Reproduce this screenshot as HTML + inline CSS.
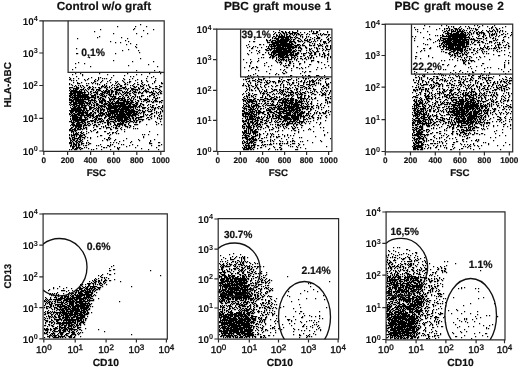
<!DOCTYPE html><html><head><meta charset="utf-8"><style>html,body{margin:0;padding:0;background:#fff;width:520px;height:368px;overflow:hidden}svg{display:block;filter:blur(0.3px)}text{font-family:"Liberation Sans",sans-serif;text-rendering:geometricPrecision}</style></head><body><svg width="520" height="368" viewBox="0 0 520 368" font-family="Liberation Sans, sans-serif" fill="#111"><path d="M140 24h1.2v1.2h-1.2zM424 25h1.2v1.2h-1.2zM441 25h1.2v1.2h-1.2zM446 25h1.2v1.2h-1.2zM474 25h1.2v1.2h-1.2zM477 25h1.2v1.2h-1.2zM482 25h1.2v1.2h-1.2zM494 25h1.2v1.2h-1.2zM117 26h1.2v1.2h-1.2zM135 26h1.2v1.2h-1.2zM146 26h1.2v1.2h-1.2zM429 26h1.2v1.2h-1.2zM448 26h1.2v1.2h-1.2zM451 26h1.2v1.2h-1.2zM453 26h1.2v1.2h-1.2zM460 26h1.2v1.2h-1.2zM465 26h1.2v1.2h-1.2zM468 26h1.2v1.2h-1.2zM479 26h1.2v1.2h-1.2zM487 26h1.2v1.2h-1.2zM492 26h1.2v1.2h-1.2zM505 26h1.2v1.2h-1.2zM414 27h1.2v1.2h-1.2zM448 27h1.2v1.2h-1.2zM453 27h1.2v1.2h-1.2zM459 27h1.2v1.2h-1.2zM469 27h1.2v1.2h-1.2zM478 27h1.2v1.2h-1.2zM491 27h2.2v1.2h-2.2zM495 27h1.2v1.2h-1.2zM502 27h1.2v1.2h-1.2zM134 28h1.2v1.2h-1.2zM423 28h1.2v1.2h-1.2zM439 28h1.2v1.2h-1.2zM444 28h1.2v1.2h-1.2zM446 28h2.2v1.2h-2.2zM449 28h1.2v1.2h-1.2zM454 28h3.2v1.2h-3.2zM458 28h1.2v1.2h-1.2zM461 28h1.2v1.2h-1.2zM467 28h1.2v1.2h-1.2zM469 28h1.2v1.2h-1.2zM471 28h1.2v1.2h-1.2zM473 28h1.2v1.2h-1.2zM475 28h1.2v1.2h-1.2zM489 28h1.2v1.2h-1.2zM491 28h1.2v1.2h-1.2zM496 28h1.2v1.2h-1.2zM499 28h1.2v1.2h-1.2zM100 29h1.2v1.2h-1.2zM133 29h1.2v1.2h-1.2zM153 29h1.2v1.2h-1.2zM415 29h1.2v1.2h-1.2zM417 29h1.2v1.2h-1.2zM436 29h1.2v1.2h-1.2zM444 29h1.2v1.2h-1.2zM449 29h1.2v1.2h-1.2zM451 29h2.2v1.2h-2.2zM455 29h3.2v1.2h-3.2zM459 29h2.2v1.2h-2.2zM463 29h1.2v1.2h-1.2zM475 29h3.2v1.2h-3.2zM493 29h1.2v1.2h-1.2zM496 29h2.2v1.2h-2.2zM143 30h1.2v1.2h-1.2zM279 30h1.2v1.2h-1.2zM297 30h1.2v1.2h-1.2zM311 30h1.2v1.2h-1.2zM319 30h1.2v1.2h-1.2zM442 30h1.2v1.2h-1.2zM446 30h1.2v1.2h-1.2zM448 30h2.2v1.2h-2.2zM451 30h1.2v1.2h-1.2zM453 30h1.2v1.2h-1.2zM455 30h1.2v1.2h-1.2zM457 30h1.2v1.2h-1.2zM459 30h2.2v1.2h-2.2zM462 30h1.2v1.2h-1.2zM464 30h1.2v1.2h-1.2zM466 30h1.2v1.2h-1.2zM470 30h1.2v1.2h-1.2zM472 30h1.2v1.2h-1.2zM476 30h1.2v1.2h-1.2zM482 30h1.2v1.2h-1.2zM486 30h1.2v1.2h-1.2zM489 30h1.2v1.2h-1.2zM492 30h1.2v1.2h-1.2zM494 30h1.2v1.2h-1.2zM497 30h1.2v1.2h-1.2zM500 30h1.2v1.2h-1.2zM502 30h1.2v1.2h-1.2zM94 31h1.2v1.2h-1.2zM273 31h1.2v1.2h-1.2zM281 31h2.2v1.2h-2.2zM285 31h1.2v1.2h-1.2zM289 31h1.2v1.2h-1.2zM292 31h1.2v1.2h-1.2zM297 31h1.2v1.2h-1.2zM309 31h1.2v1.2h-1.2zM311 31h1.2v1.2h-1.2zM313 31h1.2v1.2h-1.2zM316 31h2.2v1.2h-2.2zM327 31h1.2v1.2h-1.2zM417 31h1.2v1.2h-1.2zM427 31h1.2v1.2h-1.2zM444 31h2.2v1.2h-2.2zM447 31h1.2v1.2h-1.2zM451 31h5.2v1.2h-5.2zM457 31h7.2v1.2h-7.2zM469 31h1.2v1.2h-1.2zM474 31h1.2v1.2h-1.2zM478 31h1.2v1.2h-1.2zM481 31h1.2v1.2h-1.2zM487 31h2.2v1.2h-2.2zM490 31h3.2v1.2h-3.2zM495 31h1.2v1.2h-1.2zM497 31h1.2v1.2h-1.2zM499 31h1.2v1.2h-1.2zM502 31h1.2v1.2h-1.2zM505 31h1.2v1.2h-1.2zM275 32h1.2v1.2h-1.2zM278 32h2.2v1.2h-2.2zM282 32h2.2v1.2h-2.2zM285 32h2.2v1.2h-2.2zM288 32h2.2v1.2h-2.2zM292 32h5.2v1.2h-5.2zM300 32h1.2v1.2h-1.2zM304 32h1.2v1.2h-1.2zM313 32h1.2v1.2h-1.2zM316 32h2.2v1.2h-2.2zM327 32h1.2v1.2h-1.2zM420 32h1.2v1.2h-1.2zM443 32h1.2v1.2h-1.2zM447 32h2.2v1.2h-2.2zM451 32h1.2v1.2h-1.2zM456 32h3.2v1.2h-3.2zM461 32h2.2v1.2h-2.2zM464 32h2.2v1.2h-2.2zM467 32h1.2v1.2h-1.2zM469 32h2.2v1.2h-2.2zM473 32h1.2v1.2h-1.2zM476 32h2.2v1.2h-2.2zM479 32h5.2v1.2h-5.2zM488 32h1.2v1.2h-1.2zM495 32h1.2v1.2h-1.2zM499 32h1.2v1.2h-1.2zM511 32h1.2v1.2h-1.2zM113 33h1.2v1.2h-1.2zM136 33h1.2v1.2h-1.2zM147 33h1.2v1.2h-1.2zM274 33h1.2v1.2h-1.2zM280 33h1.2v1.2h-1.2zM283 33h2.2v1.2h-2.2zM286 33h1.2v1.2h-1.2zM289 33h4.2v1.2h-4.2zM294 33h2.2v1.2h-2.2zM297 33h2.2v1.2h-2.2zM307 33h1.2v1.2h-1.2zM312 33h5.2v1.2h-5.2zM320 33h1.2v1.2h-1.2zM323 33h1.2v1.2h-1.2zM445 33h7.2v1.2h-7.2zM453 33h6.2v1.2h-6.2zM460 33h4.2v1.2h-4.2zM465 33h1.2v1.2h-1.2zM468 33h1.2v1.2h-1.2zM471 33h1.2v1.2h-1.2zM473 33h1.2v1.2h-1.2zM476 33h2.2v1.2h-2.2zM479 33h1.2v1.2h-1.2zM481 33h1.2v1.2h-1.2zM483 33h2.2v1.2h-2.2zM489 33h1.2v1.2h-1.2zM492 33h1.2v1.2h-1.2zM494 33h1.2v1.2h-1.2zM496 33h1.2v1.2h-1.2zM503 33h1.2v1.2h-1.2zM507 33h1.2v1.2h-1.2zM273 34h1.2v1.2h-1.2zM276 34h1.2v1.2h-1.2zM279 34h1.2v1.2h-1.2zM281 34h1.2v1.2h-1.2zM284 34h1.2v1.2h-1.2zM286 34h2.2v1.2h-2.2zM290 34h1.2v1.2h-1.2zM292 34h1.2v1.2h-1.2zM294 34h1.2v1.2h-1.2zM296 34h1.2v1.2h-1.2zM298 34h2.2v1.2h-2.2zM301 34h2.2v1.2h-2.2zM306 34h1.2v1.2h-1.2zM309 34h1.2v1.2h-1.2zM318 34h1.2v1.2h-1.2zM320 34h1.2v1.2h-1.2zM322 34h1.2v1.2h-1.2zM324 34h3.2v1.2h-3.2zM328 34h2.2v1.2h-2.2zM429 34h1.2v1.2h-1.2zM442 34h1.2v1.2h-1.2zM447 34h2.2v1.2h-2.2zM450 34h16.2v1.2h-16.2zM467 34h1.2v1.2h-1.2zM469 34h1.2v1.2h-1.2zM471 34h1.2v1.2h-1.2zM477 34h2.2v1.2h-2.2zM483 34h2.2v1.2h-2.2zM489 34h1.2v1.2h-1.2zM491 34h4.2v1.2h-4.2zM496 34h1.2v1.2h-1.2zM501 34h2.2v1.2h-2.2zM505 34h1.2v1.2h-1.2zM511 34h1.2v1.2h-1.2zM276 35h2.2v1.2h-2.2zM279 35h1.2v1.2h-1.2zM281 35h2.2v1.2h-2.2zM284 35h1.2v1.2h-1.2zM286 35h1.2v1.2h-1.2zM289 35h1.2v1.2h-1.2zM293 35h1.2v1.2h-1.2zM296 35h1.2v1.2h-1.2zM300 35h1.2v1.2h-1.2zM316 35h1.2v1.2h-1.2zM321 35h1.2v1.2h-1.2zM328 35h1.2v1.2h-1.2zM435 35h1.2v1.2h-1.2zM437 35h1.2v1.2h-1.2zM440 35h1.2v1.2h-1.2zM442 35h2.2v1.2h-2.2zM446 35h1.2v1.2h-1.2zM448 35h19.2v1.2h-19.2zM469 35h1.2v1.2h-1.2zM479 35h1.2v1.2h-1.2zM483 35h1.2v1.2h-1.2zM485 35h1.2v1.2h-1.2zM489 35h1.2v1.2h-1.2zM491 35h2.2v1.2h-2.2zM496 35h1.2v1.2h-1.2zM499 35h1.2v1.2h-1.2zM510 35h1.2v1.2h-1.2zM99 36h1.2v1.2h-1.2zM141 36h1.2v1.2h-1.2zM273 36h2.2v1.2h-2.2zM276 36h1.2v1.2h-1.2zM278 36h7.2v1.2h-7.2zM286 36h5.2v1.2h-5.2zM295 36h1.2v1.2h-1.2zM300 36h1.2v1.2h-1.2zM302 36h1.2v1.2h-1.2zM306 36h1.2v1.2h-1.2zM308 36h1.2v1.2h-1.2zM317 36h1.2v1.2h-1.2zM327 36h1.2v1.2h-1.2zM412 36h1.2v1.2h-1.2zM415 36h1.2v1.2h-1.2zM442 36h24.2v1.2h-24.2zM468 36h1.2v1.2h-1.2zM472 36h1.2v1.2h-1.2zM478 36h1.2v1.2h-1.2zM482 36h2.2v1.2h-2.2zM489 36h1.2v1.2h-1.2zM495 36h1.2v1.2h-1.2zM498 36h1.2v1.2h-1.2zM504 36h2.2v1.2h-2.2zM97 37h1.2v1.2h-1.2zM121 37h1.2v1.2h-1.2zM272 37h1.2v1.2h-1.2zM275 37h1.2v1.2h-1.2zM278 37h11.2v1.2h-11.2zM290 37h3.2v1.2h-3.2zM294 37h1.2v1.2h-1.2zM296 37h2.2v1.2h-2.2zM302 37h1.2v1.2h-1.2zM306 37h1.2v1.2h-1.2zM310 37h1.2v1.2h-1.2zM314 37h1.2v1.2h-1.2zM317 37h3.2v1.2h-3.2zM326 37h1.2v1.2h-1.2zM330 37h1.2v1.2h-1.2zM423 37h1.2v1.2h-1.2zM440 37h2.2v1.2h-2.2zM448 37h3.2v1.2h-3.2zM452 37h18.2v1.2h-18.2zM476 37h1.2v1.2h-1.2zM483 37h1.2v1.2h-1.2zM486 37h1.2v1.2h-1.2zM490 37h1.2v1.2h-1.2zM493 37h1.2v1.2h-1.2zM503 37h1.2v1.2h-1.2zM508 37h1.2v1.2h-1.2zM77 38h1.2v1.2h-1.2zM127 38h1.2v1.2h-1.2zM272 38h1.2v1.2h-1.2zM274 38h5.2v1.2h-5.2zM281 38h3.2v1.2h-3.2zM285 38h4.2v1.2h-4.2zM290 38h1.2v1.2h-1.2zM295 38h1.2v1.2h-1.2zM298 38h2.2v1.2h-2.2zM305 38h1.2v1.2h-1.2zM312 38h1.2v1.2h-1.2zM316 38h4.2v1.2h-4.2zM328 38h1.2v1.2h-1.2zM414 38h1.2v1.2h-1.2zM429 38h1.2v1.2h-1.2zM440 38h1.2v1.2h-1.2zM442 38h16.2v1.2h-16.2zM459 38h4.2v1.2h-4.2zM464 38h2.2v1.2h-2.2zM469 38h1.2v1.2h-1.2zM471 38h1.2v1.2h-1.2zM473 38h1.2v1.2h-1.2zM477 38h5.2v1.2h-5.2zM485 38h2.2v1.2h-2.2zM492 38h2.2v1.2h-2.2zM495 38h1.2v1.2h-1.2zM266 39h1.2v1.2h-1.2zM270 39h1.2v1.2h-1.2zM276 39h3.2v1.2h-3.2zM280 39h10.2v1.2h-10.2zM291 39h1.2v1.2h-1.2zM293 39h2.2v1.2h-2.2zM300 39h1.2v1.2h-1.2zM304 39h1.2v1.2h-1.2zM307 39h1.2v1.2h-1.2zM309 39h2.2v1.2h-2.2zM314 39h1.2v1.2h-1.2zM321 39h1.2v1.2h-1.2zM327 39h2.2v1.2h-2.2zM427 39h1.2v1.2h-1.2zM430 39h1.2v1.2h-1.2zM438 39h1.2v1.2h-1.2zM440 39h1.2v1.2h-1.2zM443 39h3.2v1.2h-3.2zM447 39h22.2v1.2h-22.2zM470 39h5.2v1.2h-5.2zM483 39h1.2v1.2h-1.2zM495 39h1.2v1.2h-1.2zM497 39h1.2v1.2h-1.2zM503 39h1.2v1.2h-1.2zM125 40h1.2v1.2h-1.2zM266 40h2.2v1.2h-2.2zM269 40h2.2v1.2h-2.2zM272 40h4.2v1.2h-4.2zM277 40h12.2v1.2h-12.2zM290 40h1.2v1.2h-1.2zM293 40h1.2v1.2h-1.2zM297 40h2.2v1.2h-2.2zM301 40h1.2v1.2h-1.2zM304 40h4.2v1.2h-4.2zM309 40h1.2v1.2h-1.2zM314 40h1.2v1.2h-1.2zM317 40h1.2v1.2h-1.2zM320 40h1.2v1.2h-1.2zM328 40h1.2v1.2h-1.2zM330 40h1.2v1.2h-1.2zM414 40h1.2v1.2h-1.2zM437 40h1.2v1.2h-1.2zM439 40h1.2v1.2h-1.2zM441 40h3.2v1.2h-3.2zM445 40h7.2v1.2h-7.2zM453 40h8.2v1.2h-8.2zM462 40h5.2v1.2h-5.2zM468 40h1.2v1.2h-1.2zM474 40h4.2v1.2h-4.2zM479 40h1.2v1.2h-1.2zM486 40h1.2v1.2h-1.2zM493 40h2.2v1.2h-2.2zM496 40h1.2v1.2h-1.2zM502 40h2.2v1.2h-2.2zM110 41h1.2v1.2h-1.2zM128 41h1.2v1.2h-1.2zM249 41h1.2v1.2h-1.2zM253 41h2.2v1.2h-2.2zM267 41h1.2v1.2h-1.2zM271 41h2.2v1.2h-2.2zM275 41h13.2v1.2h-13.2zM289 41h6.2v1.2h-6.2zM298 41h3.2v1.2h-3.2zM302 41h1.2v1.2h-1.2zM307 41h2.2v1.2h-2.2zM311 41h1.2v1.2h-1.2zM313 41h1.2v1.2h-1.2zM315 41h1.2v1.2h-1.2zM320 41h1.2v1.2h-1.2zM323 41h3.2v1.2h-3.2zM329 41h1.2v1.2h-1.2zM435 41h1.2v1.2h-1.2zM439 41h1.2v1.2h-1.2zM443 41h8.2v1.2h-8.2zM452 41h13.2v1.2h-13.2zM466 41h3.2v1.2h-3.2zM471 41h1.2v1.2h-1.2zM474 41h1.2v1.2h-1.2zM478 41h1.2v1.2h-1.2zM481 41h2.2v1.2h-2.2zM489 41h3.2v1.2h-3.2zM504 41h1.2v1.2h-1.2zM115 42h1.2v1.2h-1.2zM120 42h1.2v1.2h-1.2zM267 42h3.2v1.2h-3.2zM271 42h16.2v1.2h-16.2zM289 42h3.2v1.2h-3.2zM294 42h2.2v1.2h-2.2zM304 42h1.2v1.2h-1.2zM309 42h2.2v1.2h-2.2zM323 42h3.2v1.2h-3.2zM328 42h1.2v1.2h-1.2zM433 42h1.2v1.2h-1.2zM442 42h10.2v1.2h-10.2zM453 42h16.2v1.2h-16.2zM471 42h1.2v1.2h-1.2zM473 42h1.2v1.2h-1.2zM477 42h3.2v1.2h-3.2zM482 42h2.2v1.2h-2.2zM489 42h1.2v1.2h-1.2zM491 42h1.2v1.2h-1.2zM495 42h1.2v1.2h-1.2zM497 42h1.2v1.2h-1.2zM499 42h1.2v1.2h-1.2zM502 42h1.2v1.2h-1.2zM507 42h1.2v1.2h-1.2zM130 43h1.2v1.2h-1.2zM272 43h7.2v1.2h-7.2zM280 43h10.2v1.2h-10.2zM291 43h2.2v1.2h-2.2zM295 43h1.2v1.2h-1.2zM303 43h1.2v1.2h-1.2zM312 43h1.2v1.2h-1.2zM314 43h1.2v1.2h-1.2zM319 43h1.2v1.2h-1.2zM324 43h1.2v1.2h-1.2zM326 43h1.2v1.2h-1.2zM423 43h1.2v1.2h-1.2zM439 43h1.2v1.2h-1.2zM441 43h2.2v1.2h-2.2zM444 43h1.2v1.2h-1.2zM446 43h11.2v1.2h-11.2zM458 43h7.2v1.2h-7.2zM466 43h3.2v1.2h-3.2zM472 43h1.2v1.2h-1.2zM485 43h1.2v1.2h-1.2zM487 43h1.2v1.2h-1.2zM494 43h1.2v1.2h-1.2zM499 43h1.2v1.2h-1.2zM508 43h1.2v1.2h-1.2zM126 44h1.2v1.2h-1.2zM136 44h1.2v1.2h-1.2zM248 44h1.2v1.2h-1.2zM259 44h2.2v1.2h-2.2zM263 44h1.2v1.2h-1.2zM269 44h6.2v1.2h-6.2zM276 44h18.2v1.2h-18.2zM297 44h3.2v1.2h-3.2zM302 44h1.2v1.2h-1.2zM309 44h1.2v1.2h-1.2zM314 44h1.2v1.2h-1.2zM317 44h1.2v1.2h-1.2zM320 44h1.2v1.2h-1.2zM322 44h1.2v1.2h-1.2zM425 44h1.2v1.2h-1.2zM427 44h1.2v1.2h-1.2zM441 44h1.2v1.2h-1.2zM443 44h1.2v1.2h-1.2zM445 44h20.2v1.2h-20.2zM466 44h3.2v1.2h-3.2zM470 44h1.2v1.2h-1.2zM474 44h2.2v1.2h-2.2zM479 44h1.2v1.2h-1.2zM497 44h4.2v1.2h-4.2zM506 44h1.2v1.2h-1.2zM246 45h1.2v1.2h-1.2zM269 45h1.2v1.2h-1.2zM271 45h1.2v1.2h-1.2zM273 45h19.2v1.2h-19.2zM294 45h5.2v1.2h-5.2zM300 45h1.2v1.2h-1.2zM302 45h3.2v1.2h-3.2zM309 45h3.2v1.2h-3.2zM313 45h2.2v1.2h-2.2zM318 45h4.2v1.2h-4.2zM326 45h2.2v1.2h-2.2zM330 45h1.2v1.2h-1.2zM439 45h2.2v1.2h-2.2zM443 45h2.2v1.2h-2.2zM446 45h1.2v1.2h-1.2zM448 45h17.2v1.2h-17.2zM466 45h1.2v1.2h-1.2zM479 45h1.2v1.2h-1.2zM484 45h1.2v1.2h-1.2zM491 45h1.2v1.2h-1.2zM495 45h1.2v1.2h-1.2zM498 45h1.2v1.2h-1.2zM503 45h1.2v1.2h-1.2zM505 45h1.2v1.2h-1.2zM508 45h1.2v1.2h-1.2zM135 46h1.2v1.2h-1.2zM249 46h1.2v1.2h-1.2zM253 46h1.2v1.2h-1.2zM255 46h1.2v1.2h-1.2zM266 46h1.2v1.2h-1.2zM268 46h1.2v1.2h-1.2zM270 46h6.2v1.2h-6.2zM277 46h4.2v1.2h-4.2zM282 46h12.2v1.2h-12.2zM295 46h2.2v1.2h-2.2zM299 46h1.2v1.2h-1.2zM305 46h1.2v1.2h-1.2zM318 46h1.2v1.2h-1.2zM322 46h1.2v1.2h-1.2zM325 46h1.2v1.2h-1.2zM327 46h1.2v1.2h-1.2zM330 46h1.2v1.2h-1.2zM417 46h1.2v1.2h-1.2zM437 46h1.2v1.2h-1.2zM439 46h1.2v1.2h-1.2zM442 46h5.2v1.2h-5.2zM448 46h6.2v1.2h-6.2zM455 46h1.2v1.2h-1.2zM457 46h4.2v1.2h-4.2zM462 46h7.2v1.2h-7.2zM484 46h1.2v1.2h-1.2zM487 46h2.2v1.2h-2.2zM495 46h1.2v1.2h-1.2zM498 46h1.2v1.2h-1.2zM508 46h2.2v1.2h-2.2zM136 47h1.2v1.2h-1.2zM247 47h1.2v1.2h-1.2zM252 47h1.2v1.2h-1.2zM257 47h1.2v1.2h-1.2zM261 47h1.2v1.2h-1.2zM268 47h1.2v1.2h-1.2zM271 47h1.2v1.2h-1.2zM274 47h1.2v1.2h-1.2zM276 47h8.2v1.2h-8.2zM285 47h1.2v1.2h-1.2zM287 47h10.2v1.2h-10.2zM298 47h3.2v1.2h-3.2zM305 47h2.2v1.2h-2.2zM314 47h1.2v1.2h-1.2zM316 47h1.2v1.2h-1.2zM325 47h1.2v1.2h-1.2zM330 47h1.2v1.2h-1.2zM430 47h1.2v1.2h-1.2zM440 47h1.2v1.2h-1.2zM443 47h1.2v1.2h-1.2zM446 47h8.2v1.2h-8.2zM455 47h6.2v1.2h-6.2zM462 47h4.2v1.2h-4.2zM471 47h1.2v1.2h-1.2zM480 47h1.2v1.2h-1.2zM483 47h1.2v1.2h-1.2zM485 47h1.2v1.2h-1.2zM487 47h1.2v1.2h-1.2zM494 47h1.2v1.2h-1.2zM496 47h1.2v1.2h-1.2zM498 47h2.2v1.2h-2.2zM501 47h1.2v1.2h-1.2zM504 47h2.2v1.2h-2.2zM76 48h1.2v1.2h-1.2zM251 48h2.2v1.2h-2.2zM267 48h3.2v1.2h-3.2zM271 48h20.2v1.2h-20.2zM292 48h2.2v1.2h-2.2zM298 48h1.2v1.2h-1.2zM300 48h2.2v1.2h-2.2zM306 48h1.2v1.2h-1.2zM309 48h1.2v1.2h-1.2zM311 48h1.2v1.2h-1.2zM316 48h2.2v1.2h-2.2zM319 48h1.2v1.2h-1.2zM322 48h1.2v1.2h-1.2zM326 48h1.2v1.2h-1.2zM330 48h1.2v1.2h-1.2zM423 48h2.2v1.2h-2.2zM429 48h2.2v1.2h-2.2zM443 48h1.2v1.2h-1.2zM446 48h1.2v1.2h-1.2zM448 48h15.2v1.2h-15.2zM465 48h1.2v1.2h-1.2zM467 48h1.2v1.2h-1.2zM469 48h1.2v1.2h-1.2zM474 48h1.2v1.2h-1.2zM477 48h1.2v1.2h-1.2zM480 48h3.2v1.2h-3.2zM486 48h2.2v1.2h-2.2zM489 48h1.2v1.2h-1.2zM491 48h1.2v1.2h-1.2zM493 48h3.2v1.2h-3.2zM499 48h1.2v1.2h-1.2zM508 48h1.2v1.2h-1.2zM128 49h1.2v1.2h-1.2zM265 49h2.2v1.2h-2.2zM269 49h3.2v1.2h-3.2zM274 49h1.2v1.2h-1.2zM276 49h11.2v1.2h-11.2zM288 49h4.2v1.2h-4.2zM295 49h1.2v1.2h-1.2zM301 49h1.2v1.2h-1.2zM309 49h2.2v1.2h-2.2zM317 49h1.2v1.2h-1.2zM323 49h1.2v1.2h-1.2zM326 49h4.2v1.2h-4.2zM441 49h2.2v1.2h-2.2zM445 49h4.2v1.2h-4.2zM450 49h13.2v1.2h-13.2zM464 49h2.2v1.2h-2.2zM469 49h2.2v1.2h-2.2zM473 49h1.2v1.2h-1.2zM479 49h1.2v1.2h-1.2zM482 49h2.2v1.2h-2.2zM488 49h1.2v1.2h-1.2zM497 49h1.2v1.2h-1.2zM122 50h1.2v1.2h-1.2zM138 50h1.2v1.2h-1.2zM249 50h1.2v1.2h-1.2zM256 50h1.2v1.2h-1.2zM259 50h1.2v1.2h-1.2zM266 50h3.2v1.2h-3.2zM270 50h1.2v1.2h-1.2zM273 50h9.2v1.2h-9.2zM283 50h9.2v1.2h-9.2zM293 50h2.2v1.2h-2.2zM296 50h1.2v1.2h-1.2zM298 50h3.2v1.2h-3.2zM306 50h1.2v1.2h-1.2zM309 50h1.2v1.2h-1.2zM312 50h1.2v1.2h-1.2zM317 50h1.2v1.2h-1.2zM322 50h1.2v1.2h-1.2zM325 50h1.2v1.2h-1.2zM421 50h1.2v1.2h-1.2zM424 50h1.2v1.2h-1.2zM449 50h2.2v1.2h-2.2zM453 50h3.2v1.2h-3.2zM457 50h6.2v1.2h-6.2zM464 50h1.2v1.2h-1.2zM466 50h2.2v1.2h-2.2zM473 50h2.2v1.2h-2.2zM477 50h1.2v1.2h-1.2zM481 50h1.2v1.2h-1.2zM493 50h1.2v1.2h-1.2zM496 50h1.2v1.2h-1.2zM501 50h1.2v1.2h-1.2zM504 50h1.2v1.2h-1.2zM258 51h1.2v1.2h-1.2zM272 51h19.2v1.2h-19.2zM292 51h4.2v1.2h-4.2zM300 51h1.2v1.2h-1.2zM310 51h1.2v1.2h-1.2zM313 51h1.2v1.2h-1.2zM316 51h3.2v1.2h-3.2zM328 51h1.2v1.2h-1.2zM420 51h1.2v1.2h-1.2zM441 51h1.2v1.2h-1.2zM443 51h1.2v1.2h-1.2zM451 51h4.2v1.2h-4.2zM457 51h1.2v1.2h-1.2zM460 51h3.2v1.2h-3.2zM465 51h1.2v1.2h-1.2zM476 51h1.2v1.2h-1.2zM482 51h1.2v1.2h-1.2zM484 51h1.2v1.2h-1.2zM486 51h1.2v1.2h-1.2zM497 51h1.2v1.2h-1.2zM499 51h1.2v1.2h-1.2zM139 52h1.2v1.2h-1.2zM251 52h1.2v1.2h-1.2zM259 52h1.2v1.2h-1.2zM265 52h1.2v1.2h-1.2zM268 52h1.2v1.2h-1.2zM271 52h23.2v1.2h-23.2zM297 52h2.2v1.2h-2.2zM306 52h1.2v1.2h-1.2zM308 52h1.2v1.2h-1.2zM311 52h1.2v1.2h-1.2zM314 52h2.2v1.2h-2.2zM323 52h1.2v1.2h-1.2zM416 52h1.2v1.2h-1.2zM445 52h2.2v1.2h-2.2zM449 52h2.2v1.2h-2.2zM453 52h1.2v1.2h-1.2zM456 52h3.2v1.2h-3.2zM461 52h1.2v1.2h-1.2zM464 52h1.2v1.2h-1.2zM466 52h1.2v1.2h-1.2zM468 52h1.2v1.2h-1.2zM471 52h2.2v1.2h-2.2zM477 52h1.2v1.2h-1.2zM482 52h1.2v1.2h-1.2zM509 52h1.2v1.2h-1.2zM76 53h2.2v1.2h-2.2zM115 53h1.2v1.2h-1.2zM247 53h1.2v1.2h-1.2zM257 53h1.2v1.2h-1.2zM268 53h1.2v1.2h-1.2zM271 53h1.2v1.2h-1.2zM273 53h3.2v1.2h-3.2zM278 53h10.2v1.2h-10.2zM290 53h2.2v1.2h-2.2zM293 53h1.2v1.2h-1.2zM295 53h4.2v1.2h-4.2zM301 53h1.2v1.2h-1.2zM303 53h3.2v1.2h-3.2zM309 53h3.2v1.2h-3.2zM314 53h2.2v1.2h-2.2zM319 53h1.2v1.2h-1.2zM323 53h2.2v1.2h-2.2zM328 53h1.2v1.2h-1.2zM448 53h2.2v1.2h-2.2zM454 53h4.2v1.2h-4.2zM459 53h2.2v1.2h-2.2zM462 53h1.2v1.2h-1.2zM464 53h1.2v1.2h-1.2zM467 53h1.2v1.2h-1.2zM475 53h1.2v1.2h-1.2zM483 53h1.2v1.2h-1.2zM486 53h1.2v1.2h-1.2zM488 53h1.2v1.2h-1.2zM248 54h1.2v1.2h-1.2zM262 54h2.2v1.2h-2.2zM269 54h3.2v1.2h-3.2zM273 54h2.2v1.2h-2.2zM276 54h12.2v1.2h-12.2zM289 54h5.2v1.2h-5.2zM295 54h3.2v1.2h-3.2zM303 54h1.2v1.2h-1.2zM310 54h1.2v1.2h-1.2zM314 54h2.2v1.2h-2.2zM319 54h1.2v1.2h-1.2zM322 54h1.2v1.2h-1.2zM324 54h1.2v1.2h-1.2zM327 54h2.2v1.2h-2.2zM449 54h2.2v1.2h-2.2zM452 54h1.2v1.2h-1.2zM454 54h1.2v1.2h-1.2zM457 54h1.2v1.2h-1.2zM462 54h2.2v1.2h-2.2zM465 54h2.2v1.2h-2.2zM473 54h1.2v1.2h-1.2zM493 54h1.2v1.2h-1.2zM504 54h1.2v1.2h-1.2zM271 55h3.2v1.2h-3.2zM275 55h2.2v1.2h-2.2zM278 55h7.2v1.2h-7.2zM286 55h3.2v1.2h-3.2zM290 55h7.2v1.2h-7.2zM303 55h2.2v1.2h-2.2zM309 55h1.2v1.2h-1.2zM311 55h2.2v1.2h-2.2zM319 55h1.2v1.2h-1.2zM324 55h2.2v1.2h-2.2zM328 55h1.2v1.2h-1.2zM428 55h1.2v1.2h-1.2zM451 55h2.2v1.2h-2.2zM454 55h2.2v1.2h-2.2zM457 55h1.2v1.2h-1.2zM460 55h1.2v1.2h-1.2zM462 55h1.2v1.2h-1.2zM466 55h1.2v1.2h-1.2zM498 55h2.2v1.2h-2.2zM508 55h1.2v1.2h-1.2zM270 56h1.2v1.2h-1.2zM272 56h3.2v1.2h-3.2zM278 56h6.2v1.2h-6.2zM285 56h3.2v1.2h-3.2zM291 56h1.2v1.2h-1.2zM294 56h1.2v1.2h-1.2zM297 56h1.2v1.2h-1.2zM300 56h2.2v1.2h-2.2zM307 56h1.2v1.2h-1.2zM311 56h1.2v1.2h-1.2zM316 56h1.2v1.2h-1.2zM321 56h2.2v1.2h-2.2zM324 56h1.2v1.2h-1.2zM330 56h1.2v1.2h-1.2zM415 56h2.2v1.2h-2.2zM428 56h1.2v1.2h-1.2zM450 56h1.2v1.2h-1.2zM455 56h1.2v1.2h-1.2zM458 56h3.2v1.2h-3.2zM467 56h1.2v1.2h-1.2zM469 56h2.2v1.2h-2.2zM479 56h1.2v1.2h-1.2zM484 56h1.2v1.2h-1.2zM510 56h1.2v1.2h-1.2zM89 57h1.2v1.2h-1.2zM261 57h1.2v1.2h-1.2zM263 57h1.2v1.2h-1.2zM269 57h2.2v1.2h-2.2zM272 57h2.2v1.2h-2.2zM276 57h1.2v1.2h-1.2zM278 57h1.2v1.2h-1.2zM280 57h9.2v1.2h-9.2zM291 57h3.2v1.2h-3.2zM295 57h1.2v1.2h-1.2zM305 57h1.2v1.2h-1.2zM308 57h1.2v1.2h-1.2zM310 57h2.2v1.2h-2.2zM313 57h1.2v1.2h-1.2zM324 57h1.2v1.2h-1.2zM327 57h1.2v1.2h-1.2zM330 57h1.2v1.2h-1.2zM432 57h1.2v1.2h-1.2zM454 57h1.2v1.2h-1.2zM461 57h1.2v1.2h-1.2zM464 57h1.2v1.2h-1.2zM466 57h1.2v1.2h-1.2zM471 57h1.2v1.2h-1.2zM476 57h1.2v1.2h-1.2zM480 57h1.2v1.2h-1.2zM140 58h1.2v1.2h-1.2zM258 58h1.2v1.2h-1.2zM272 58h1.2v1.2h-1.2zM276 58h1.2v1.2h-1.2zM279 58h1.2v1.2h-1.2zM282 58h2.2v1.2h-2.2zM288 58h1.2v1.2h-1.2zM291 58h1.2v1.2h-1.2zM294 58h1.2v1.2h-1.2zM297 58h1.2v1.2h-1.2zM300 58h2.2v1.2h-2.2zM304 58h2.2v1.2h-2.2zM308 58h1.2v1.2h-1.2zM310 58h1.2v1.2h-1.2zM313 58h1.2v1.2h-1.2zM327 58h1.2v1.2h-1.2zM415 58h1.2v1.2h-1.2zM420 58h1.2v1.2h-1.2zM457 58h1.2v1.2h-1.2zM464 58h1.2v1.2h-1.2zM469 58h1.2v1.2h-1.2zM243 59h1.2v1.2h-1.2zM250 59h1.2v1.2h-1.2zM276 59h1.2v1.2h-1.2zM278 59h1.2v1.2h-1.2zM280 59h5.2v1.2h-5.2zM286 59h1.2v1.2h-1.2zM288 59h4.2v1.2h-4.2zM294 59h1.2v1.2h-1.2zM296 59h1.2v1.2h-1.2zM302 59h1.2v1.2h-1.2zM306 59h1.2v1.2h-1.2zM327 59h1.2v1.2h-1.2zM449 59h1.2v1.2h-1.2zM452 59h1.2v1.2h-1.2zM460 59h1.2v1.2h-1.2zM462 59h1.2v1.2h-1.2zM465 59h1.2v1.2h-1.2zM469 59h1.2v1.2h-1.2zM478 59h1.2v1.2h-1.2zM489 59h1.2v1.2h-1.2zM113 60h1.2v1.2h-1.2zM258 60h1.2v1.2h-1.2zM275 60h1.2v1.2h-1.2zM278 60h2.2v1.2h-2.2zM281 60h1.2v1.2h-1.2zM283 60h1.2v1.2h-1.2zM285 60h2.2v1.2h-2.2zM288 60h1.2v1.2h-1.2zM296 60h1.2v1.2h-1.2zM311 60h3.2v1.2h-3.2zM441 60h1.2v1.2h-1.2zM444 60h1.2v1.2h-1.2zM457 60h1.2v1.2h-1.2zM462 60h3.2v1.2h-3.2zM466 60h1.2v1.2h-1.2zM468 60h1.2v1.2h-1.2zM470 60h4.2v1.2h-4.2zM505 60h1.2v1.2h-1.2zM508 60h1.2v1.2h-1.2zM132 61h1.2v1.2h-1.2zM153 61h1.2v1.2h-1.2zM251 61h1.2v1.2h-1.2zM257 61h1.2v1.2h-1.2zM276 61h1.2v1.2h-1.2zM280 61h1.2v1.2h-1.2zM286 61h1.2v1.2h-1.2zM289 61h2.2v1.2h-2.2zM292 61h1.2v1.2h-1.2zM298 61h1.2v1.2h-1.2zM304 61h1.2v1.2h-1.2zM311 61h1.2v1.2h-1.2zM317 61h2.2v1.2h-2.2zM327 61h1.2v1.2h-1.2zM463 61h1.2v1.2h-1.2zM465 61h1.2v1.2h-1.2zM471 61h1.2v1.2h-1.2zM474 61h1.2v1.2h-1.2zM78 62h1.2v1.2h-1.2zM246 62h1.2v1.2h-1.2zM250 62h1.2v1.2h-1.2zM266 62h1.2v1.2h-1.2zM277 62h1.2v1.2h-1.2zM279 62h3.2v1.2h-3.2zM289 62h2.2v1.2h-2.2zM304 62h1.2v1.2h-1.2zM318 62h1.2v1.2h-1.2zM321 62h1.2v1.2h-1.2zM463 62h2.2v1.2h-2.2zM468 62h1.2v1.2h-1.2zM504 62h1.2v1.2h-1.2zM508 62h1.2v1.2h-1.2zM75 63h1.2v1.2h-1.2zM84 63h1.2v1.2h-1.2zM250 63h1.2v1.2h-1.2zM264 63h1.2v1.2h-1.2zM281 63h1.2v1.2h-1.2zM285 63h1.2v1.2h-1.2zM289 63h2.2v1.2h-2.2zM293 63h1.2v1.2h-1.2zM299 63h2.2v1.2h-2.2zM463 63h2.2v1.2h-2.2zM468 63h2.2v1.2h-2.2zM482 63h2.2v1.2h-2.2zM508 63h1.2v1.2h-1.2zM148 64h1.2v1.2h-1.2zM280 64h1.2v1.2h-1.2zM288 64h1.2v1.2h-1.2zM299 64h1.2v1.2h-1.2zM309 64h2.2v1.2h-2.2zM324 64h1.2v1.2h-1.2zM442 64h2.2v1.2h-2.2zM448 64h1.2v1.2h-1.2zM465 64h1.2v1.2h-1.2zM504 64h1.2v1.2h-1.2zM128 65h1.2v1.2h-1.2zM249 65h1.2v1.2h-1.2zM264 65h1.2v1.2h-1.2zM271 65h1.2v1.2h-1.2zM283 65h1.2v1.2h-1.2zM285 65h2.2v1.2h-2.2zM288 65h2.2v1.2h-2.2zM293 65h1.2v1.2h-1.2zM328 65h1.2v1.2h-1.2zM447 65h1.2v1.2h-1.2zM455 65h1.2v1.2h-1.2zM481 65h1.2v1.2h-1.2zM504 65h1.2v1.2h-1.2zM90 66h1.2v1.2h-1.2zM157 66h1.2v1.2h-1.2zM249 66h1.2v1.2h-1.2zM256 66h1.2v1.2h-1.2zM268 66h1.2v1.2h-1.2zM284 66h1.2v1.2h-1.2zM293 66h1.2v1.2h-1.2zM308 66h1.2v1.2h-1.2zM454 66h1.2v1.2h-1.2zM470 66h1.2v1.2h-1.2zM476 66h1.2v1.2h-1.2zM504 66h1.2v1.2h-1.2zM75 67h1.2v1.2h-1.2zM244 67h1.2v1.2h-1.2zM252 67h2.2v1.2h-2.2zM256 67h2.2v1.2h-2.2zM286 67h2.2v1.2h-2.2zM296 67h2.2v1.2h-2.2zM301 67h1.2v1.2h-1.2zM305 67h1.2v1.2h-1.2zM317 67h1.2v1.2h-1.2zM325 67h1.2v1.2h-1.2zM330 67h1.2v1.2h-1.2zM468 67h1.2v1.2h-1.2zM487 67h1.2v1.2h-1.2zM490 67h1.2v1.2h-1.2zM504 67h1.2v1.2h-1.2zM251 68h1.2v1.2h-1.2zM291 68h1.2v1.2h-1.2zM299 68h1.2v1.2h-1.2zM302 68h1.2v1.2h-1.2zM321 68h1.2v1.2h-1.2zM471 68h1.2v1.2h-1.2zM484 68h1.2v1.2h-1.2zM498 68h1.2v1.2h-1.2zM72 69h1.2v1.2h-1.2zM255 69h1.2v1.2h-1.2zM270 69h1.2v1.2h-1.2zM280 69h1.2v1.2h-1.2zM284 69h1.2v1.2h-1.2zM316 69h1.2v1.2h-1.2zM443 69h1.2v1.2h-1.2zM445 69h1.2v1.2h-1.2zM501 69h1.2v1.2h-1.2zM510 69h1.2v1.2h-1.2zM136 70h1.2v1.2h-1.2zM154 70h1.2v1.2h-1.2zM248 70h1.2v1.2h-1.2zM258 70h1.2v1.2h-1.2zM283 70h1.2v1.2h-1.2zM291 70h1.2v1.2h-1.2zM453 70h1.2v1.2h-1.2zM460 70h1.2v1.2h-1.2zM475 70h1.2v1.2h-1.2zM159 71h1.2v1.2h-1.2zM266 71h1.2v1.2h-1.2zM285 71h1.2v1.2h-1.2zM302 71h1.2v1.2h-1.2zM305 71h1.2v1.2h-1.2zM309 71h2.2v1.2h-2.2zM414 71h1.2v1.2h-1.2zM433 71h1.2v1.2h-1.2zM459 71h1.2v1.2h-1.2zM467 71h1.2v1.2h-1.2zM472 71h1.2v1.2h-1.2zM484 71h1.2v1.2h-1.2zM503 71h1.2v1.2h-1.2zM508 71h1.2v1.2h-1.2zM282 72h1.2v1.2h-1.2zM286 72h1.2v1.2h-1.2zM304 72h1.2v1.2h-1.2zM416 72h1.2v1.2h-1.2zM427 72h1.2v1.2h-1.2zM450 72h1.2v1.2h-1.2zM455 72h1.2v1.2h-1.2zM462 72h1.2v1.2h-1.2zM472 72h2.2v1.2h-2.2zM489 72h1.2v1.2h-1.2zM75 73h1.2v1.2h-1.2zM80 73h1.2v1.2h-1.2zM99 73h1.2v1.2h-1.2zM127 73h1.2v1.2h-1.2zM149 73h1.2v1.2h-1.2zM160 73h1.2v1.2h-1.2zM255 73h1.2v1.2h-1.2zM269 73h1.2v1.2h-1.2zM276 73h1.2v1.2h-1.2zM283 73h2.2v1.2h-2.2zM300 73h1.2v1.2h-1.2zM414 73h1.2v1.2h-1.2zM434 73h1.2v1.2h-1.2zM438 73h1.2v1.2h-1.2zM440 73h1.2v1.2h-1.2zM452 73h1.2v1.2h-1.2zM458 73h1.2v1.2h-1.2zM465 73h1.2v1.2h-1.2zM469 73h1.2v1.2h-1.2zM481 73h1.2v1.2h-1.2zM489 73h1.2v1.2h-1.2zM505 73h1.2v1.2h-1.2zM72 74h1.2v1.2h-1.2zM82 74h1.2v1.2h-1.2zM107 74h1.2v1.2h-1.2zM136 74h1.2v1.2h-1.2zM141 74h1.2v1.2h-1.2zM253 74h1.2v1.2h-1.2zM275 74h1.2v1.2h-1.2zM278 74h1.2v1.2h-1.2zM419 74h1.2v1.2h-1.2zM423 74h2.2v1.2h-2.2zM439 74h1.2v1.2h-1.2zM441 74h2.2v1.2h-2.2zM453 74h1.2v1.2h-1.2zM468 74h1.2v1.2h-1.2zM483 74h1.2v1.2h-1.2zM82 75h1.2v1.2h-1.2zM113 75h1.2v1.2h-1.2zM124 75h1.2v1.2h-1.2zM248 75h1.2v1.2h-1.2zM250 75h1.2v1.2h-1.2zM257 75h1.2v1.2h-1.2zM290 75h2.2v1.2h-2.2zM302 75h1.2v1.2h-1.2zM305 75h1.2v1.2h-1.2zM308 75h2.2v1.2h-2.2zM316 75h3.2v1.2h-3.2zM324 75h1.2v1.2h-1.2zM415 75h1.2v1.2h-1.2zM422 75h1.2v1.2h-1.2zM424 75h1.2v1.2h-1.2zM441 75h1.2v1.2h-1.2zM443 75h1.2v1.2h-1.2zM445 75h1.2v1.2h-1.2zM449 75h1.2v1.2h-1.2zM455 75h1.2v1.2h-1.2zM458 75h1.2v1.2h-1.2zM468 75h2.2v1.2h-2.2zM472 75h2.2v1.2h-2.2zM480 75h1.2v1.2h-1.2zM482 75h1.2v1.2h-1.2zM486 75h1.2v1.2h-1.2zM488 75h1.2v1.2h-1.2zM499 75h1.2v1.2h-1.2zM76 76h1.2v1.2h-1.2zM130 76h1.2v1.2h-1.2zM133 76h1.2v1.2h-1.2zM147 76h1.2v1.2h-1.2zM153 76h1.2v1.2h-1.2zM247 76h1.2v1.2h-1.2zM258 76h1.2v1.2h-1.2zM262 76h2.2v1.2h-2.2zM286 76h1.2v1.2h-1.2zM288 76h1.2v1.2h-1.2zM290 76h1.2v1.2h-1.2zM308 76h3.2v1.2h-3.2zM316 76h1.2v1.2h-1.2zM319 76h1.2v1.2h-1.2zM418 76h1.2v1.2h-1.2zM423 76h2.2v1.2h-2.2zM433 76h2.2v1.2h-2.2zM436 76h2.2v1.2h-2.2zM456 76h2.2v1.2h-2.2zM459 76h1.2v1.2h-1.2zM462 76h2.2v1.2h-2.2zM465 76h1.2v1.2h-1.2zM471 76h1.2v1.2h-1.2zM478 76h3.2v1.2h-3.2zM493 76h1.2v1.2h-1.2zM505 76h1.2v1.2h-1.2zM69 77h1.2v1.2h-1.2zM91 77h1.2v1.2h-1.2zM98 77h1.2v1.2h-1.2zM100 77h1.2v1.2h-1.2zM111 77h1.2v1.2h-1.2zM151 77h1.2v1.2h-1.2zM245 77h1.2v1.2h-1.2zM251 77h1.2v1.2h-1.2zM253 77h1.2v1.2h-1.2zM269 77h1.2v1.2h-1.2zM279 77h1.2v1.2h-1.2zM282 77h1.2v1.2h-1.2zM296 77h1.2v1.2h-1.2zM302 77h2.2v1.2h-2.2zM310 77h1.2v1.2h-1.2zM314 77h1.2v1.2h-1.2zM321 77h1.2v1.2h-1.2zM324 77h1.2v1.2h-1.2zM415 77h2.2v1.2h-2.2zM419 77h1.2v1.2h-1.2zM421 77h1.2v1.2h-1.2zM427 77h1.2v1.2h-1.2zM437 77h1.2v1.2h-1.2zM442 77h1.2v1.2h-1.2zM448 77h1.2v1.2h-1.2zM450 77h1.2v1.2h-1.2zM452 77h1.2v1.2h-1.2zM459 77h1.2v1.2h-1.2zM471 77h2.2v1.2h-2.2zM479 77h1.2v1.2h-1.2zM482 77h3.2v1.2h-3.2zM486 77h1.2v1.2h-1.2zM488 77h4.2v1.2h-4.2zM506 77h1.2v1.2h-1.2zM510 77h1.2v1.2h-1.2zM70 78h1.2v1.2h-1.2zM73 78h1.2v1.2h-1.2zM78 78h1.2v1.2h-1.2zM88 78h1.2v1.2h-1.2zM98 78h1.2v1.2h-1.2zM102 78h1.2v1.2h-1.2zM104 78h1.2v1.2h-1.2zM106 78h1.2v1.2h-1.2zM123 78h1.2v1.2h-1.2zM132 78h1.2v1.2h-1.2zM146 78h1.2v1.2h-1.2zM155 78h1.2v1.2h-1.2zM247 78h3.2v1.2h-3.2zM252 78h1.2v1.2h-1.2zM258 78h1.2v1.2h-1.2zM263 78h2.2v1.2h-2.2zM279 78h1.2v1.2h-1.2zM291 78h1.2v1.2h-1.2zM298 78h1.2v1.2h-1.2zM303 78h1.2v1.2h-1.2zM305 78h2.2v1.2h-2.2zM308 78h1.2v1.2h-1.2zM317 78h1.2v1.2h-1.2zM320 78h1.2v1.2h-1.2zM322 78h1.2v1.2h-1.2zM326 78h3.2v1.2h-3.2zM419 78h1.2v1.2h-1.2zM421 78h1.2v1.2h-1.2zM427 78h1.2v1.2h-1.2zM430 78h2.2v1.2h-2.2zM433 78h1.2v1.2h-1.2zM436 78h3.2v1.2h-3.2zM444 78h1.2v1.2h-1.2zM453 78h1.2v1.2h-1.2zM459 78h1.2v1.2h-1.2zM461 78h1.2v1.2h-1.2zM465 78h1.2v1.2h-1.2zM467 78h1.2v1.2h-1.2zM470 78h1.2v1.2h-1.2zM473 78h1.2v1.2h-1.2zM478 78h1.2v1.2h-1.2zM480 78h1.2v1.2h-1.2zM484 78h2.2v1.2h-2.2zM488 78h1.2v1.2h-1.2zM492 78h1.2v1.2h-1.2zM502 78h1.2v1.2h-1.2zM509 78h1.2v1.2h-1.2zM511 78h1.2v1.2h-1.2zM69 79h2.2v1.2h-2.2zM84 79h1.2v1.2h-1.2zM87 79h1.2v1.2h-1.2zM95 79h1.2v1.2h-1.2zM98 79h1.2v1.2h-1.2zM110 79h1.2v1.2h-1.2zM124 79h1.2v1.2h-1.2zM129 79h1.2v1.2h-1.2zM137 79h1.2v1.2h-1.2zM243 79h1.2v1.2h-1.2zM245 79h2.2v1.2h-2.2zM255 79h1.2v1.2h-1.2zM258 79h4.2v1.2h-4.2zM263 79h1.2v1.2h-1.2zM281 79h1.2v1.2h-1.2zM287 79h4.2v1.2h-4.2zM296 79h1.2v1.2h-1.2zM305 79h1.2v1.2h-1.2zM312 79h1.2v1.2h-1.2zM316 79h1.2v1.2h-1.2zM319 79h1.2v1.2h-1.2zM325 79h1.2v1.2h-1.2zM413 79h1.2v1.2h-1.2zM419 79h1.2v1.2h-1.2zM421 79h1.2v1.2h-1.2zM429 79h1.2v1.2h-1.2zM432 79h1.2v1.2h-1.2zM440 79h3.2v1.2h-3.2zM445 79h1.2v1.2h-1.2zM451 79h1.2v1.2h-1.2zM461 79h1.2v1.2h-1.2zM463 79h1.2v1.2h-1.2zM465 79h1.2v1.2h-1.2zM470 79h2.2v1.2h-2.2zM482 79h1.2v1.2h-1.2zM485 79h1.2v1.2h-1.2zM488 79h1.2v1.2h-1.2zM499 79h1.2v1.2h-1.2zM503 79h1.2v1.2h-1.2zM505 79h2.2v1.2h-2.2zM71 80h1.2v1.2h-1.2zM73 80h1.2v1.2h-1.2zM76 80h1.2v1.2h-1.2zM85 80h1.2v1.2h-1.2zM94 80h1.2v1.2h-1.2zM97 80h1.2v1.2h-1.2zM102 80h1.2v1.2h-1.2zM109 80h1.2v1.2h-1.2zM122 80h1.2v1.2h-1.2zM135 80h1.2v1.2h-1.2zM141 80h1.2v1.2h-1.2zM146 80h1.2v1.2h-1.2zM155 80h1.2v1.2h-1.2zM249 80h1.2v1.2h-1.2zM252 80h3.2v1.2h-3.2zM257 80h1.2v1.2h-1.2zM261 80h1.2v1.2h-1.2zM265 80h1.2v1.2h-1.2zM267 80h1.2v1.2h-1.2zM269 80h1.2v1.2h-1.2zM278 80h2.2v1.2h-2.2zM283 80h2.2v1.2h-2.2zM288 80h1.2v1.2h-1.2zM293 80h1.2v1.2h-1.2zM296 80h1.2v1.2h-1.2zM301 80h1.2v1.2h-1.2zM304 80h1.2v1.2h-1.2zM309 80h1.2v1.2h-1.2zM311 80h3.2v1.2h-3.2zM315 80h1.2v1.2h-1.2zM318 80h1.2v1.2h-1.2zM320 80h1.2v1.2h-1.2zM413 80h1.2v1.2h-1.2zM416 80h1.2v1.2h-1.2zM418 80h1.2v1.2h-1.2zM422 80h2.2v1.2h-2.2zM431 80h2.2v1.2h-2.2zM436 80h1.2v1.2h-1.2zM439 80h1.2v1.2h-1.2zM442 80h1.2v1.2h-1.2zM444 80h2.2v1.2h-2.2zM447 80h1.2v1.2h-1.2zM450 80h1.2v1.2h-1.2zM454 80h2.2v1.2h-2.2zM458 80h2.2v1.2h-2.2zM464 80h1.2v1.2h-1.2zM469 80h2.2v1.2h-2.2zM472 80h1.2v1.2h-1.2zM475 80h2.2v1.2h-2.2zM486 80h2.2v1.2h-2.2zM489 80h2.2v1.2h-2.2zM501 80h1.2v1.2h-1.2zM507 80h1.2v1.2h-1.2zM509 80h3.2v1.2h-3.2zM94 81h2.2v1.2h-2.2zM101 81h1.2v1.2h-1.2zM107 81h1.2v1.2h-1.2zM115 81h1.2v1.2h-1.2zM117 81h1.2v1.2h-1.2zM123 81h1.2v1.2h-1.2zM129 81h2.2v1.2h-2.2zM141 81h1.2v1.2h-1.2zM147 81h1.2v1.2h-1.2zM154 81h1.2v1.2h-1.2zM246 81h1.2v1.2h-1.2zM248 81h2.2v1.2h-2.2zM255 81h1.2v1.2h-1.2zM258 81h2.2v1.2h-2.2zM266 81h1.2v1.2h-1.2zM270 81h1.2v1.2h-1.2zM272 81h3.2v1.2h-3.2zM278 81h3.2v1.2h-3.2zM282 81h1.2v1.2h-1.2zM286 81h1.2v1.2h-1.2zM298 81h1.2v1.2h-1.2zM300 81h2.2v1.2h-2.2zM304 81h1.2v1.2h-1.2zM307 81h1.2v1.2h-1.2zM309 81h2.2v1.2h-2.2zM312 81h3.2v1.2h-3.2zM325 81h1.2v1.2h-1.2zM418 81h1.2v1.2h-1.2zM422 81h1.2v1.2h-1.2zM425 81h1.2v1.2h-1.2zM428 81h1.2v1.2h-1.2zM433 81h1.2v1.2h-1.2zM444 81h1.2v1.2h-1.2zM446 81h1.2v1.2h-1.2zM452 81h1.2v1.2h-1.2zM460 81h1.2v1.2h-1.2zM463 81h1.2v1.2h-1.2zM466 81h2.2v1.2h-2.2zM475 81h1.2v1.2h-1.2zM478 81h1.2v1.2h-1.2zM486 81h1.2v1.2h-1.2zM494 81h1.2v1.2h-1.2zM497 81h1.2v1.2h-1.2zM500 81h2.2v1.2h-2.2zM503 81h2.2v1.2h-2.2zM506 81h1.2v1.2h-1.2zM509 81h1.2v1.2h-1.2zM73 82h1.2v1.2h-1.2zM77 82h1.2v1.2h-1.2zM81 82h1.2v1.2h-1.2zM91 82h1.2v1.2h-1.2zM93 82h1.2v1.2h-1.2zM100 82h1.2v1.2h-1.2zM110 82h1.2v1.2h-1.2zM116 82h1.2v1.2h-1.2zM124 82h1.2v1.2h-1.2zM127 82h1.2v1.2h-1.2zM129 82h1.2v1.2h-1.2zM137 82h1.2v1.2h-1.2zM142 82h1.2v1.2h-1.2zM154 82h1.2v1.2h-1.2zM161 82h1.2v1.2h-1.2zM250 82h1.2v1.2h-1.2zM257 82h1.2v1.2h-1.2zM260 82h2.2v1.2h-2.2zM264 82h1.2v1.2h-1.2zM266 82h2.2v1.2h-2.2zM269 82h1.2v1.2h-1.2zM273 82h1.2v1.2h-1.2zM275 82h1.2v1.2h-1.2zM278 82h1.2v1.2h-1.2zM282 82h1.2v1.2h-1.2zM287 82h2.2v1.2h-2.2zM292 82h2.2v1.2h-2.2zM296 82h1.2v1.2h-1.2zM303 82h2.2v1.2h-2.2zM306 82h1.2v1.2h-1.2zM309 82h1.2v1.2h-1.2zM312 82h2.2v1.2h-2.2zM316 82h1.2v1.2h-1.2zM318 82h1.2v1.2h-1.2zM325 82h1.2v1.2h-1.2zM330 82h1.2v1.2h-1.2zM414 82h2.2v1.2h-2.2zM418 82h1.2v1.2h-1.2zM422 82h1.2v1.2h-1.2zM426 82h1.2v1.2h-1.2zM428 82h1.2v1.2h-1.2zM433 82h2.2v1.2h-2.2zM436 82h2.2v1.2h-2.2zM449 82h1.2v1.2h-1.2zM458 82h3.2v1.2h-3.2zM462 82h2.2v1.2h-2.2zM470 82h1.2v1.2h-1.2zM475 82h1.2v1.2h-1.2zM477 82h1.2v1.2h-1.2zM483 82h1.2v1.2h-1.2zM487 82h1.2v1.2h-1.2zM490 82h1.2v1.2h-1.2zM493 82h2.2v1.2h-2.2zM497 82h1.2v1.2h-1.2zM500 82h1.2v1.2h-1.2zM504 82h2.2v1.2h-2.2zM508 82h1.2v1.2h-1.2zM69 83h1.2v1.2h-1.2zM77 83h3.2v1.2h-3.2zM86 83h1.2v1.2h-1.2zM88 83h1.2v1.2h-1.2zM92 83h1.2v1.2h-1.2zM95 83h1.2v1.2h-1.2zM97 83h1.2v1.2h-1.2zM106 83h1.2v1.2h-1.2zM115 83h1.2v1.2h-1.2zM118 83h1.2v1.2h-1.2zM125 83h1.2v1.2h-1.2zM134 83h1.2v1.2h-1.2zM141 83h1.2v1.2h-1.2zM152 83h1.2v1.2h-1.2zM161 83h2.2v1.2h-2.2zM243 83h1.2v1.2h-1.2zM247 83h1.2v1.2h-1.2zM250 83h1.2v1.2h-1.2zM255 83h1.2v1.2h-1.2zM267 83h2.2v1.2h-2.2zM275 83h1.2v1.2h-1.2zM281 83h1.2v1.2h-1.2zM289 83h1.2v1.2h-1.2zM292 83h2.2v1.2h-2.2zM298 83h1.2v1.2h-1.2zM303 83h1.2v1.2h-1.2zM309 83h1.2v1.2h-1.2zM314 83h1.2v1.2h-1.2zM316 83h1.2v1.2h-1.2zM318 83h1.2v1.2h-1.2zM320 83h1.2v1.2h-1.2zM326 83h1.2v1.2h-1.2zM328 83h1.2v1.2h-1.2zM417 83h1.2v1.2h-1.2zM420 83h1.2v1.2h-1.2zM426 83h1.2v1.2h-1.2zM435 83h4.2v1.2h-4.2zM441 83h1.2v1.2h-1.2zM447 83h1.2v1.2h-1.2zM449 83h2.2v1.2h-2.2zM454 83h1.2v1.2h-1.2zM460 83h1.2v1.2h-1.2zM463 83h1.2v1.2h-1.2zM475 83h1.2v1.2h-1.2zM477 83h1.2v1.2h-1.2zM480 83h2.2v1.2h-2.2zM487 83h2.2v1.2h-2.2zM493 83h1.2v1.2h-1.2zM495 83h1.2v1.2h-1.2zM497 83h1.2v1.2h-1.2zM506 83h1.2v1.2h-1.2zM509 83h2.2v1.2h-2.2zM69 84h1.2v1.2h-1.2zM71 84h1.2v1.2h-1.2zM97 84h1.2v1.2h-1.2zM99 84h1.2v1.2h-1.2zM104 84h1.2v1.2h-1.2zM112 84h1.2v1.2h-1.2zM117 84h1.2v1.2h-1.2zM119 84h1.2v1.2h-1.2zM124 84h2.2v1.2h-2.2zM127 84h1.2v1.2h-1.2zM133 84h1.2v1.2h-1.2zM137 84h2.2v1.2h-2.2zM142 84h1.2v1.2h-1.2zM144 84h1.2v1.2h-1.2zM148 84h1.2v1.2h-1.2zM243 84h1.2v1.2h-1.2zM248 84h1.2v1.2h-1.2zM255 84h1.2v1.2h-1.2zM257 84h1.2v1.2h-1.2zM260 84h1.2v1.2h-1.2zM265 84h2.2v1.2h-2.2zM280 84h1.2v1.2h-1.2zM283 84h1.2v1.2h-1.2zM287 84h1.2v1.2h-1.2zM289 84h1.2v1.2h-1.2zM291 84h1.2v1.2h-1.2zM298 84h1.2v1.2h-1.2zM303 84h1.2v1.2h-1.2zM306 84h4.2v1.2h-4.2zM311 84h4.2v1.2h-4.2zM320 84h1.2v1.2h-1.2zM326 84h3.2v1.2h-3.2zM418 84h1.2v1.2h-1.2zM420 84h1.2v1.2h-1.2zM423 84h5.2v1.2h-5.2zM430 84h2.2v1.2h-2.2zM433 84h1.2v1.2h-1.2zM438 84h3.2v1.2h-3.2zM442 84h1.2v1.2h-1.2zM451 84h2.2v1.2h-2.2zM459 84h3.2v1.2h-3.2zM464 84h1.2v1.2h-1.2zM468 84h1.2v1.2h-1.2zM470 84h1.2v1.2h-1.2zM473 84h1.2v1.2h-1.2zM480 84h2.2v1.2h-2.2zM492 84h2.2v1.2h-2.2zM499 84h1.2v1.2h-1.2zM502 84h1.2v1.2h-1.2zM507 84h1.2v1.2h-1.2zM72 85h1.2v1.2h-1.2zM75 85h1.2v1.2h-1.2zM78 85h1.2v1.2h-1.2zM80 85h1.2v1.2h-1.2zM82 85h1.2v1.2h-1.2zM86 85h2.2v1.2h-2.2zM102 85h1.2v1.2h-1.2zM104 85h1.2v1.2h-1.2zM106 85h1.2v1.2h-1.2zM111 85h1.2v1.2h-1.2zM114 85h1.2v1.2h-1.2zM116 85h1.2v1.2h-1.2zM120 85h2.2v1.2h-2.2zM130 85h1.2v1.2h-1.2zM132 85h1.2v1.2h-1.2zM140 85h1.2v1.2h-1.2zM143 85h1.2v1.2h-1.2zM146 85h1.2v1.2h-1.2zM148 85h1.2v1.2h-1.2zM159 85h1.2v1.2h-1.2zM242 85h2.2v1.2h-2.2zM245 85h1.2v1.2h-1.2zM248 85h2.2v1.2h-2.2zM251 85h1.2v1.2h-1.2zM255 85h2.2v1.2h-2.2zM264 85h1.2v1.2h-1.2zM271 85h1.2v1.2h-1.2zM276 85h2.2v1.2h-2.2zM280 85h1.2v1.2h-1.2zM283 85h1.2v1.2h-1.2zM290 85h1.2v1.2h-1.2zM294 85h2.2v1.2h-2.2zM297 85h1.2v1.2h-1.2zM300 85h3.2v1.2h-3.2zM309 85h2.2v1.2h-2.2zM315 85h1.2v1.2h-1.2zM323 85h1.2v1.2h-1.2zM326 85h2.2v1.2h-2.2zM416 85h1.2v1.2h-1.2zM421 85h3.2v1.2h-3.2zM429 85h1.2v1.2h-1.2zM431 85h1.2v1.2h-1.2zM434 85h1.2v1.2h-1.2zM436 85h1.2v1.2h-1.2zM439 85h1.2v1.2h-1.2zM442 85h1.2v1.2h-1.2zM446 85h3.2v1.2h-3.2zM451 85h1.2v1.2h-1.2zM453 85h2.2v1.2h-2.2zM456 85h1.2v1.2h-1.2zM458 85h1.2v1.2h-1.2zM461 85h1.2v1.2h-1.2zM465 85h1.2v1.2h-1.2zM467 85h1.2v1.2h-1.2zM469 85h1.2v1.2h-1.2zM472 85h2.2v1.2h-2.2zM476 85h1.2v1.2h-1.2zM481 85h1.2v1.2h-1.2zM484 85h2.2v1.2h-2.2zM488 85h2.2v1.2h-2.2zM492 85h1.2v1.2h-1.2zM496 85h1.2v1.2h-1.2zM498 85h1.2v1.2h-1.2zM500 85h1.2v1.2h-1.2zM502 85h1.2v1.2h-1.2zM505 85h2.2v1.2h-2.2zM74 86h1.2v1.2h-1.2zM76 86h1.2v1.2h-1.2zM80 86h1.2v1.2h-1.2zM83 86h1.2v1.2h-1.2zM89 86h1.2v1.2h-1.2zM92 86h1.2v1.2h-1.2zM101 86h3.2v1.2h-3.2zM105 86h2.2v1.2h-2.2zM109 86h1.2v1.2h-1.2zM117 86h2.2v1.2h-2.2zM120 86h2.2v1.2h-2.2zM125 86h1.2v1.2h-1.2zM133 86h2.2v1.2h-2.2zM136 86h1.2v1.2h-1.2zM140 86h3.2v1.2h-3.2zM149 86h1.2v1.2h-1.2zM155 86h2.2v1.2h-2.2zM160 86h2.2v1.2h-2.2zM246 86h1.2v1.2h-1.2zM248 86h1.2v1.2h-1.2zM252 86h2.2v1.2h-2.2zM256 86h1.2v1.2h-1.2zM260 86h1.2v1.2h-1.2zM264 86h1.2v1.2h-1.2zM268 86h1.2v1.2h-1.2zM272 86h1.2v1.2h-1.2zM275 86h1.2v1.2h-1.2zM283 86h1.2v1.2h-1.2zM298 86h1.2v1.2h-1.2zM303 86h2.2v1.2h-2.2zM308 86h1.2v1.2h-1.2zM312 86h1.2v1.2h-1.2zM322 86h2.2v1.2h-2.2zM328 86h1.2v1.2h-1.2zM412 86h1.2v1.2h-1.2zM418 86h1.2v1.2h-1.2zM431 86h1.2v1.2h-1.2zM433 86h2.2v1.2h-2.2zM438 86h2.2v1.2h-2.2zM442 86h1.2v1.2h-1.2zM460 86h1.2v1.2h-1.2zM463 86h1.2v1.2h-1.2zM468 86h1.2v1.2h-1.2zM471 86h1.2v1.2h-1.2zM476 86h2.2v1.2h-2.2zM479 86h1.2v1.2h-1.2zM483 86h1.2v1.2h-1.2zM488 86h1.2v1.2h-1.2zM491 86h1.2v1.2h-1.2zM496 86h1.2v1.2h-1.2zM501 86h1.2v1.2h-1.2zM503 86h3.2v1.2h-3.2zM69 87h4.2v1.2h-4.2zM76 87h3.2v1.2h-3.2zM81 87h1.2v1.2h-1.2zM84 87h1.2v1.2h-1.2zM88 87h3.2v1.2h-3.2zM93 87h1.2v1.2h-1.2zM95 87h1.2v1.2h-1.2zM98 87h2.2v1.2h-2.2zM101 87h1.2v1.2h-1.2zM104 87h2.2v1.2h-2.2zM107 87h1.2v1.2h-1.2zM109 87h1.2v1.2h-1.2zM112 87h1.2v1.2h-1.2zM114 87h1.2v1.2h-1.2zM116 87h2.2v1.2h-2.2zM122 87h4.2v1.2h-4.2zM130 87h1.2v1.2h-1.2zM134 87h2.2v1.2h-2.2zM138 87h1.2v1.2h-1.2zM143 87h1.2v1.2h-1.2zM149 87h2.2v1.2h-2.2zM159 87h1.2v1.2h-1.2zM249 87h1.2v1.2h-1.2zM255 87h1.2v1.2h-1.2zM257 87h1.2v1.2h-1.2zM261 87h1.2v1.2h-1.2zM265 87h1.2v1.2h-1.2zM280 87h1.2v1.2h-1.2zM283 87h1.2v1.2h-1.2zM285 87h2.2v1.2h-2.2zM289 87h1.2v1.2h-1.2zM292 87h1.2v1.2h-1.2zM295 87h1.2v1.2h-1.2zM300 87h3.2v1.2h-3.2zM305 87h2.2v1.2h-2.2zM309 87h1.2v1.2h-1.2zM324 87h2.2v1.2h-2.2zM328 87h1.2v1.2h-1.2zM415 87h2.2v1.2h-2.2zM418 87h1.2v1.2h-1.2zM420 87h1.2v1.2h-1.2zM422 87h2.2v1.2h-2.2zM430 87h1.2v1.2h-1.2zM432 87h2.2v1.2h-2.2zM448 87h1.2v1.2h-1.2zM451 87h3.2v1.2h-3.2zM457 87h1.2v1.2h-1.2zM465 87h1.2v1.2h-1.2zM468 87h1.2v1.2h-1.2zM470 87h1.2v1.2h-1.2zM477 87h1.2v1.2h-1.2zM479 87h1.2v1.2h-1.2zM484 87h1.2v1.2h-1.2zM487 87h1.2v1.2h-1.2zM493 87h1.2v1.2h-1.2zM496 87h2.2v1.2h-2.2zM499 87h3.2v1.2h-3.2zM506 87h1.2v1.2h-1.2zM508 87h1.2v1.2h-1.2zM69 88h1.2v1.2h-1.2zM73 88h6.2v1.2h-6.2zM83 88h1.2v1.2h-1.2zM87 88h1.2v1.2h-1.2zM89 88h1.2v1.2h-1.2zM92 88h1.2v1.2h-1.2zM99 88h2.2v1.2h-2.2zM106 88h1.2v1.2h-1.2zM111 88h1.2v1.2h-1.2zM115 88h1.2v1.2h-1.2zM119 88h3.2v1.2h-3.2zM123 88h2.2v1.2h-2.2zM126 88h1.2v1.2h-1.2zM128 88h1.2v1.2h-1.2zM131 88h3.2v1.2h-3.2zM138 88h2.2v1.2h-2.2zM142 88h2.2v1.2h-2.2zM147 88h1.2v1.2h-1.2zM152 88h2.2v1.2h-2.2zM155 88h3.2v1.2h-3.2zM246 88h1.2v1.2h-1.2zM249 88h1.2v1.2h-1.2zM254 88h1.2v1.2h-1.2zM257 88h2.2v1.2h-2.2zM271 88h1.2v1.2h-1.2zM287 88h2.2v1.2h-2.2zM290 88h1.2v1.2h-1.2zM296 88h2.2v1.2h-2.2zM304 88h1.2v1.2h-1.2zM306 88h1.2v1.2h-1.2zM308 88h3.2v1.2h-3.2zM313 88h1.2v1.2h-1.2zM321 88h1.2v1.2h-1.2zM323 88h1.2v1.2h-1.2zM326 88h1.2v1.2h-1.2zM419 88h2.2v1.2h-2.2zM425 88h2.2v1.2h-2.2zM428 88h1.2v1.2h-1.2zM431 88h2.2v1.2h-2.2zM437 88h1.2v1.2h-1.2zM439 88h1.2v1.2h-1.2zM442 88h1.2v1.2h-1.2zM455 88h1.2v1.2h-1.2zM459 88h1.2v1.2h-1.2zM466 88h2.2v1.2h-2.2zM469 88h1.2v1.2h-1.2zM471 88h1.2v1.2h-1.2zM474 88h1.2v1.2h-1.2zM479 88h1.2v1.2h-1.2zM482 88h3.2v1.2h-3.2zM487 88h1.2v1.2h-1.2zM490 88h1.2v1.2h-1.2zM497 88h2.2v1.2h-2.2zM501 88h1.2v1.2h-1.2zM503 88h2.2v1.2h-2.2zM509 88h1.2v1.2h-1.2zM70 89h1.2v1.2h-1.2zM73 89h1.2v1.2h-1.2zM75 89h3.2v1.2h-3.2zM80 89h4.2v1.2h-4.2zM85 89h1.2v1.2h-1.2zM88 89h1.2v1.2h-1.2zM91 89h3.2v1.2h-3.2zM96 89h4.2v1.2h-4.2zM106 89h2.2v1.2h-2.2zM110 89h1.2v1.2h-1.2zM114 89h6.2v1.2h-6.2zM125 89h1.2v1.2h-1.2zM127 89h1.2v1.2h-1.2zM131 89h7.2v1.2h-7.2zM139 89h1.2v1.2h-1.2zM141 89h1.2v1.2h-1.2zM145 89h1.2v1.2h-1.2zM148 89h1.2v1.2h-1.2zM158 89h2.2v1.2h-2.2zM247 89h1.2v1.2h-1.2zM249 89h1.2v1.2h-1.2zM251 89h1.2v1.2h-1.2zM258 89h1.2v1.2h-1.2zM262 89h1.2v1.2h-1.2zM266 89h1.2v1.2h-1.2zM272 89h1.2v1.2h-1.2zM274 89h3.2v1.2h-3.2zM279 89h2.2v1.2h-2.2zM283 89h1.2v1.2h-1.2zM285 89h1.2v1.2h-1.2zM287 89h2.2v1.2h-2.2zM294 89h1.2v1.2h-1.2zM296 89h2.2v1.2h-2.2zM300 89h1.2v1.2h-1.2zM302 89h1.2v1.2h-1.2zM306 89h1.2v1.2h-1.2zM313 89h3.2v1.2h-3.2zM321 89h1.2v1.2h-1.2zM413 89h2.2v1.2h-2.2zM416 89h2.2v1.2h-2.2zM419 89h1.2v1.2h-1.2zM421 89h3.2v1.2h-3.2zM425 89h2.2v1.2h-2.2zM428 89h1.2v1.2h-1.2zM436 89h1.2v1.2h-1.2zM439 89h1.2v1.2h-1.2zM443 89h2.2v1.2h-2.2zM447 89h1.2v1.2h-1.2zM450 89h2.2v1.2h-2.2zM453 89h1.2v1.2h-1.2zM457 89h3.2v1.2h-3.2zM466 89h1.2v1.2h-1.2zM471 89h2.2v1.2h-2.2zM474 89h1.2v1.2h-1.2zM478 89h1.2v1.2h-1.2zM481 89h1.2v1.2h-1.2zM485 89h4.2v1.2h-4.2zM494 89h3.2v1.2h-3.2zM499 89h1.2v1.2h-1.2zM501 89h1.2v1.2h-1.2zM504 89h1.2v1.2h-1.2zM506 89h2.2v1.2h-2.2zM69 90h1.2v1.2h-1.2zM71 90h6.2v1.2h-6.2zM79 90h1.2v1.2h-1.2zM81 90h1.2v1.2h-1.2zM84 90h1.2v1.2h-1.2zM86 90h1.2v1.2h-1.2zM93 90h1.2v1.2h-1.2zM96 90h1.2v1.2h-1.2zM98 90h3.2v1.2h-3.2zM103 90h1.2v1.2h-1.2zM105 90h2.2v1.2h-2.2zM108 90h2.2v1.2h-2.2zM111 90h2.2v1.2h-2.2zM116 90h6.2v1.2h-6.2zM127 90h1.2v1.2h-1.2zM130 90h1.2v1.2h-1.2zM132 90h1.2v1.2h-1.2zM135 90h1.2v1.2h-1.2zM137 90h1.2v1.2h-1.2zM144 90h3.2v1.2h-3.2zM153 90h1.2v1.2h-1.2zM160 90h1.2v1.2h-1.2zM246 90h1.2v1.2h-1.2zM249 90h1.2v1.2h-1.2zM251 90h2.2v1.2h-2.2zM255 90h1.2v1.2h-1.2zM259 90h1.2v1.2h-1.2zM264 90h1.2v1.2h-1.2zM266 90h1.2v1.2h-1.2zM273 90h2.2v1.2h-2.2zM276 90h1.2v1.2h-1.2zM279 90h1.2v1.2h-1.2zM281 90h3.2v1.2h-3.2zM290 90h2.2v1.2h-2.2zM296 90h1.2v1.2h-1.2zM300 90h1.2v1.2h-1.2zM310 90h1.2v1.2h-1.2zM314 90h1.2v1.2h-1.2zM322 90h1.2v1.2h-1.2zM325 90h1.2v1.2h-1.2zM327 90h1.2v1.2h-1.2zM330 90h1.2v1.2h-1.2zM413 90h3.2v1.2h-3.2zM417 90h1.2v1.2h-1.2zM421 90h1.2v1.2h-1.2zM425 90h1.2v1.2h-1.2zM427 90h1.2v1.2h-1.2zM432 90h1.2v1.2h-1.2zM443 90h2.2v1.2h-2.2zM446 90h1.2v1.2h-1.2zM449 90h4.2v1.2h-4.2zM458 90h1.2v1.2h-1.2zM461 90h1.2v1.2h-1.2zM463 90h2.2v1.2h-2.2zM466 90h1.2v1.2h-1.2zM471 90h1.2v1.2h-1.2zM479 90h1.2v1.2h-1.2zM483 90h1.2v1.2h-1.2zM492 90h2.2v1.2h-2.2zM495 90h1.2v1.2h-1.2zM501 90h2.2v1.2h-2.2zM504 90h1.2v1.2h-1.2zM70 91h12.2v1.2h-12.2zM84 91h1.2v1.2h-1.2zM87 91h1.2v1.2h-1.2zM90 91h2.2v1.2h-2.2zM95 91h1.2v1.2h-1.2zM97 91h1.2v1.2h-1.2zM101 91h2.2v1.2h-2.2zM104 91h6.2v1.2h-6.2zM111 91h3.2v1.2h-3.2zM115 91h2.2v1.2h-2.2zM122 91h1.2v1.2h-1.2zM124 91h1.2v1.2h-1.2zM126 91h1.2v1.2h-1.2zM129 91h2.2v1.2h-2.2zM133 91h3.2v1.2h-3.2zM139 91h1.2v1.2h-1.2zM143 91h1.2v1.2h-1.2zM145 91h4.2v1.2h-4.2zM151 91h1.2v1.2h-1.2zM153 91h1.2v1.2h-1.2zM155 91h1.2v1.2h-1.2zM159 91h1.2v1.2h-1.2zM161 91h1.2v1.2h-1.2zM245 91h1.2v1.2h-1.2zM259 91h1.2v1.2h-1.2zM261 91h1.2v1.2h-1.2zM264 91h3.2v1.2h-3.2zM271 91h2.2v1.2h-2.2zM277 91h1.2v1.2h-1.2zM280 91h1.2v1.2h-1.2zM282 91h2.2v1.2h-2.2zM285 91h1.2v1.2h-1.2zM287 91h1.2v1.2h-1.2zM291 91h2.2v1.2h-2.2zM297 91h1.2v1.2h-1.2zM299 91h1.2v1.2h-1.2zM305 91h1.2v1.2h-1.2zM307 91h1.2v1.2h-1.2zM312 91h1.2v1.2h-1.2zM314 91h1.2v1.2h-1.2zM316 91h1.2v1.2h-1.2zM320 91h1.2v1.2h-1.2zM326 91h1.2v1.2h-1.2zM330 91h1.2v1.2h-1.2zM415 91h1.2v1.2h-1.2zM421 91h1.2v1.2h-1.2zM425 91h1.2v1.2h-1.2zM427 91h2.2v1.2h-2.2zM437 91h1.2v1.2h-1.2zM439 91h1.2v1.2h-1.2zM442 91h1.2v1.2h-1.2zM444 91h2.2v1.2h-2.2zM450 91h2.2v1.2h-2.2zM459 91h1.2v1.2h-1.2zM469 91h1.2v1.2h-1.2zM471 91h4.2v1.2h-4.2zM479 91h1.2v1.2h-1.2zM486 91h2.2v1.2h-2.2zM489 91h1.2v1.2h-1.2zM504 91h1.2v1.2h-1.2zM70 92h2.2v1.2h-2.2zM73 92h13.2v1.2h-13.2zM88 92h1.2v1.2h-1.2zM90 92h1.2v1.2h-1.2zM93 92h5.2v1.2h-5.2zM102 92h4.2v1.2h-4.2zM107 92h3.2v1.2h-3.2zM111 92h2.2v1.2h-2.2zM115 92h3.2v1.2h-3.2zM119 92h1.2v1.2h-1.2zM122 92h2.2v1.2h-2.2zM125 92h4.2v1.2h-4.2zM132 92h1.2v1.2h-1.2zM134 92h3.2v1.2h-3.2zM138 92h3.2v1.2h-3.2zM142 92h1.2v1.2h-1.2zM146 92h1.2v1.2h-1.2zM149 92h4.2v1.2h-4.2zM156 92h1.2v1.2h-1.2zM158 92h1.2v1.2h-1.2zM160 92h1.2v1.2h-1.2zM248 92h1.2v1.2h-1.2zM260 92h1.2v1.2h-1.2zM263 92h1.2v1.2h-1.2zM267 92h1.2v1.2h-1.2zM269 92h2.2v1.2h-2.2zM279 92h1.2v1.2h-1.2zM281 92h2.2v1.2h-2.2zM286 92h1.2v1.2h-1.2zM288 92h6.2v1.2h-6.2zM295 92h3.2v1.2h-3.2zM300 92h1.2v1.2h-1.2zM302 92h3.2v1.2h-3.2zM308 92h1.2v1.2h-1.2zM310 92h2.2v1.2h-2.2zM317 92h1.2v1.2h-1.2zM321 92h1.2v1.2h-1.2zM324 92h1.2v1.2h-1.2zM329 92h1.2v1.2h-1.2zM412 92h1.2v1.2h-1.2zM419 92h2.2v1.2h-2.2zM429 92h1.2v1.2h-1.2zM431 92h1.2v1.2h-1.2zM439 92h2.2v1.2h-2.2zM442 92h2.2v1.2h-2.2zM449 92h2.2v1.2h-2.2zM454 92h2.2v1.2h-2.2zM458 92h1.2v1.2h-1.2zM460 92h1.2v1.2h-1.2zM463 92h1.2v1.2h-1.2zM465 92h2.2v1.2h-2.2zM468 92h1.2v1.2h-1.2zM470 92h2.2v1.2h-2.2zM473 92h1.2v1.2h-1.2zM475 92h1.2v1.2h-1.2zM480 92h1.2v1.2h-1.2zM484 92h1.2v1.2h-1.2zM489 92h2.2v1.2h-2.2zM492 92h1.2v1.2h-1.2zM494 92h1.2v1.2h-1.2zM496 92h1.2v1.2h-1.2zM506 92h1.2v1.2h-1.2zM508 92h1.2v1.2h-1.2zM69 93h7.2v1.2h-7.2zM77 93h6.2v1.2h-6.2zM84 93h1.2v1.2h-1.2zM88 93h1.2v1.2h-1.2zM91 93h1.2v1.2h-1.2zM96 93h2.2v1.2h-2.2zM100 93h3.2v1.2h-3.2zM104 93h1.2v1.2h-1.2zM106 93h2.2v1.2h-2.2zM109 93h1.2v1.2h-1.2zM111 93h1.2v1.2h-1.2zM115 93h2.2v1.2h-2.2zM118 93h1.2v1.2h-1.2zM120 93h1.2v1.2h-1.2zM124 93h2.2v1.2h-2.2zM127 93h1.2v1.2h-1.2zM129 93h2.2v1.2h-2.2zM133 93h1.2v1.2h-1.2zM138 93h1.2v1.2h-1.2zM141 93h2.2v1.2h-2.2zM152 93h3.2v1.2h-3.2zM157 93h1.2v1.2h-1.2zM160 93h2.2v1.2h-2.2zM243 93h1.2v1.2h-1.2zM246 93h1.2v1.2h-1.2zM249 93h1.2v1.2h-1.2zM252 93h1.2v1.2h-1.2zM260 93h1.2v1.2h-1.2zM262 93h3.2v1.2h-3.2zM266 93h1.2v1.2h-1.2zM273 93h1.2v1.2h-1.2zM276 93h1.2v1.2h-1.2zM278 93h1.2v1.2h-1.2zM280 93h1.2v1.2h-1.2zM282 93h1.2v1.2h-1.2zM284 93h1.2v1.2h-1.2zM290 93h1.2v1.2h-1.2zM293 93h1.2v1.2h-1.2zM295 93h1.2v1.2h-1.2zM298 93h1.2v1.2h-1.2zM300 93h2.2v1.2h-2.2zM304 93h2.2v1.2h-2.2zM312 93h2.2v1.2h-2.2zM322 93h2.2v1.2h-2.2zM325 93h1.2v1.2h-1.2zM329 93h1.2v1.2h-1.2zM416 93h1.2v1.2h-1.2zM420 93h1.2v1.2h-1.2zM424 93h2.2v1.2h-2.2zM429 93h1.2v1.2h-1.2zM431 93h1.2v1.2h-1.2zM435 93h1.2v1.2h-1.2zM437 93h3.2v1.2h-3.2zM441 93h1.2v1.2h-1.2zM443 93h1.2v1.2h-1.2zM449 93h1.2v1.2h-1.2zM451 93h1.2v1.2h-1.2zM453 93h1.2v1.2h-1.2zM457 93h1.2v1.2h-1.2zM462 93h2.2v1.2h-2.2zM465 93h1.2v1.2h-1.2zM467 93h2.2v1.2h-2.2zM471 93h1.2v1.2h-1.2zM475 93h2.2v1.2h-2.2zM479 93h1.2v1.2h-1.2zM481 93h1.2v1.2h-1.2zM483 93h2.2v1.2h-2.2zM486 93h1.2v1.2h-1.2zM494 93h1.2v1.2h-1.2zM496 93h1.2v1.2h-1.2zM503 93h1.2v1.2h-1.2zM508 93h1.2v1.2h-1.2zM511 93h1.2v1.2h-1.2zM70 94h3.2v1.2h-3.2zM74 94h2.2v1.2h-2.2zM77 94h4.2v1.2h-4.2zM82 94h7.2v1.2h-7.2zM90 94h1.2v1.2h-1.2zM94 94h2.2v1.2h-2.2zM97 94h1.2v1.2h-1.2zM99 94h1.2v1.2h-1.2zM101 94h3.2v1.2h-3.2zM108 94h4.2v1.2h-4.2zM113 94h1.2v1.2h-1.2zM115 94h2.2v1.2h-2.2zM118 94h1.2v1.2h-1.2zM121 94h1.2v1.2h-1.2zM123 94h1.2v1.2h-1.2zM126 94h1.2v1.2h-1.2zM129 94h1.2v1.2h-1.2zM134 94h2.2v1.2h-2.2zM151 94h2.2v1.2h-2.2zM154 94h1.2v1.2h-1.2zM158 94h1.2v1.2h-1.2zM242 94h1.2v1.2h-1.2zM248 94h2.2v1.2h-2.2zM254 94h3.2v1.2h-3.2zM263 94h1.2v1.2h-1.2zM267 94h2.2v1.2h-2.2zM272 94h1.2v1.2h-1.2zM274 94h1.2v1.2h-1.2zM281 94h1.2v1.2h-1.2zM283 94h3.2v1.2h-3.2zM288 94h1.2v1.2h-1.2zM290 94h3.2v1.2h-3.2zM296 94h2.2v1.2h-2.2zM299 94h4.2v1.2h-4.2zM311 94h1.2v1.2h-1.2zM314 94h2.2v1.2h-2.2zM319 94h1.2v1.2h-1.2zM322 94h4.2v1.2h-4.2zM328 94h1.2v1.2h-1.2zM418 94h1.2v1.2h-1.2zM420 94h1.2v1.2h-1.2zM425 94h1.2v1.2h-1.2zM428 94h1.2v1.2h-1.2zM432 94h1.2v1.2h-1.2zM434 94h1.2v1.2h-1.2zM439 94h1.2v1.2h-1.2zM444 94h2.2v1.2h-2.2zM447 94h2.2v1.2h-2.2zM451 94h3.2v1.2h-3.2zM455 94h2.2v1.2h-2.2zM460 94h1.2v1.2h-1.2zM462 94h2.2v1.2h-2.2zM465 94h3.2v1.2h-3.2zM470 94h2.2v1.2h-2.2zM473 94h4.2v1.2h-4.2zM479 94h1.2v1.2h-1.2zM482 94h1.2v1.2h-1.2zM484 94h1.2v1.2h-1.2zM491 94h1.2v1.2h-1.2zM493 94h1.2v1.2h-1.2zM496 94h2.2v1.2h-2.2zM508 94h1.2v1.2h-1.2zM69 95h3.2v1.2h-3.2zM73 95h15.2v1.2h-15.2zM91 95h5.2v1.2h-5.2zM100 95h3.2v1.2h-3.2zM104 95h1.2v1.2h-1.2zM106 95h1.2v1.2h-1.2zM109 95h2.2v1.2h-2.2zM113 95h1.2v1.2h-1.2zM122 95h1.2v1.2h-1.2zM125 95h3.2v1.2h-3.2zM130 95h1.2v1.2h-1.2zM135 95h1.2v1.2h-1.2zM141 95h3.2v1.2h-3.2zM149 95h2.2v1.2h-2.2zM153 95h1.2v1.2h-1.2zM156 95h1.2v1.2h-1.2zM246 95h1.2v1.2h-1.2zM248 95h2.2v1.2h-2.2zM251 95h1.2v1.2h-1.2zM253 95h1.2v1.2h-1.2zM262 95h1.2v1.2h-1.2zM267 95h1.2v1.2h-1.2zM269 95h1.2v1.2h-1.2zM283 95h1.2v1.2h-1.2zM286 95h4.2v1.2h-4.2zM291 95h1.2v1.2h-1.2zM293 95h1.2v1.2h-1.2zM297 95h1.2v1.2h-1.2zM301 95h1.2v1.2h-1.2zM304 95h2.2v1.2h-2.2zM308 95h1.2v1.2h-1.2zM321 95h2.2v1.2h-2.2zM325 95h1.2v1.2h-1.2zM416 95h2.2v1.2h-2.2zM424 95h2.2v1.2h-2.2zM427 95h2.2v1.2h-2.2zM431 95h1.2v1.2h-1.2zM435 95h1.2v1.2h-1.2zM439 95h1.2v1.2h-1.2zM444 95h1.2v1.2h-1.2zM446 95h2.2v1.2h-2.2zM449 95h2.2v1.2h-2.2zM452 95h1.2v1.2h-1.2zM457 95h2.2v1.2h-2.2zM463 95h7.2v1.2h-7.2zM471 95h3.2v1.2h-3.2zM475 95h1.2v1.2h-1.2zM478 95h2.2v1.2h-2.2zM481 95h1.2v1.2h-1.2zM483 95h1.2v1.2h-1.2zM485 95h2.2v1.2h-2.2zM488 95h1.2v1.2h-1.2zM490 95h2.2v1.2h-2.2zM493 95h2.2v1.2h-2.2zM497 95h1.2v1.2h-1.2zM502 95h1.2v1.2h-1.2zM505 95h1.2v1.2h-1.2zM509 95h1.2v1.2h-1.2zM69 96h2.2v1.2h-2.2zM72 96h1.2v1.2h-1.2zM74 96h2.2v1.2h-2.2zM77 96h12.2v1.2h-12.2zM91 96h3.2v1.2h-3.2zM95 96h1.2v1.2h-1.2zM97 96h2.2v1.2h-2.2zM102 96h4.2v1.2h-4.2zM110 96h6.2v1.2h-6.2zM119 96h2.2v1.2h-2.2zM123 96h1.2v1.2h-1.2zM128 96h1.2v1.2h-1.2zM132 96h2.2v1.2h-2.2zM135 96h1.2v1.2h-1.2zM137 96h1.2v1.2h-1.2zM139 96h1.2v1.2h-1.2zM141 96h1.2v1.2h-1.2zM147 96h1.2v1.2h-1.2zM149 96h1.2v1.2h-1.2zM154 96h1.2v1.2h-1.2zM244 96h1.2v1.2h-1.2zM246 96h2.2v1.2h-2.2zM251 96h2.2v1.2h-2.2zM255 96h1.2v1.2h-1.2zM262 96h1.2v1.2h-1.2zM265 96h1.2v1.2h-1.2zM269 96h2.2v1.2h-2.2zM274 96h1.2v1.2h-1.2zM276 96h1.2v1.2h-1.2zM279 96h1.2v1.2h-1.2zM285 96h2.2v1.2h-2.2zM288 96h1.2v1.2h-1.2zM292 96h1.2v1.2h-1.2zM297 96h1.2v1.2h-1.2zM300 96h2.2v1.2h-2.2zM304 96h1.2v1.2h-1.2zM308 96h2.2v1.2h-2.2zM330 96h1.2v1.2h-1.2zM413 96h3.2v1.2h-3.2zM425 96h5.2v1.2h-5.2zM432 96h1.2v1.2h-1.2zM434 96h1.2v1.2h-1.2zM442 96h1.2v1.2h-1.2zM444 96h3.2v1.2h-3.2zM449 96h1.2v1.2h-1.2zM453 96h1.2v1.2h-1.2zM460 96h1.2v1.2h-1.2zM463 96h1.2v1.2h-1.2zM465 96h1.2v1.2h-1.2zM468 96h3.2v1.2h-3.2zM473 96h1.2v1.2h-1.2zM476 96h1.2v1.2h-1.2zM480 96h1.2v1.2h-1.2zM484 96h1.2v1.2h-1.2zM492 96h1.2v1.2h-1.2zM495 96h1.2v1.2h-1.2zM501 96h1.2v1.2h-1.2zM503 96h1.2v1.2h-1.2zM509 96h1.2v1.2h-1.2zM70 97h26.2v1.2h-26.2zM97 97h2.2v1.2h-2.2zM100 97h2.2v1.2h-2.2zM105 97h1.2v1.2h-1.2zM108 97h1.2v1.2h-1.2zM112 97h1.2v1.2h-1.2zM114 97h2.2v1.2h-2.2zM118 97h1.2v1.2h-1.2zM122 97h1.2v1.2h-1.2zM124 97h1.2v1.2h-1.2zM127 97h2.2v1.2h-2.2zM131 97h1.2v1.2h-1.2zM134 97h1.2v1.2h-1.2zM137 97h1.2v1.2h-1.2zM139 97h1.2v1.2h-1.2zM153 97h2.2v1.2h-2.2zM157 97h1.2v1.2h-1.2zM159 97h1.2v1.2h-1.2zM243 97h1.2v1.2h-1.2zM247 97h1.2v1.2h-1.2zM249 97h1.2v1.2h-1.2zM253 97h1.2v1.2h-1.2zM260 97h3.2v1.2h-3.2zM265 97h1.2v1.2h-1.2zM271 97h3.2v1.2h-3.2zM276 97h2.2v1.2h-2.2zM279 97h1.2v1.2h-1.2zM283 97h1.2v1.2h-1.2zM291 97h1.2v1.2h-1.2zM297 97h5.2v1.2h-5.2zM304 97h1.2v1.2h-1.2zM308 97h1.2v1.2h-1.2zM311 97h1.2v1.2h-1.2zM315 97h1.2v1.2h-1.2zM325 97h1.2v1.2h-1.2zM327 97h2.2v1.2h-2.2zM412 97h1.2v1.2h-1.2zM415 97h3.2v1.2h-3.2zM420 97h1.2v1.2h-1.2zM425 97h2.2v1.2h-2.2zM428 97h1.2v1.2h-1.2zM432 97h1.2v1.2h-1.2zM435 97h1.2v1.2h-1.2zM438 97h2.2v1.2h-2.2zM442 97h1.2v1.2h-1.2zM446 97h2.2v1.2h-2.2zM449 97h1.2v1.2h-1.2zM451 97h6.2v1.2h-6.2zM458 97h2.2v1.2h-2.2zM461 97h2.2v1.2h-2.2zM465 97h1.2v1.2h-1.2zM469 97h5.2v1.2h-5.2zM476 97h1.2v1.2h-1.2zM478 97h2.2v1.2h-2.2zM481 97h1.2v1.2h-1.2zM484 97h2.2v1.2h-2.2zM492 97h1.2v1.2h-1.2zM496 97h1.2v1.2h-1.2zM504 97h1.2v1.2h-1.2zM508 97h1.2v1.2h-1.2zM69 98h1.2v1.2h-1.2zM72 98h1.2v1.2h-1.2zM74 98h5.2v1.2h-5.2zM80 98h1.2v1.2h-1.2zM82 98h1.2v1.2h-1.2zM84 98h2.2v1.2h-2.2zM87 98h3.2v1.2h-3.2zM94 98h2.2v1.2h-2.2zM99 98h2.2v1.2h-2.2zM102 98h2.2v1.2h-2.2zM109 98h1.2v1.2h-1.2zM111 98h1.2v1.2h-1.2zM113 98h12.2v1.2h-12.2zM129 98h1.2v1.2h-1.2zM131 98h1.2v1.2h-1.2zM133 98h1.2v1.2h-1.2zM139 98h2.2v1.2h-2.2zM145 98h1.2v1.2h-1.2zM147 98h1.2v1.2h-1.2zM155 98h3.2v1.2h-3.2zM244 98h2.2v1.2h-2.2zM247 98h1.2v1.2h-1.2zM254 98h2.2v1.2h-2.2zM264 98h4.2v1.2h-4.2zM270 98h2.2v1.2h-2.2zM274 98h2.2v1.2h-2.2zM281 98h2.2v1.2h-2.2zM284 98h2.2v1.2h-2.2zM287 98h2.2v1.2h-2.2zM290 98h4.2v1.2h-4.2zM298 98h1.2v1.2h-1.2zM300 98h6.2v1.2h-6.2zM307 98h1.2v1.2h-1.2zM311 98h1.2v1.2h-1.2zM314 98h2.2v1.2h-2.2zM328 98h1.2v1.2h-1.2zM330 98h1.2v1.2h-1.2zM419 98h1.2v1.2h-1.2zM421 98h1.2v1.2h-1.2zM426 98h7.2v1.2h-7.2zM435 98h1.2v1.2h-1.2zM437 98h1.2v1.2h-1.2zM448 98h1.2v1.2h-1.2zM450 98h2.2v1.2h-2.2zM458 98h1.2v1.2h-1.2zM462 98h1.2v1.2h-1.2zM465 98h3.2v1.2h-3.2zM469 98h1.2v1.2h-1.2zM472 98h4.2v1.2h-4.2zM478 98h1.2v1.2h-1.2zM481 98h2.2v1.2h-2.2zM485 98h1.2v1.2h-1.2zM490 98h1.2v1.2h-1.2zM496 98h1.2v1.2h-1.2zM501 98h1.2v1.2h-1.2zM505 98h1.2v1.2h-1.2zM69 99h3.2v1.2h-3.2zM73 99h16.2v1.2h-16.2zM91 99h2.2v1.2h-2.2zM94 99h1.2v1.2h-1.2zM98 99h1.2v1.2h-1.2zM100 99h1.2v1.2h-1.2zM102 99h3.2v1.2h-3.2zM109 99h6.2v1.2h-6.2zM118 99h2.2v1.2h-2.2zM121 99h2.2v1.2h-2.2zM124 99h2.2v1.2h-2.2zM127 99h2.2v1.2h-2.2zM130 99h1.2v1.2h-1.2zM133 99h1.2v1.2h-1.2zM135 99h1.2v1.2h-1.2zM140 99h2.2v1.2h-2.2zM143 99h6.2v1.2h-6.2zM152 99h1.2v1.2h-1.2zM155 99h1.2v1.2h-1.2zM242 99h2.2v1.2h-2.2zM246 99h1.2v1.2h-1.2zM248 99h4.2v1.2h-4.2zM253 99h2.2v1.2h-2.2zM257 99h2.2v1.2h-2.2zM260 99h4.2v1.2h-4.2zM267 99h5.2v1.2h-5.2zM273 99h4.2v1.2h-4.2zM279 99h3.2v1.2h-3.2zM283 99h5.2v1.2h-5.2zM290 99h4.2v1.2h-4.2zM295 99h2.2v1.2h-2.2zM300 99h2.2v1.2h-2.2zM303 99h1.2v1.2h-1.2zM306 99h1.2v1.2h-1.2zM309 99h1.2v1.2h-1.2zM312 99h1.2v1.2h-1.2zM325 99h2.2v1.2h-2.2zM414 99h1.2v1.2h-1.2zM416 99h1.2v1.2h-1.2zM420 99h2.2v1.2h-2.2zM424 99h1.2v1.2h-1.2zM426 99h2.2v1.2h-2.2zM431 99h1.2v1.2h-1.2zM439 99h2.2v1.2h-2.2zM445 99h2.2v1.2h-2.2zM451 99h1.2v1.2h-1.2zM453 99h4.2v1.2h-4.2zM459 99h5.2v1.2h-5.2zM465 99h2.2v1.2h-2.2zM468 99h1.2v1.2h-1.2zM470 99h4.2v1.2h-4.2zM476 99h1.2v1.2h-1.2zM481 99h1.2v1.2h-1.2zM485 99h1.2v1.2h-1.2zM488 99h1.2v1.2h-1.2zM490 99h1.2v1.2h-1.2zM492 99h1.2v1.2h-1.2zM495 99h1.2v1.2h-1.2zM501 99h1.2v1.2h-1.2zM503 99h1.2v1.2h-1.2zM508 99h1.2v1.2h-1.2zM69 100h5.2v1.2h-5.2zM75 100h9.2v1.2h-9.2zM88 100h8.2v1.2h-8.2zM99 100h1.2v1.2h-1.2zM101 100h5.2v1.2h-5.2zM109 100h2.2v1.2h-2.2zM113 100h1.2v1.2h-1.2zM117 100h2.2v1.2h-2.2zM120 100h6.2v1.2h-6.2zM127 100h1.2v1.2h-1.2zM130 100h3.2v1.2h-3.2zM137 100h2.2v1.2h-2.2zM144 100h3.2v1.2h-3.2zM149 100h1.2v1.2h-1.2zM154 100h3.2v1.2h-3.2zM161 100h2.2v1.2h-2.2zM243 100h3.2v1.2h-3.2zM247 100h1.2v1.2h-1.2zM249 100h5.2v1.2h-5.2zM255 100h1.2v1.2h-1.2zM259 100h1.2v1.2h-1.2zM263 100h3.2v1.2h-3.2zM272 100h1.2v1.2h-1.2zM278 100h3.2v1.2h-3.2zM282 100h2.2v1.2h-2.2zM285 100h9.2v1.2h-9.2zM295 100h3.2v1.2h-3.2zM299 100h1.2v1.2h-1.2zM301 100h1.2v1.2h-1.2zM303 100h1.2v1.2h-1.2zM306 100h1.2v1.2h-1.2zM317 100h1.2v1.2h-1.2zM325 100h2.2v1.2h-2.2zM413 100h2.2v1.2h-2.2zM416 100h1.2v1.2h-1.2zM418 100h2.2v1.2h-2.2zM421 100h2.2v1.2h-2.2zM427 100h2.2v1.2h-2.2zM435 100h1.2v1.2h-1.2zM444 100h1.2v1.2h-1.2zM447 100h1.2v1.2h-1.2zM451 100h3.2v1.2h-3.2zM455 100h2.2v1.2h-2.2zM459 100h5.2v1.2h-5.2zM465 100h3.2v1.2h-3.2zM470 100h5.2v1.2h-5.2zM477 100h3.2v1.2h-3.2zM481 100h1.2v1.2h-1.2zM486 100h2.2v1.2h-2.2zM491 100h1.2v1.2h-1.2zM493 100h1.2v1.2h-1.2zM500 100h1.2v1.2h-1.2zM504 100h2.2v1.2h-2.2zM507 100h2.2v1.2h-2.2zM511 100h1.2v1.2h-1.2zM71 101h3.2v1.2h-3.2zM75 101h11.2v1.2h-11.2zM88 101h1.2v1.2h-1.2zM90 101h1.2v1.2h-1.2zM94 101h1.2v1.2h-1.2zM96 101h1.2v1.2h-1.2zM99 101h4.2v1.2h-4.2zM104 101h2.2v1.2h-2.2zM107 101h2.2v1.2h-2.2zM110 101h1.2v1.2h-1.2zM112 101h1.2v1.2h-1.2zM114 101h1.2v1.2h-1.2zM116 101h3.2v1.2h-3.2zM123 101h7.2v1.2h-7.2zM131 101h2.2v1.2h-2.2zM135 101h1.2v1.2h-1.2zM138 101h1.2v1.2h-1.2zM141 101h1.2v1.2h-1.2zM143 101h1.2v1.2h-1.2zM147 101h3.2v1.2h-3.2zM151 101h1.2v1.2h-1.2zM153 101h1.2v1.2h-1.2zM155 101h3.2v1.2h-3.2zM159 101h2.2v1.2h-2.2zM243 101h1.2v1.2h-1.2zM245 101h1.2v1.2h-1.2zM247 101h10.2v1.2h-10.2zM259 101h1.2v1.2h-1.2zM262 101h1.2v1.2h-1.2zM264 101h1.2v1.2h-1.2zM267 101h2.2v1.2h-2.2zM271 101h3.2v1.2h-3.2zM278 101h1.2v1.2h-1.2zM282 101h5.2v1.2h-5.2zM288 101h1.2v1.2h-1.2zM290 101h3.2v1.2h-3.2zM295 101h2.2v1.2h-2.2zM298 101h5.2v1.2h-5.2zM304 101h1.2v1.2h-1.2zM306 101h1.2v1.2h-1.2zM308 101h1.2v1.2h-1.2zM311 101h1.2v1.2h-1.2zM327 101h1.2v1.2h-1.2zM329 101h1.2v1.2h-1.2zM414 101h3.2v1.2h-3.2zM418 101h1.2v1.2h-1.2zM420 101h1.2v1.2h-1.2zM422 101h1.2v1.2h-1.2zM425 101h1.2v1.2h-1.2zM428 101h2.2v1.2h-2.2zM436 101h2.2v1.2h-2.2zM440 101h1.2v1.2h-1.2zM443 101h1.2v1.2h-1.2zM452 101h1.2v1.2h-1.2zM456 101h10.2v1.2h-10.2zM467 101h5.2v1.2h-5.2zM473 101h1.2v1.2h-1.2zM475 101h1.2v1.2h-1.2zM477 101h2.2v1.2h-2.2zM480 101h1.2v1.2h-1.2zM482 101h4.2v1.2h-4.2zM491 101h3.2v1.2h-3.2zM496 101h2.2v1.2h-2.2zM500 101h1.2v1.2h-1.2zM503 101h1.2v1.2h-1.2zM507 101h1.2v1.2h-1.2zM69 102h3.2v1.2h-3.2zM73 102h4.2v1.2h-4.2zM78 102h6.2v1.2h-6.2zM85 102h3.2v1.2h-3.2zM89 102h2.2v1.2h-2.2zM92 102h1.2v1.2h-1.2zM94 102h2.2v1.2h-2.2zM99 102h4.2v1.2h-4.2zM105 102h1.2v1.2h-1.2zM108 102h2.2v1.2h-2.2zM111 102h2.2v1.2h-2.2zM115 102h10.2v1.2h-10.2zM126 102h3.2v1.2h-3.2zM130 102h4.2v1.2h-4.2zM136 102h2.2v1.2h-2.2zM146 102h1.2v1.2h-1.2zM152 102h2.2v1.2h-2.2zM159 102h1.2v1.2h-1.2zM161 102h1.2v1.2h-1.2zM246 102h1.2v1.2h-1.2zM248 102h2.2v1.2h-2.2zM251 102h2.2v1.2h-2.2zM256 102h1.2v1.2h-1.2zM265 102h1.2v1.2h-1.2zM273 102h1.2v1.2h-1.2zM277 102h1.2v1.2h-1.2zM279 102h9.2v1.2h-9.2zM289 102h5.2v1.2h-5.2zM295 102h7.2v1.2h-7.2zM307 102h1.2v1.2h-1.2zM311 102h1.2v1.2h-1.2zM325 102h1.2v1.2h-1.2zM327 102h1.2v1.2h-1.2zM329 102h2.2v1.2h-2.2zM415 102h2.2v1.2h-2.2zM419 102h4.2v1.2h-4.2zM425 102h1.2v1.2h-1.2zM427 102h1.2v1.2h-1.2zM432 102h1.2v1.2h-1.2zM435 102h1.2v1.2h-1.2zM437 102h1.2v1.2h-1.2zM440 102h1.2v1.2h-1.2zM442 102h1.2v1.2h-1.2zM444 102h1.2v1.2h-1.2zM446 102h3.2v1.2h-3.2zM450 102h1.2v1.2h-1.2zM453 102h4.2v1.2h-4.2zM458 102h1.2v1.2h-1.2zM460 102h4.2v1.2h-4.2zM466 102h3.2v1.2h-3.2zM470 102h6.2v1.2h-6.2zM478 102h1.2v1.2h-1.2zM483 102h1.2v1.2h-1.2zM489 102h1.2v1.2h-1.2zM493 102h1.2v1.2h-1.2zM495 102h2.2v1.2h-2.2zM501 102h1.2v1.2h-1.2zM70 103h1.2v1.2h-1.2zM73 103h12.2v1.2h-12.2zM86 103h5.2v1.2h-5.2zM93 103h1.2v1.2h-1.2zM96 103h2.2v1.2h-2.2zM101 103h2.2v1.2h-2.2zM104 103h4.2v1.2h-4.2zM109 103h16.2v1.2h-16.2zM126 103h6.2v1.2h-6.2zM135 103h3.2v1.2h-3.2zM140 103h2.2v1.2h-2.2zM243 103h1.2v1.2h-1.2zM246 103h2.2v1.2h-2.2zM252 103h3.2v1.2h-3.2zM256 103h1.2v1.2h-1.2zM258 103h2.2v1.2h-2.2zM261 103h1.2v1.2h-1.2zM264 103h2.2v1.2h-2.2zM267 103h2.2v1.2h-2.2zM270 103h1.2v1.2h-1.2zM272 103h1.2v1.2h-1.2zM277 103h1.2v1.2h-1.2zM281 103h2.2v1.2h-2.2zM284 103h2.2v1.2h-2.2zM287 103h6.2v1.2h-6.2zM294 103h4.2v1.2h-4.2zM301 103h3.2v1.2h-3.2zM305 103h1.2v1.2h-1.2zM307 103h1.2v1.2h-1.2zM310 103h2.2v1.2h-2.2zM317 103h1.2v1.2h-1.2zM321 103h1.2v1.2h-1.2zM327 103h1.2v1.2h-1.2zM414 103h1.2v1.2h-1.2zM416 103h2.2v1.2h-2.2zM419 103h4.2v1.2h-4.2zM424 103h1.2v1.2h-1.2zM426 103h1.2v1.2h-1.2zM434 103h2.2v1.2h-2.2zM441 103h3.2v1.2h-3.2zM447 103h1.2v1.2h-1.2zM449 103h2.2v1.2h-2.2zM455 103h9.2v1.2h-9.2zM465 103h6.2v1.2h-6.2zM472 103h3.2v1.2h-3.2zM476 103h3.2v1.2h-3.2zM480 103h2.2v1.2h-2.2zM487 103h2.2v1.2h-2.2zM491 103h1.2v1.2h-1.2zM498 103h1.2v1.2h-1.2zM503 103h1.2v1.2h-1.2zM69 104h1.2v1.2h-1.2zM71 104h6.2v1.2h-6.2zM79 104h4.2v1.2h-4.2zM84 104h1.2v1.2h-1.2zM87 104h1.2v1.2h-1.2zM89 104h1.2v1.2h-1.2zM91 104h1.2v1.2h-1.2zM94 104h1.2v1.2h-1.2zM96 104h3.2v1.2h-3.2zM103 104h4.2v1.2h-4.2zM108 104h3.2v1.2h-3.2zM112 104h2.2v1.2h-2.2zM115 104h1.2v1.2h-1.2zM118 104h1.2v1.2h-1.2zM120 104h8.2v1.2h-8.2zM129 104h2.2v1.2h-2.2zM132 104h3.2v1.2h-3.2zM136 104h2.2v1.2h-2.2zM140 104h1.2v1.2h-1.2zM142 104h2.2v1.2h-2.2zM148 104h1.2v1.2h-1.2zM150 104h1.2v1.2h-1.2zM156 104h1.2v1.2h-1.2zM244 104h2.2v1.2h-2.2zM248 104h1.2v1.2h-1.2zM251 104h1.2v1.2h-1.2zM255 104h3.2v1.2h-3.2zM263 104h1.2v1.2h-1.2zM266 104h1.2v1.2h-1.2zM271 104h3.2v1.2h-3.2zM276 104h2.2v1.2h-2.2zM279 104h1.2v1.2h-1.2zM282 104h1.2v1.2h-1.2zM284 104h3.2v1.2h-3.2zM289 104h1.2v1.2h-1.2zM291 104h9.2v1.2h-9.2zM301 104h1.2v1.2h-1.2zM306 104h1.2v1.2h-1.2zM308 104h1.2v1.2h-1.2zM311 104h1.2v1.2h-1.2zM320 104h1.2v1.2h-1.2zM413 104h2.2v1.2h-2.2zM416 104h4.2v1.2h-4.2zM422 104h2.2v1.2h-2.2zM428 104h1.2v1.2h-1.2zM432 104h1.2v1.2h-1.2zM435 104h1.2v1.2h-1.2zM438 104h1.2v1.2h-1.2zM440 104h2.2v1.2h-2.2zM444 104h4.2v1.2h-4.2zM449 104h1.2v1.2h-1.2zM451 104h5.2v1.2h-5.2zM458 104h6.2v1.2h-6.2zM465 104h4.2v1.2h-4.2zM470 104h8.2v1.2h-8.2zM480 104h1.2v1.2h-1.2zM483 104h1.2v1.2h-1.2zM485 104h1.2v1.2h-1.2zM487 104h1.2v1.2h-1.2zM489 104h1.2v1.2h-1.2zM491 104h1.2v1.2h-1.2zM493 104h1.2v1.2h-1.2zM496 104h1.2v1.2h-1.2zM506 104h1.2v1.2h-1.2zM510 104h1.2v1.2h-1.2zM70 105h1.2v1.2h-1.2zM73 105h2.2v1.2h-2.2zM76 105h4.2v1.2h-4.2zM81 105h6.2v1.2h-6.2zM88 105h1.2v1.2h-1.2zM91 105h1.2v1.2h-1.2zM93 105h2.2v1.2h-2.2zM96 105h2.2v1.2h-2.2zM99 105h4.2v1.2h-4.2zM104 105h1.2v1.2h-1.2zM107 105h5.2v1.2h-5.2zM113 105h13.2v1.2h-13.2zM128 105h3.2v1.2h-3.2zM133 105h4.2v1.2h-4.2zM139 105h2.2v1.2h-2.2zM143 105h1.2v1.2h-1.2zM147 105h1.2v1.2h-1.2zM152 105h2.2v1.2h-2.2zM162 105h1.2v1.2h-1.2zM243 105h1.2v1.2h-1.2zM246 105h1.2v1.2h-1.2zM248 105h2.2v1.2h-2.2zM251 105h1.2v1.2h-1.2zM253 105h6.2v1.2h-6.2zM262 105h1.2v1.2h-1.2zM265 105h1.2v1.2h-1.2zM267 105h9.2v1.2h-9.2zM278 105h1.2v1.2h-1.2zM280 105h3.2v1.2h-3.2zM284 105h6.2v1.2h-6.2zM291 105h1.2v1.2h-1.2zM293 105h6.2v1.2h-6.2zM300 105h2.2v1.2h-2.2zM303 105h1.2v1.2h-1.2zM307 105h1.2v1.2h-1.2zM313 105h1.2v1.2h-1.2zM316 105h2.2v1.2h-2.2zM320 105h1.2v1.2h-1.2zM324 105h1.2v1.2h-1.2zM414 105h5.2v1.2h-5.2zM422 105h1.2v1.2h-1.2zM424 105h2.2v1.2h-2.2zM429 105h2.2v1.2h-2.2zM434 105h1.2v1.2h-1.2zM438 105h2.2v1.2h-2.2zM452 105h8.2v1.2h-8.2zM461 105h2.2v1.2h-2.2zM464 105h15.2v1.2h-15.2zM480 105h3.2v1.2h-3.2zM484 105h3.2v1.2h-3.2zM489 105h1.2v1.2h-1.2zM491 105h1.2v1.2h-1.2zM497 105h2.2v1.2h-2.2zM501 105h1.2v1.2h-1.2zM507 105h2.2v1.2h-2.2zM72 106h1.2v1.2h-1.2zM74 106h3.2v1.2h-3.2zM78 106h2.2v1.2h-2.2zM81 106h2.2v1.2h-2.2zM84 106h2.2v1.2h-2.2zM89 106h2.2v1.2h-2.2zM94 106h1.2v1.2h-1.2zM98 106h1.2v1.2h-1.2zM100 106h6.2v1.2h-6.2zM108 106h29.2v1.2h-29.2zM138 106h2.2v1.2h-2.2zM141 106h1.2v1.2h-1.2zM150 106h1.2v1.2h-1.2zM152 106h1.2v1.2h-1.2zM158 106h2.2v1.2h-2.2zM162 106h1.2v1.2h-1.2zM243 106h1.2v1.2h-1.2zM245 106h5.2v1.2h-5.2zM251 106h4.2v1.2h-4.2zM256 106h1.2v1.2h-1.2zM258 106h3.2v1.2h-3.2zM263 106h1.2v1.2h-1.2zM275 106h1.2v1.2h-1.2zM277 106h4.2v1.2h-4.2zM284 106h2.2v1.2h-2.2zM287 106h12.2v1.2h-12.2zM301 106h2.2v1.2h-2.2zM304 106h6.2v1.2h-6.2zM311 106h2.2v1.2h-2.2zM318 106h1.2v1.2h-1.2zM328 106h1.2v1.2h-1.2zM412 106h1.2v1.2h-1.2zM414 106h1.2v1.2h-1.2zM416 106h1.2v1.2h-1.2zM418 106h3.2v1.2h-3.2zM422 106h2.2v1.2h-2.2zM425 106h1.2v1.2h-1.2zM429 106h1.2v1.2h-1.2zM431 106h1.2v1.2h-1.2zM433 106h2.2v1.2h-2.2zM436 106h1.2v1.2h-1.2zM444 106h1.2v1.2h-1.2zM446 106h1.2v1.2h-1.2zM448 106h2.2v1.2h-2.2zM451 106h1.2v1.2h-1.2zM453 106h2.2v1.2h-2.2zM457 106h1.2v1.2h-1.2zM459 106h1.2v1.2h-1.2zM461 106h2.2v1.2h-2.2zM464 106h15.2v1.2h-15.2zM480 106h6.2v1.2h-6.2zM487 106h1.2v1.2h-1.2zM489 106h1.2v1.2h-1.2zM491 106h1.2v1.2h-1.2zM497 106h1.2v1.2h-1.2zM503 106h1.2v1.2h-1.2zM505 106h2.2v1.2h-2.2zM509 106h2.2v1.2h-2.2zM70 107h1.2v1.2h-1.2zM73 107h3.2v1.2h-3.2zM77 107h9.2v1.2h-9.2zM89 107h5.2v1.2h-5.2zM96 107h1.2v1.2h-1.2zM98 107h2.2v1.2h-2.2zM101 107h1.2v1.2h-1.2zM104 107h1.2v1.2h-1.2zM106 107h1.2v1.2h-1.2zM108 107h10.2v1.2h-10.2zM119 107h2.2v1.2h-2.2zM122 107h12.2v1.2h-12.2zM135 107h1.2v1.2h-1.2zM137 107h1.2v1.2h-1.2zM139 107h1.2v1.2h-1.2zM142 107h4.2v1.2h-4.2zM148 107h1.2v1.2h-1.2zM151 107h3.2v1.2h-3.2zM155 107h1.2v1.2h-1.2zM157 107h1.2v1.2h-1.2zM161 107h2.2v1.2h-2.2zM242 107h1.2v1.2h-1.2zM244 107h1.2v1.2h-1.2zM248 107h3.2v1.2h-3.2zM252 107h2.2v1.2h-2.2zM256 107h1.2v1.2h-1.2zM258 107h1.2v1.2h-1.2zM265 107h1.2v1.2h-1.2zM269 107h3.2v1.2h-3.2zM273 107h4.2v1.2h-4.2zM278 107h2.2v1.2h-2.2zM281 107h1.2v1.2h-1.2zM283 107h12.2v1.2h-12.2zM296 107h8.2v1.2h-8.2zM305 107h1.2v1.2h-1.2zM307 107h1.2v1.2h-1.2zM311 107h2.2v1.2h-2.2zM316 107h1.2v1.2h-1.2zM318 107h1.2v1.2h-1.2zM321 107h1.2v1.2h-1.2zM323 107h1.2v1.2h-1.2zM414 107h1.2v1.2h-1.2zM416 107h2.2v1.2h-2.2zM423 107h2.2v1.2h-2.2zM428 107h1.2v1.2h-1.2zM431 107h1.2v1.2h-1.2zM437 107h3.2v1.2h-3.2zM442 107h2.2v1.2h-2.2zM448 107h1.2v1.2h-1.2zM453 107h4.2v1.2h-4.2zM458 107h16.2v1.2h-16.2zM475 107h3.2v1.2h-3.2zM479 107h1.2v1.2h-1.2zM481 107h2.2v1.2h-2.2zM485 107h2.2v1.2h-2.2zM499 107h1.2v1.2h-1.2zM503 107h1.2v1.2h-1.2zM508 107h1.2v1.2h-1.2zM510 107h2.2v1.2h-2.2zM71 108h10.2v1.2h-10.2zM83 108h4.2v1.2h-4.2zM89 108h3.2v1.2h-3.2zM94 108h2.2v1.2h-2.2zM97 108h2.2v1.2h-2.2zM100 108h1.2v1.2h-1.2zM102 108h1.2v1.2h-1.2zM106 108h11.2v1.2h-11.2zM118 108h2.2v1.2h-2.2zM121 108h8.2v1.2h-8.2zM130 108h1.2v1.2h-1.2zM133 108h1.2v1.2h-1.2zM135 108h1.2v1.2h-1.2zM142 108h3.2v1.2h-3.2zM147 108h1.2v1.2h-1.2zM154 108h2.2v1.2h-2.2zM158 108h1.2v1.2h-1.2zM160 108h1.2v1.2h-1.2zM243 108h4.2v1.2h-4.2zM250 108h2.2v1.2h-2.2zM253 108h1.2v1.2h-1.2zM255 108h1.2v1.2h-1.2zM257 108h1.2v1.2h-1.2zM260 108h2.2v1.2h-2.2zM263 108h1.2v1.2h-1.2zM267 108h2.2v1.2h-2.2zM271 108h2.2v1.2h-2.2zM274 108h1.2v1.2h-1.2zM277 108h6.2v1.2h-6.2zM284 108h3.2v1.2h-3.2zM288 108h6.2v1.2h-6.2zM295 108h5.2v1.2h-5.2zM302 108h4.2v1.2h-4.2zM307 108h2.2v1.2h-2.2zM310 108h1.2v1.2h-1.2zM313 108h1.2v1.2h-1.2zM318 108h1.2v1.2h-1.2zM412 108h5.2v1.2h-5.2zM418 108h1.2v1.2h-1.2zM420 108h6.2v1.2h-6.2zM427 108h1.2v1.2h-1.2zM431 108h1.2v1.2h-1.2zM433 108h1.2v1.2h-1.2zM437 108h1.2v1.2h-1.2zM446 108h2.2v1.2h-2.2zM449 108h5.2v1.2h-5.2zM455 108h3.2v1.2h-3.2zM459 108h4.2v1.2h-4.2zM464 108h4.2v1.2h-4.2zM469 108h6.2v1.2h-6.2zM476 108h4.2v1.2h-4.2zM481 108h2.2v1.2h-2.2zM485 108h2.2v1.2h-2.2zM488 108h1.2v1.2h-1.2zM492 108h1.2v1.2h-1.2zM494 108h2.2v1.2h-2.2zM504 108h1.2v1.2h-1.2zM71 109h11.2v1.2h-11.2zM83 109h2.2v1.2h-2.2zM86 109h1.2v1.2h-1.2zM89 109h2.2v1.2h-2.2zM93 109h1.2v1.2h-1.2zM96 109h1.2v1.2h-1.2zM98 109h1.2v1.2h-1.2zM100 109h5.2v1.2h-5.2zM107 109h4.2v1.2h-4.2zM114 109h16.2v1.2h-16.2zM131 109h3.2v1.2h-3.2zM136 109h2.2v1.2h-2.2zM139 109h1.2v1.2h-1.2zM148 109h1.2v1.2h-1.2zM150 109h1.2v1.2h-1.2zM152 109h1.2v1.2h-1.2zM154 109h1.2v1.2h-1.2zM161 109h1.2v1.2h-1.2zM244 109h1.2v1.2h-1.2zM246 109h1.2v1.2h-1.2zM248 109h7.2v1.2h-7.2zM257 109h1.2v1.2h-1.2zM260 109h1.2v1.2h-1.2zM266 109h1.2v1.2h-1.2zM268 109h3.2v1.2h-3.2zM272 109h3.2v1.2h-3.2zM277 109h8.2v1.2h-8.2zM286 109h1.2v1.2h-1.2zM288 109h2.2v1.2h-2.2zM291 109h7.2v1.2h-7.2zM299 109h2.2v1.2h-2.2zM302 109h1.2v1.2h-1.2zM306 109h2.2v1.2h-2.2zM310 109h2.2v1.2h-2.2zM321 109h1.2v1.2h-1.2zM414 109h2.2v1.2h-2.2zM417 109h1.2v1.2h-1.2zM420 109h4.2v1.2h-4.2zM425 109h1.2v1.2h-1.2zM429 109h2.2v1.2h-2.2zM435 109h1.2v1.2h-1.2zM438 109h1.2v1.2h-1.2zM443 109h1.2v1.2h-1.2zM445 109h1.2v1.2h-1.2zM449 109h1.2v1.2h-1.2zM451 109h1.2v1.2h-1.2zM453 109h5.2v1.2h-5.2zM459 109h6.2v1.2h-6.2zM466 109h5.2v1.2h-5.2zM472 109h2.2v1.2h-2.2zM475 109h1.2v1.2h-1.2zM477 109h1.2v1.2h-1.2zM479 109h2.2v1.2h-2.2zM484 109h1.2v1.2h-1.2zM487 109h2.2v1.2h-2.2zM493 109h3.2v1.2h-3.2zM502 109h2.2v1.2h-2.2zM506 109h1.2v1.2h-1.2zM509 109h1.2v1.2h-1.2zM69 110h16.2v1.2h-16.2zM86 110h3.2v1.2h-3.2zM92 110h1.2v1.2h-1.2zM95 110h1.2v1.2h-1.2zM97 110h2.2v1.2h-2.2zM100 110h2.2v1.2h-2.2zM103 110h2.2v1.2h-2.2zM107 110h1.2v1.2h-1.2zM109 110h10.2v1.2h-10.2zM120 110h4.2v1.2h-4.2zM125 110h10.2v1.2h-10.2zM138 110h3.2v1.2h-3.2zM142 110h1.2v1.2h-1.2zM145 110h1.2v1.2h-1.2zM147 110h1.2v1.2h-1.2zM151 110h1.2v1.2h-1.2zM154 110h1.2v1.2h-1.2zM162 110h1.2v1.2h-1.2zM242 110h2.2v1.2h-2.2zM246 110h1.2v1.2h-1.2zM249 110h2.2v1.2h-2.2zM252 110h1.2v1.2h-1.2zM255 110h2.2v1.2h-2.2zM258 110h2.2v1.2h-2.2zM266 110h5.2v1.2h-5.2zM276 110h1.2v1.2h-1.2zM279 110h1.2v1.2h-1.2zM283 110h12.2v1.2h-12.2zM296 110h5.2v1.2h-5.2zM310 110h1.2v1.2h-1.2zM315 110h1.2v1.2h-1.2zM326 110h1.2v1.2h-1.2zM328 110h1.2v1.2h-1.2zM413 110h3.2v1.2h-3.2zM417 110h3.2v1.2h-3.2zM421 110h1.2v1.2h-1.2zM423 110h1.2v1.2h-1.2zM425 110h1.2v1.2h-1.2zM427 110h1.2v1.2h-1.2zM429 110h2.2v1.2h-2.2zM433 110h2.2v1.2h-2.2zM438 110h1.2v1.2h-1.2zM440 110h1.2v1.2h-1.2zM442 110h1.2v1.2h-1.2zM446 110h1.2v1.2h-1.2zM449 110h1.2v1.2h-1.2zM452 110h3.2v1.2h-3.2zM456 110h9.2v1.2h-9.2zM466 110h3.2v1.2h-3.2zM472 110h1.2v1.2h-1.2zM474 110h2.2v1.2h-2.2zM478 110h4.2v1.2h-4.2zM483 110h6.2v1.2h-6.2zM490 110h1.2v1.2h-1.2zM494 110h1.2v1.2h-1.2zM498 110h1.2v1.2h-1.2zM70 111h4.2v1.2h-4.2zM75 111h6.2v1.2h-6.2zM82 111h2.2v1.2h-2.2zM85 111h1.2v1.2h-1.2zM87 111h1.2v1.2h-1.2zM92 111h2.2v1.2h-2.2zM97 111h2.2v1.2h-2.2zM100 111h1.2v1.2h-1.2zM103 111h1.2v1.2h-1.2zM107 111h20.2v1.2h-20.2zM128 111h10.2v1.2h-10.2zM142 111h3.2v1.2h-3.2zM148 111h4.2v1.2h-4.2zM156 111h1.2v1.2h-1.2zM160 111h1.2v1.2h-1.2zM162 111h1.2v1.2h-1.2zM242 111h3.2v1.2h-3.2zM248 111h1.2v1.2h-1.2zM250 111h5.2v1.2h-5.2zM256 111h1.2v1.2h-1.2zM258 111h3.2v1.2h-3.2zM263 111h2.2v1.2h-2.2zM269 111h3.2v1.2h-3.2zM274 111h3.2v1.2h-3.2zM279 111h8.2v1.2h-8.2zM289 111h3.2v1.2h-3.2zM293 111h1.2v1.2h-1.2zM295 111h3.2v1.2h-3.2zM299 111h1.2v1.2h-1.2zM301 111h2.2v1.2h-2.2zM304 111h1.2v1.2h-1.2zM308 111h2.2v1.2h-2.2zM317 111h1.2v1.2h-1.2zM325 111h2.2v1.2h-2.2zM330 111h1.2v1.2h-1.2zM414 111h1.2v1.2h-1.2zM416 111h3.2v1.2h-3.2zM420 111h4.2v1.2h-4.2zM426 111h1.2v1.2h-1.2zM429 111h2.2v1.2h-2.2zM433 111h2.2v1.2h-2.2zM437 111h2.2v1.2h-2.2zM441 111h1.2v1.2h-1.2zM443 111h1.2v1.2h-1.2zM446 111h1.2v1.2h-1.2zM448 111h12.2v1.2h-12.2zM461 111h8.2v1.2h-8.2zM470 111h2.2v1.2h-2.2zM473 111h7.2v1.2h-7.2zM481 111h1.2v1.2h-1.2zM483 111h1.2v1.2h-1.2zM485 111h1.2v1.2h-1.2zM487 111h1.2v1.2h-1.2zM493 111h2.2v1.2h-2.2zM505 111h1.2v1.2h-1.2zM511 111h1.2v1.2h-1.2zM70 112h3.2v1.2h-3.2zM75 112h2.2v1.2h-2.2zM78 112h10.2v1.2h-10.2zM90 112h2.2v1.2h-2.2zM94 112h2.2v1.2h-2.2zM98 112h1.2v1.2h-1.2zM100 112h3.2v1.2h-3.2zM105 112h2.2v1.2h-2.2zM108 112h1.2v1.2h-1.2zM110 112h8.2v1.2h-8.2zM119 112h5.2v1.2h-5.2zM125 112h10.2v1.2h-10.2zM136 112h2.2v1.2h-2.2zM139 112h1.2v1.2h-1.2zM141 112h1.2v1.2h-1.2zM143 112h2.2v1.2h-2.2zM154 112h1.2v1.2h-1.2zM156 112h1.2v1.2h-1.2zM158 112h1.2v1.2h-1.2zM160 112h1.2v1.2h-1.2zM244 112h4.2v1.2h-4.2zM249 112h4.2v1.2h-4.2zM254 112h1.2v1.2h-1.2zM256 112h8.2v1.2h-8.2zM267 112h2.2v1.2h-2.2zM270 112h4.2v1.2h-4.2zM276 112h5.2v1.2h-5.2zM282 112h2.2v1.2h-2.2zM286 112h5.2v1.2h-5.2zM292 112h1.2v1.2h-1.2zM294 112h5.2v1.2h-5.2zM300 112h5.2v1.2h-5.2zM308 112h1.2v1.2h-1.2zM314 112h1.2v1.2h-1.2zM316 112h1.2v1.2h-1.2zM319 112h1.2v1.2h-1.2zM322 112h2.2v1.2h-2.2zM325 112h1.2v1.2h-1.2zM328 112h1.2v1.2h-1.2zM412 112h1.2v1.2h-1.2zM414 112h2.2v1.2h-2.2zM417 112h4.2v1.2h-4.2zM423 112h1.2v1.2h-1.2zM425 112h2.2v1.2h-2.2zM436 112h1.2v1.2h-1.2zM443 112h1.2v1.2h-1.2zM447 112h2.2v1.2h-2.2zM450 112h5.2v1.2h-5.2zM456 112h9.2v1.2h-9.2zM466 112h2.2v1.2h-2.2zM469 112h3.2v1.2h-3.2zM473 112h6.2v1.2h-6.2zM481 112h1.2v1.2h-1.2zM484 112h1.2v1.2h-1.2zM486 112h2.2v1.2h-2.2zM490 112h1.2v1.2h-1.2zM492 112h1.2v1.2h-1.2zM499 112h1.2v1.2h-1.2zM501 112h1.2v1.2h-1.2zM506 112h1.2v1.2h-1.2zM508 112h1.2v1.2h-1.2zM69 113h1.2v1.2h-1.2zM71 113h1.2v1.2h-1.2zM73 113h2.2v1.2h-2.2zM77 113h7.2v1.2h-7.2zM85 113h3.2v1.2h-3.2zM89 113h3.2v1.2h-3.2zM93 113h1.2v1.2h-1.2zM95 113h1.2v1.2h-1.2zM99 113h6.2v1.2h-6.2zM106 113h1.2v1.2h-1.2zM108 113h7.2v1.2h-7.2zM116 113h2.2v1.2h-2.2zM119 113h6.2v1.2h-6.2zM126 113h6.2v1.2h-6.2zM133 113h4.2v1.2h-4.2zM138 113h1.2v1.2h-1.2zM140 113h1.2v1.2h-1.2zM143 113h1.2v1.2h-1.2zM151 113h2.2v1.2h-2.2zM156 113h1.2v1.2h-1.2zM160 113h1.2v1.2h-1.2zM242 113h8.2v1.2h-8.2zM251 113h3.2v1.2h-3.2zM256 113h1.2v1.2h-1.2zM258 113h2.2v1.2h-2.2zM262 113h2.2v1.2h-2.2zM267 113h2.2v1.2h-2.2zM273 113h2.2v1.2h-2.2zM278 113h4.2v1.2h-4.2zM283 113h8.2v1.2h-8.2zM293 113h3.2v1.2h-3.2zM297 113h1.2v1.2h-1.2zM299 113h5.2v1.2h-5.2zM306 113h3.2v1.2h-3.2zM310 113h1.2v1.2h-1.2zM314 113h1.2v1.2h-1.2zM316 113h1.2v1.2h-1.2zM319 113h2.2v1.2h-2.2zM323 113h3.2v1.2h-3.2zM414 113h4.2v1.2h-4.2zM419 113h3.2v1.2h-3.2zM423 113h2.2v1.2h-2.2zM426 113h1.2v1.2h-1.2zM428 113h1.2v1.2h-1.2zM439 113h1.2v1.2h-1.2zM448 113h1.2v1.2h-1.2zM453 113h7.2v1.2h-7.2zM461 113h6.2v1.2h-6.2zM468 113h4.2v1.2h-4.2zM473 113h5.2v1.2h-5.2zM479 113h3.2v1.2h-3.2zM484 113h4.2v1.2h-4.2zM490 113h1.2v1.2h-1.2zM495 113h1.2v1.2h-1.2zM500 113h1.2v1.2h-1.2zM503 113h1.2v1.2h-1.2zM507 113h1.2v1.2h-1.2zM510 113h1.2v1.2h-1.2zM69 114h2.2v1.2h-2.2zM72 114h1.2v1.2h-1.2zM74 114h6.2v1.2h-6.2zM81 114h3.2v1.2h-3.2zM86 114h5.2v1.2h-5.2zM92 114h2.2v1.2h-2.2zM98 114h1.2v1.2h-1.2zM100 114h1.2v1.2h-1.2zM102 114h3.2v1.2h-3.2zM106 114h5.2v1.2h-5.2zM112 114h1.2v1.2h-1.2zM114 114h17.2v1.2h-17.2zM132 114h6.2v1.2h-6.2zM143 114h1.2v1.2h-1.2zM145 114h1.2v1.2h-1.2zM147 114h1.2v1.2h-1.2zM150 114h2.2v1.2h-2.2zM159 114h1.2v1.2h-1.2zM242 114h2.2v1.2h-2.2zM245 114h7.2v1.2h-7.2zM253 114h4.2v1.2h-4.2zM258 114h1.2v1.2h-1.2zM264 114h2.2v1.2h-2.2zM268 114h2.2v1.2h-2.2zM272 114h1.2v1.2h-1.2zM275 114h2.2v1.2h-2.2zM279 114h2.2v1.2h-2.2zM286 114h5.2v1.2h-5.2zM292 114h1.2v1.2h-1.2zM294 114h2.2v1.2h-2.2zM297 114h5.2v1.2h-5.2zM306 114h1.2v1.2h-1.2zM308 114h1.2v1.2h-1.2zM313 114h1.2v1.2h-1.2zM329 114h1.2v1.2h-1.2zM412 114h1.2v1.2h-1.2zM415 114h5.2v1.2h-5.2zM421 114h6.2v1.2h-6.2zM428 114h1.2v1.2h-1.2zM432 114h1.2v1.2h-1.2zM436 114h1.2v1.2h-1.2zM440 114h1.2v1.2h-1.2zM446 114h4.2v1.2h-4.2zM451 114h2.2v1.2h-2.2zM454 114h12.2v1.2h-12.2zM467 114h5.2v1.2h-5.2zM473 114h4.2v1.2h-4.2zM478 114h2.2v1.2h-2.2zM483 114h1.2v1.2h-1.2zM487 114h1.2v1.2h-1.2zM492 114h1.2v1.2h-1.2zM496 114h1.2v1.2h-1.2zM500 114h1.2v1.2h-1.2zM506 114h1.2v1.2h-1.2zM71 115h6.2v1.2h-6.2zM78 115h16.2v1.2h-16.2zM96 115h7.2v1.2h-7.2zM105 115h1.2v1.2h-1.2zM107 115h4.2v1.2h-4.2zM112 115h1.2v1.2h-1.2zM114 115h2.2v1.2h-2.2zM117 115h9.2v1.2h-9.2zM127 115h9.2v1.2h-9.2zM138 115h1.2v1.2h-1.2zM143 115h1.2v1.2h-1.2zM146 115h1.2v1.2h-1.2zM149 115h1.2v1.2h-1.2zM154 115h1.2v1.2h-1.2zM158 115h1.2v1.2h-1.2zM161 115h1.2v1.2h-1.2zM242 115h2.2v1.2h-2.2zM245 115h1.2v1.2h-1.2zM248 115h1.2v1.2h-1.2zM250 115h3.2v1.2h-3.2zM254 115h1.2v1.2h-1.2zM256 115h1.2v1.2h-1.2zM267 115h1.2v1.2h-1.2zM269 115h1.2v1.2h-1.2zM272 115h2.2v1.2h-2.2zM275 115h1.2v1.2h-1.2zM277 115h5.2v1.2h-5.2zM284 115h12.2v1.2h-12.2zM297 115h5.2v1.2h-5.2zM303 115h1.2v1.2h-1.2zM305 115h3.2v1.2h-3.2zM309 115h1.2v1.2h-1.2zM312 115h1.2v1.2h-1.2zM318 115h1.2v1.2h-1.2zM321 115h1.2v1.2h-1.2zM326 115h1.2v1.2h-1.2zM413 115h5.2v1.2h-5.2zM419 115h1.2v1.2h-1.2zM423 115h2.2v1.2h-2.2zM427 115h2.2v1.2h-2.2zM430 115h1.2v1.2h-1.2zM432 115h1.2v1.2h-1.2zM434 115h3.2v1.2h-3.2zM441 115h2.2v1.2h-2.2zM444 115h1.2v1.2h-1.2zM450 115h1.2v1.2h-1.2zM452 115h6.2v1.2h-6.2zM459 115h1.2v1.2h-1.2zM461 115h3.2v1.2h-3.2zM465 115h3.2v1.2h-3.2zM469 115h8.2v1.2h-8.2zM480 115h3.2v1.2h-3.2zM485 115h1.2v1.2h-1.2zM488 115h1.2v1.2h-1.2zM70 116h1.2v1.2h-1.2zM72 116h6.2v1.2h-6.2zM80 116h2.2v1.2h-2.2zM84 116h1.2v1.2h-1.2zM87 116h2.2v1.2h-2.2zM90 116h1.2v1.2h-1.2zM92 116h2.2v1.2h-2.2zM95 116h3.2v1.2h-3.2zM99 116h1.2v1.2h-1.2zM101 116h1.2v1.2h-1.2zM105 116h2.2v1.2h-2.2zM108 116h2.2v1.2h-2.2zM111 116h16.2v1.2h-16.2zM128 116h2.2v1.2h-2.2zM131 116h2.2v1.2h-2.2zM135 116h1.2v1.2h-1.2zM140 116h4.2v1.2h-4.2zM151 116h1.2v1.2h-1.2zM154 116h1.2v1.2h-1.2zM159 116h1.2v1.2h-1.2zM161 116h1.2v1.2h-1.2zM243 116h5.2v1.2h-5.2zM249 116h7.2v1.2h-7.2zM258 116h1.2v1.2h-1.2zM261 116h1.2v1.2h-1.2zM264 116h1.2v1.2h-1.2zM267 116h1.2v1.2h-1.2zM269 116h2.2v1.2h-2.2zM272 116h2.2v1.2h-2.2zM275 116h2.2v1.2h-2.2zM278 116h2.2v1.2h-2.2zM281 116h7.2v1.2h-7.2zM291 116h8.2v1.2h-8.2zM300 116h5.2v1.2h-5.2zM309 116h1.2v1.2h-1.2zM311 116h2.2v1.2h-2.2zM325 116h1.2v1.2h-1.2zM413 116h1.2v1.2h-1.2zM415 116h1.2v1.2h-1.2zM417 116h2.2v1.2h-2.2zM421 116h4.2v1.2h-4.2zM427 116h1.2v1.2h-1.2zM429 116h2.2v1.2h-2.2zM433 116h1.2v1.2h-1.2zM436 116h2.2v1.2h-2.2zM450 116h1.2v1.2h-1.2zM456 116h9.2v1.2h-9.2zM466 116h1.2v1.2h-1.2zM468 116h12.2v1.2h-12.2zM481 116h1.2v1.2h-1.2zM484 116h2.2v1.2h-2.2zM488 116h1.2v1.2h-1.2zM497 116h2.2v1.2h-2.2zM505 116h1.2v1.2h-1.2zM72 117h10.2v1.2h-10.2zM84 117h3.2v1.2h-3.2zM89 117h2.2v1.2h-2.2zM93 117h2.2v1.2h-2.2zM96 117h2.2v1.2h-2.2zM104 117h2.2v1.2h-2.2zM109 117h6.2v1.2h-6.2zM116 117h14.2v1.2h-14.2zM132 117h2.2v1.2h-2.2zM136 117h6.2v1.2h-6.2zM147 117h2.2v1.2h-2.2zM150 117h1.2v1.2h-1.2zM157 117h1.2v1.2h-1.2zM245 117h1.2v1.2h-1.2zM247 117h1.2v1.2h-1.2zM249 117h4.2v1.2h-4.2zM254 117h1.2v1.2h-1.2zM256 117h4.2v1.2h-4.2zM261 117h1.2v1.2h-1.2zM263 117h1.2v1.2h-1.2zM266 117h2.2v1.2h-2.2zM269 117h1.2v1.2h-1.2zM272 117h1.2v1.2h-1.2zM276 117h4.2v1.2h-4.2zM281 117h9.2v1.2h-9.2zM291 117h8.2v1.2h-8.2zM300 117h1.2v1.2h-1.2zM303 117h2.2v1.2h-2.2zM308 117h1.2v1.2h-1.2zM312 117h2.2v1.2h-2.2zM317 117h2.2v1.2h-2.2zM320 117h1.2v1.2h-1.2zM326 117h1.2v1.2h-1.2zM416 117h2.2v1.2h-2.2zM420 117h2.2v1.2h-2.2zM423 117h4.2v1.2h-4.2zM428 117h2.2v1.2h-2.2zM436 117h1.2v1.2h-1.2zM440 117h3.2v1.2h-3.2zM449 117h1.2v1.2h-1.2zM451 117h2.2v1.2h-2.2zM455 117h2.2v1.2h-2.2zM458 117h1.2v1.2h-1.2zM460 117h2.2v1.2h-2.2zM463 117h2.2v1.2h-2.2zM467 117h8.2v1.2h-8.2zM476 117h1.2v1.2h-1.2zM478 117h1.2v1.2h-1.2zM480 117h2.2v1.2h-2.2zM483 117h1.2v1.2h-1.2zM485 117h1.2v1.2h-1.2zM493 117h1.2v1.2h-1.2zM499 117h2.2v1.2h-2.2zM504 117h1.2v1.2h-1.2zM510 117h1.2v1.2h-1.2zM70 118h1.2v1.2h-1.2zM72 118h6.2v1.2h-6.2zM79 118h3.2v1.2h-3.2zM85 118h1.2v1.2h-1.2zM87 118h1.2v1.2h-1.2zM92 118h1.2v1.2h-1.2zM95 118h2.2v1.2h-2.2zM98 118h4.2v1.2h-4.2zM104 118h1.2v1.2h-1.2zM108 118h2.2v1.2h-2.2zM111 118h1.2v1.2h-1.2zM114 118h9.2v1.2h-9.2zM124 118h4.2v1.2h-4.2zM129 118h2.2v1.2h-2.2zM132 118h2.2v1.2h-2.2zM135 118h2.2v1.2h-2.2zM138 118h1.2v1.2h-1.2zM146 118h1.2v1.2h-1.2zM151 118h1.2v1.2h-1.2zM157 118h1.2v1.2h-1.2zM159 118h1.2v1.2h-1.2zM161 118h1.2v1.2h-1.2zM242 118h1.2v1.2h-1.2zM245 118h1.2v1.2h-1.2zM247 118h1.2v1.2h-1.2zM249 118h5.2v1.2h-5.2zM255 118h1.2v1.2h-1.2zM257 118h3.2v1.2h-3.2zM262 118h1.2v1.2h-1.2zM267 118h2.2v1.2h-2.2zM271 118h1.2v1.2h-1.2zM273 118h4.2v1.2h-4.2zM278 118h3.2v1.2h-3.2zM283 118h8.2v1.2h-8.2zM292 118h7.2v1.2h-7.2zM300 118h1.2v1.2h-1.2zM303 118h1.2v1.2h-1.2zM306 118h1.2v1.2h-1.2zM309 118h2.2v1.2h-2.2zM313 118h1.2v1.2h-1.2zM318 118h1.2v1.2h-1.2zM320 118h1.2v1.2h-1.2zM412 118h1.2v1.2h-1.2zM415 118h5.2v1.2h-5.2zM421 118h4.2v1.2h-4.2zM428 118h2.2v1.2h-2.2zM431 118h1.2v1.2h-1.2zM436 118h2.2v1.2h-2.2zM442 118h3.2v1.2h-3.2zM446 118h1.2v1.2h-1.2zM449 118h1.2v1.2h-1.2zM454 118h6.2v1.2h-6.2zM461 118h5.2v1.2h-5.2zM467 118h10.2v1.2h-10.2zM479 118h1.2v1.2h-1.2zM481 118h1.2v1.2h-1.2zM483 118h1.2v1.2h-1.2zM490 118h1.2v1.2h-1.2zM500 118h1.2v1.2h-1.2zM505 118h1.2v1.2h-1.2zM70 119h1.2v1.2h-1.2zM72 119h16.2v1.2h-16.2zM94 119h3.2v1.2h-3.2zM98 119h3.2v1.2h-3.2zM102 119h1.2v1.2h-1.2zM107 119h1.2v1.2h-1.2zM109 119h5.2v1.2h-5.2zM115 119h1.2v1.2h-1.2zM117 119h6.2v1.2h-6.2zM124 119h5.2v1.2h-5.2zM130 119h1.2v1.2h-1.2zM133 119h1.2v1.2h-1.2zM135 119h1.2v1.2h-1.2zM138 119h6.2v1.2h-6.2zM148 119h2.2v1.2h-2.2zM160 119h1.2v1.2h-1.2zM246 119h10.2v1.2h-10.2zM257 119h1.2v1.2h-1.2zM260 119h3.2v1.2h-3.2zM266 119h1.2v1.2h-1.2zM271 119h1.2v1.2h-1.2zM278 119h1.2v1.2h-1.2zM280 119h2.2v1.2h-2.2zM284 119h8.2v1.2h-8.2zM293 119h6.2v1.2h-6.2zM303 119h3.2v1.2h-3.2zM307 119h1.2v1.2h-1.2zM317 119h1.2v1.2h-1.2zM413 119h2.2v1.2h-2.2zM418 119h2.2v1.2h-2.2zM423 119h5.2v1.2h-5.2zM429 119h4.2v1.2h-4.2zM435 119h1.2v1.2h-1.2zM438 119h3.2v1.2h-3.2zM442 119h1.2v1.2h-1.2zM444 119h1.2v1.2h-1.2zM447 119h3.2v1.2h-3.2zM451 119h1.2v1.2h-1.2zM454 119h1.2v1.2h-1.2zM456 119h4.2v1.2h-4.2zM462 119h4.2v1.2h-4.2zM467 119h6.2v1.2h-6.2zM474 119h2.2v1.2h-2.2zM477 119h1.2v1.2h-1.2zM479 119h2.2v1.2h-2.2zM482 119h2.2v1.2h-2.2zM485 119h1.2v1.2h-1.2zM489 119h1.2v1.2h-1.2zM497 119h3.2v1.2h-3.2zM501 119h1.2v1.2h-1.2zM509 119h1.2v1.2h-1.2zM511 119h1.2v1.2h-1.2zM71 120h1.2v1.2h-1.2zM73 120h13.2v1.2h-13.2zM90 120h4.2v1.2h-4.2zM95 120h1.2v1.2h-1.2zM97 120h1.2v1.2h-1.2zM101 120h1.2v1.2h-1.2zM103 120h1.2v1.2h-1.2zM106 120h3.2v1.2h-3.2zM114 120h2.2v1.2h-2.2zM117 120h10.2v1.2h-10.2zM129 120h2.2v1.2h-2.2zM133 120h2.2v1.2h-2.2zM136 120h2.2v1.2h-2.2zM142 120h1.2v1.2h-1.2zM242 120h2.2v1.2h-2.2zM245 120h2.2v1.2h-2.2zM248 120h1.2v1.2h-1.2zM252 120h1.2v1.2h-1.2zM255 120h4.2v1.2h-4.2zM262 120h1.2v1.2h-1.2zM264 120h3.2v1.2h-3.2zM268 120h1.2v1.2h-1.2zM271 120h1.2v1.2h-1.2zM275 120h1.2v1.2h-1.2zM277 120h1.2v1.2h-1.2zM283 120h4.2v1.2h-4.2zM290 120h1.2v1.2h-1.2zM293 120h3.2v1.2h-3.2zM297 120h1.2v1.2h-1.2zM299 120h1.2v1.2h-1.2zM303 120h1.2v1.2h-1.2zM313 120h1.2v1.2h-1.2zM325 120h1.2v1.2h-1.2zM412 120h1.2v1.2h-1.2zM414 120h7.2v1.2h-7.2zM422 120h2.2v1.2h-2.2zM425 120h1.2v1.2h-1.2zM428 120h1.2v1.2h-1.2zM430 120h1.2v1.2h-1.2zM432 120h1.2v1.2h-1.2zM440 120h4.2v1.2h-4.2zM451 120h1.2v1.2h-1.2zM453 120h1.2v1.2h-1.2zM456 120h1.2v1.2h-1.2zM458 120h7.2v1.2h-7.2zM466 120h6.2v1.2h-6.2zM473 120h1.2v1.2h-1.2zM475 120h1.2v1.2h-1.2zM477 120h1.2v1.2h-1.2zM480 120h1.2v1.2h-1.2zM484 120h1.2v1.2h-1.2zM487 120h1.2v1.2h-1.2zM500 120h1.2v1.2h-1.2zM505 120h1.2v1.2h-1.2zM69 121h3.2v1.2h-3.2zM73 121h1.2v1.2h-1.2zM75 121h4.2v1.2h-4.2zM81 121h4.2v1.2h-4.2zM87 121h3.2v1.2h-3.2zM91 121h2.2v1.2h-2.2zM94 121h2.2v1.2h-2.2zM99 121h5.2v1.2h-5.2zM107 121h2.2v1.2h-2.2zM110 121h4.2v1.2h-4.2zM115 121h2.2v1.2h-2.2zM118 121h2.2v1.2h-2.2zM121 121h4.2v1.2h-4.2zM126 121h3.2v1.2h-3.2zM130 121h3.2v1.2h-3.2zM134 121h1.2v1.2h-1.2zM136 121h1.2v1.2h-1.2zM139 121h2.2v1.2h-2.2zM155 121h1.2v1.2h-1.2zM160 121h1.2v1.2h-1.2zM242 121h5.2v1.2h-5.2zM248 121h1.2v1.2h-1.2zM250 121h3.2v1.2h-3.2zM254 121h2.2v1.2h-2.2zM257 121h1.2v1.2h-1.2zM260 121h2.2v1.2h-2.2zM266 121h2.2v1.2h-2.2zM271 121h1.2v1.2h-1.2zM274 121h1.2v1.2h-1.2zM276 121h1.2v1.2h-1.2zM279 121h2.2v1.2h-2.2zM282 121h2.2v1.2h-2.2zM285 121h1.2v1.2h-1.2zM287 121h1.2v1.2h-1.2zM289 121h6.2v1.2h-6.2zM296 121h1.2v1.2h-1.2zM299 121h5.2v1.2h-5.2zM306 121h1.2v1.2h-1.2zM308 121h1.2v1.2h-1.2zM310 121h1.2v1.2h-1.2zM413 121h1.2v1.2h-1.2zM415 121h1.2v1.2h-1.2zM417 121h5.2v1.2h-5.2zM423 121h3.2v1.2h-3.2zM428 121h1.2v1.2h-1.2zM430 121h1.2v1.2h-1.2zM433 121h1.2v1.2h-1.2zM436 121h2.2v1.2h-2.2zM439 121h1.2v1.2h-1.2zM443 121h2.2v1.2h-2.2zM448 121h2.2v1.2h-2.2zM451 121h1.2v1.2h-1.2zM454 121h1.2v1.2h-1.2zM456 121h13.2v1.2h-13.2zM470 121h5.2v1.2h-5.2zM476 121h1.2v1.2h-1.2zM478 121h3.2v1.2h-3.2zM483 121h1.2v1.2h-1.2zM492 121h1.2v1.2h-1.2zM496 121h1.2v1.2h-1.2zM499 121h1.2v1.2h-1.2zM503 121h1.2v1.2h-1.2zM509 121h1.2v1.2h-1.2zM71 122h4.2v1.2h-4.2zM77 122h6.2v1.2h-6.2zM84 122h2.2v1.2h-2.2zM87 122h1.2v1.2h-1.2zM94 122h2.2v1.2h-2.2zM97 122h2.2v1.2h-2.2zM100 122h1.2v1.2h-1.2zM104 122h2.2v1.2h-2.2zM107 122h3.2v1.2h-3.2zM113 122h2.2v1.2h-2.2zM120 122h1.2v1.2h-1.2zM122 122h2.2v1.2h-2.2zM125 122h2.2v1.2h-2.2zM129 122h1.2v1.2h-1.2zM133 122h1.2v1.2h-1.2zM135 122h2.2v1.2h-2.2zM139 122h1.2v1.2h-1.2zM156 122h1.2v1.2h-1.2zM243 122h1.2v1.2h-1.2zM247 122h2.2v1.2h-2.2zM250 122h4.2v1.2h-4.2zM256 122h2.2v1.2h-2.2zM260 122h3.2v1.2h-3.2zM265 122h1.2v1.2h-1.2zM269 122h2.2v1.2h-2.2zM275 122h1.2v1.2h-1.2zM277 122h2.2v1.2h-2.2zM282 122h1.2v1.2h-1.2zM287 122h3.2v1.2h-3.2zM292 122h1.2v1.2h-1.2zM295 122h1.2v1.2h-1.2zM297 122h3.2v1.2h-3.2zM301 122h2.2v1.2h-2.2zM304 122h1.2v1.2h-1.2zM316 122h1.2v1.2h-1.2zM320 122h1.2v1.2h-1.2zM412 122h3.2v1.2h-3.2zM417 122h4.2v1.2h-4.2zM422 122h1.2v1.2h-1.2zM425 122h2.2v1.2h-2.2zM428 122h1.2v1.2h-1.2zM430 122h2.2v1.2h-2.2zM434 122h2.2v1.2h-2.2zM440 122h1.2v1.2h-1.2zM445 122h2.2v1.2h-2.2zM448 122h1.2v1.2h-1.2zM450 122h1.2v1.2h-1.2zM452 122h1.2v1.2h-1.2zM454 122h2.2v1.2h-2.2zM457 122h5.2v1.2h-5.2zM463 122h3.2v1.2h-3.2zM467 122h7.2v1.2h-7.2zM475 122h2.2v1.2h-2.2zM478 122h1.2v1.2h-1.2zM480 122h3.2v1.2h-3.2zM484 122h1.2v1.2h-1.2zM486 122h4.2v1.2h-4.2zM501 122h1.2v1.2h-1.2zM72 123h2.2v1.2h-2.2zM76 123h4.2v1.2h-4.2zM82 123h2.2v1.2h-2.2zM85 123h1.2v1.2h-1.2zM88 123h2.2v1.2h-2.2zM92 123h1.2v1.2h-1.2zM102 123h1.2v1.2h-1.2zM107 123h2.2v1.2h-2.2zM110 123h1.2v1.2h-1.2zM114 123h1.2v1.2h-1.2zM117 123h7.2v1.2h-7.2zM128 123h1.2v1.2h-1.2zM158 123h1.2v1.2h-1.2zM244 123h2.2v1.2h-2.2zM247 123h3.2v1.2h-3.2zM252 123h2.2v1.2h-2.2zM255 123h3.2v1.2h-3.2zM259 123h1.2v1.2h-1.2zM264 123h3.2v1.2h-3.2zM281 123h1.2v1.2h-1.2zM284 123h1.2v1.2h-1.2zM286 123h7.2v1.2h-7.2zM294 123h2.2v1.2h-2.2zM299 123h1.2v1.2h-1.2zM301 123h1.2v1.2h-1.2zM305 123h1.2v1.2h-1.2zM309 123h1.2v1.2h-1.2zM320 123h1.2v1.2h-1.2zM412 123h3.2v1.2h-3.2zM417 123h1.2v1.2h-1.2zM419 123h12.2v1.2h-12.2zM433 123h2.2v1.2h-2.2zM443 123h1.2v1.2h-1.2zM445 123h1.2v1.2h-1.2zM448 123h1.2v1.2h-1.2zM450 123h1.2v1.2h-1.2zM452 123h1.2v1.2h-1.2zM455 123h1.2v1.2h-1.2zM458 123h1.2v1.2h-1.2zM461 123h8.2v1.2h-8.2zM470 123h3.2v1.2h-3.2zM475 123h3.2v1.2h-3.2zM479 123h1.2v1.2h-1.2zM484 123h1.2v1.2h-1.2zM486 123h2.2v1.2h-2.2zM489 123h1.2v1.2h-1.2zM505 123h1.2v1.2h-1.2zM71 124h4.2v1.2h-4.2zM76 124h6.2v1.2h-6.2zM84 124h2.2v1.2h-2.2zM87 124h1.2v1.2h-1.2zM90 124h1.2v1.2h-1.2zM94 124h2.2v1.2h-2.2zM98 124h2.2v1.2h-2.2zM107 124h2.2v1.2h-2.2zM110 124h1.2v1.2h-1.2zM114 124h2.2v1.2h-2.2zM117 124h6.2v1.2h-6.2zM124 124h2.2v1.2h-2.2zM128 124h1.2v1.2h-1.2zM134 124h4.2v1.2h-4.2zM146 124h1.2v1.2h-1.2zM156 124h1.2v1.2h-1.2zM161 124h1.2v1.2h-1.2zM243 124h3.2v1.2h-3.2zM248 124h2.2v1.2h-2.2zM252 124h1.2v1.2h-1.2zM254 124h2.2v1.2h-2.2zM257 124h4.2v1.2h-4.2zM262 124h1.2v1.2h-1.2zM270 124h1.2v1.2h-1.2zM272 124h1.2v1.2h-1.2zM275 124h1.2v1.2h-1.2zM277 124h2.2v1.2h-2.2zM280 124h1.2v1.2h-1.2zM282 124h3.2v1.2h-3.2zM286 124h3.2v1.2h-3.2zM293 124h1.2v1.2h-1.2zM296 124h2.2v1.2h-2.2zM300 124h1.2v1.2h-1.2zM319 124h1.2v1.2h-1.2zM412 124h1.2v1.2h-1.2zM415 124h4.2v1.2h-4.2zM422 124h3.2v1.2h-3.2zM426 124h1.2v1.2h-1.2zM428 124h1.2v1.2h-1.2zM432 124h2.2v1.2h-2.2zM436 124h1.2v1.2h-1.2zM438 124h1.2v1.2h-1.2zM442 124h1.2v1.2h-1.2zM451 124h5.2v1.2h-5.2zM458 124h1.2v1.2h-1.2zM461 124h1.2v1.2h-1.2zM466 124h2.2v1.2h-2.2zM469 124h2.2v1.2h-2.2zM472 124h1.2v1.2h-1.2zM474 124h1.2v1.2h-1.2zM480 124h2.2v1.2h-2.2zM483 124h1.2v1.2h-1.2zM503 124h2.2v1.2h-2.2zM510 124h1.2v1.2h-1.2zM70 125h1.2v1.2h-1.2zM72 125h10.2v1.2h-10.2zM83 125h4.2v1.2h-4.2zM88 125h2.2v1.2h-2.2zM93 125h2.2v1.2h-2.2zM96 125h1.2v1.2h-1.2zM105 125h1.2v1.2h-1.2zM108 125h1.2v1.2h-1.2zM113 125h1.2v1.2h-1.2zM115 125h3.2v1.2h-3.2zM119 125h1.2v1.2h-1.2zM122 125h1.2v1.2h-1.2zM124 125h2.2v1.2h-2.2zM129 125h2.2v1.2h-2.2zM242 125h1.2v1.2h-1.2zM246 125h1.2v1.2h-1.2zM248 125h2.2v1.2h-2.2zM251 125h1.2v1.2h-1.2zM253 125h1.2v1.2h-1.2zM256 125h2.2v1.2h-2.2zM260 125h1.2v1.2h-1.2zM266 125h2.2v1.2h-2.2zM277 125h3.2v1.2h-3.2zM282 125h1.2v1.2h-1.2zM286 125h2.2v1.2h-2.2zM293 125h1.2v1.2h-1.2zM296 125h1.2v1.2h-1.2zM301 125h2.2v1.2h-2.2zM412 125h2.2v1.2h-2.2zM415 125h2.2v1.2h-2.2zM420 125h1.2v1.2h-1.2zM422 125h1.2v1.2h-1.2zM426 125h4.2v1.2h-4.2zM431 125h1.2v1.2h-1.2zM434 125h1.2v1.2h-1.2zM437 125h1.2v1.2h-1.2zM447 125h2.2v1.2h-2.2zM451 125h1.2v1.2h-1.2zM453 125h1.2v1.2h-1.2zM457 125h3.2v1.2h-3.2zM461 125h5.2v1.2h-5.2zM468 125h2.2v1.2h-2.2zM472 125h1.2v1.2h-1.2zM474 125h1.2v1.2h-1.2zM481 125h1.2v1.2h-1.2zM483 125h1.2v1.2h-1.2zM488 125h1.2v1.2h-1.2zM493 125h1.2v1.2h-1.2zM497 125h1.2v1.2h-1.2zM510 125h1.2v1.2h-1.2zM73 126h1.2v1.2h-1.2zM75 126h7.2v1.2h-7.2zM83 126h1.2v1.2h-1.2zM96 126h2.2v1.2h-2.2zM101 126h1.2v1.2h-1.2zM103 126h1.2v1.2h-1.2zM105 126h1.2v1.2h-1.2zM111 126h1.2v1.2h-1.2zM116 126h1.2v1.2h-1.2zM118 126h2.2v1.2h-2.2zM125 126h3.2v1.2h-3.2zM130 126h1.2v1.2h-1.2zM133 126h1.2v1.2h-1.2zM242 126h3.2v1.2h-3.2zM246 126h5.2v1.2h-5.2zM253 126h2.2v1.2h-2.2zM256 126h1.2v1.2h-1.2zM258 126h2.2v1.2h-2.2zM261 126h1.2v1.2h-1.2zM267 126h2.2v1.2h-2.2zM275 126h1.2v1.2h-1.2zM280 126h1.2v1.2h-1.2zM283 126h1.2v1.2h-1.2zM285 126h1.2v1.2h-1.2zM291 126h1.2v1.2h-1.2zM294 126h1.2v1.2h-1.2zM313 126h1.2v1.2h-1.2zM417 126h1.2v1.2h-1.2zM419 126h4.2v1.2h-4.2zM427 126h3.2v1.2h-3.2zM441 126h1.2v1.2h-1.2zM449 126h2.2v1.2h-2.2zM453 126h1.2v1.2h-1.2zM457 126h2.2v1.2h-2.2zM460 126h2.2v1.2h-2.2zM468 126h1.2v1.2h-1.2zM470 126h3.2v1.2h-3.2zM475 126h2.2v1.2h-2.2zM483 126h1.2v1.2h-1.2zM486 126h1.2v1.2h-1.2zM493 126h1.2v1.2h-1.2zM503 126h1.2v1.2h-1.2zM507 126h1.2v1.2h-1.2zM71 127h2.2v1.2h-2.2zM75 127h2.2v1.2h-2.2zM78 127h3.2v1.2h-3.2zM83 127h1.2v1.2h-1.2zM85 127h2.2v1.2h-2.2zM93 127h1.2v1.2h-1.2zM103 127h1.2v1.2h-1.2zM106 127h4.2v1.2h-4.2zM113 127h1.2v1.2h-1.2zM115 127h2.2v1.2h-2.2zM121 127h1.2v1.2h-1.2zM127 127h1.2v1.2h-1.2zM129 127h1.2v1.2h-1.2zM242 127h1.2v1.2h-1.2zM244 127h1.2v1.2h-1.2zM247 127h5.2v1.2h-5.2zM253 127h1.2v1.2h-1.2zM257 127h1.2v1.2h-1.2zM260 127h2.2v1.2h-2.2zM265 127h1.2v1.2h-1.2zM268 127h1.2v1.2h-1.2zM272 127h1.2v1.2h-1.2zM276 127h1.2v1.2h-1.2zM278 127h1.2v1.2h-1.2zM283 127h1.2v1.2h-1.2zM286 127h1.2v1.2h-1.2zM292 127h1.2v1.2h-1.2zM295 127h1.2v1.2h-1.2zM297 127h1.2v1.2h-1.2zM301 127h1.2v1.2h-1.2zM320 127h1.2v1.2h-1.2zM323 127h1.2v1.2h-1.2zM412 127h2.2v1.2h-2.2zM415 127h2.2v1.2h-2.2zM419 127h4.2v1.2h-4.2zM433 127h1.2v1.2h-1.2zM439 127h1.2v1.2h-1.2zM447 127h1.2v1.2h-1.2zM449 127h1.2v1.2h-1.2zM452 127h2.2v1.2h-2.2zM456 127h1.2v1.2h-1.2zM460 127h3.2v1.2h-3.2zM464 127h3.2v1.2h-3.2zM468 127h3.2v1.2h-3.2zM473 127h2.2v1.2h-2.2zM476 127h3.2v1.2h-3.2zM70 128h2.2v1.2h-2.2zM74 128h2.2v1.2h-2.2zM77 128h2.2v1.2h-2.2zM80 128h2.2v1.2h-2.2zM83 128h2.2v1.2h-2.2zM86 128h1.2v1.2h-1.2zM99 128h2.2v1.2h-2.2zM106 128h1.2v1.2h-1.2zM110 128h1.2v1.2h-1.2zM115 128h3.2v1.2h-3.2zM120 128h1.2v1.2h-1.2zM133 128h1.2v1.2h-1.2zM135 128h1.2v1.2h-1.2zM137 128h1.2v1.2h-1.2zM243 128h2.2v1.2h-2.2zM246 128h1.2v1.2h-1.2zM248 128h3.2v1.2h-3.2zM253 128h1.2v1.2h-1.2zM257 128h1.2v1.2h-1.2zM263 128h1.2v1.2h-1.2zM273 128h1.2v1.2h-1.2zM278 128h1.2v1.2h-1.2zM284 128h1.2v1.2h-1.2zM288 128h1.2v1.2h-1.2zM292 128h3.2v1.2h-3.2zM309 128h1.2v1.2h-1.2zM414 128h1.2v1.2h-1.2zM416 128h3.2v1.2h-3.2zM421 128h2.2v1.2h-2.2zM431 128h1.2v1.2h-1.2zM433 128h1.2v1.2h-1.2zM436 128h1.2v1.2h-1.2zM446 128h1.2v1.2h-1.2zM452 128h2.2v1.2h-2.2zM466 128h1.2v1.2h-1.2zM468 128h1.2v1.2h-1.2zM470 128h1.2v1.2h-1.2zM472 128h3.2v1.2h-3.2zM481 128h1.2v1.2h-1.2zM483 128h1.2v1.2h-1.2zM487 128h1.2v1.2h-1.2zM510 128h1.2v1.2h-1.2zM69 129h2.2v1.2h-2.2zM72 129h4.2v1.2h-4.2zM77 129h4.2v1.2h-4.2zM82 129h1.2v1.2h-1.2zM86 129h1.2v1.2h-1.2zM94 129h2.2v1.2h-2.2zM110 129h2.2v1.2h-2.2zM121 129h1.2v1.2h-1.2zM124 129h1.2v1.2h-1.2zM246 129h1.2v1.2h-1.2zM248 129h1.2v1.2h-1.2zM250 129h3.2v1.2h-3.2zM255 129h2.2v1.2h-2.2zM258 129h1.2v1.2h-1.2zM260 129h1.2v1.2h-1.2zM269 129h1.2v1.2h-1.2zM271 129h2.2v1.2h-2.2zM293 129h1.2v1.2h-1.2zM298 129h1.2v1.2h-1.2zM308 129h1.2v1.2h-1.2zM310 129h1.2v1.2h-1.2zM412 129h2.2v1.2h-2.2zM415 129h2.2v1.2h-2.2zM419 129h4.2v1.2h-4.2zM426 129h3.2v1.2h-3.2zM444 129h1.2v1.2h-1.2zM452 129h1.2v1.2h-1.2zM457 129h2.2v1.2h-2.2zM461 129h3.2v1.2h-3.2zM466 129h2.2v1.2h-2.2zM469 129h2.2v1.2h-2.2zM472 129h1.2v1.2h-1.2zM482 129h1.2v1.2h-1.2zM484 129h1.2v1.2h-1.2zM502 129h1.2v1.2h-1.2zM69 130h4.2v1.2h-4.2zM74 130h3.2v1.2h-3.2zM90 130h1.2v1.2h-1.2zM93 130h1.2v1.2h-1.2zM117 130h1.2v1.2h-1.2zM244 130h3.2v1.2h-3.2zM248 130h1.2v1.2h-1.2zM250 130h3.2v1.2h-3.2zM254 130h2.2v1.2h-2.2zM269 130h1.2v1.2h-1.2zM278 130h1.2v1.2h-1.2zM282 130h1.2v1.2h-1.2zM291 130h1.2v1.2h-1.2zM294 130h2.2v1.2h-2.2zM303 130h1.2v1.2h-1.2zM323 130h1.2v1.2h-1.2zM413 130h2.2v1.2h-2.2zM416 130h1.2v1.2h-1.2zM418 130h3.2v1.2h-3.2zM423 130h2.2v1.2h-2.2zM426 130h1.2v1.2h-1.2zM429 130h1.2v1.2h-1.2zM444 130h1.2v1.2h-1.2zM446 130h1.2v1.2h-1.2zM459 130h1.2v1.2h-1.2zM461 130h1.2v1.2h-1.2zM463 130h9.2v1.2h-9.2zM473 130h2.2v1.2h-2.2zM477 130h1.2v1.2h-1.2zM496 130h1.2v1.2h-1.2zM71 131h3.2v1.2h-3.2zM75 131h1.2v1.2h-1.2zM81 131h1.2v1.2h-1.2zM86 131h1.2v1.2h-1.2zM91 131h1.2v1.2h-1.2zM97 131h1.2v1.2h-1.2zM104 131h2.2v1.2h-2.2zM116 131h1.2v1.2h-1.2zM124 131h1.2v1.2h-1.2zM149 131h1.2v1.2h-1.2zM242 131h1.2v1.2h-1.2zM244 131h3.2v1.2h-3.2zM248 131h1.2v1.2h-1.2zM250 131h1.2v1.2h-1.2zM252 131h6.2v1.2h-6.2zM265 131h1.2v1.2h-1.2zM275 131h1.2v1.2h-1.2zM277 131h1.2v1.2h-1.2zM298 131h1.2v1.2h-1.2zM313 131h1.2v1.2h-1.2zM413 131h1.2v1.2h-1.2zM416 131h4.2v1.2h-4.2zM421 131h2.2v1.2h-2.2zM426 131h1.2v1.2h-1.2zM428 131h1.2v1.2h-1.2zM439 131h2.2v1.2h-2.2zM452 131h2.2v1.2h-2.2zM456 131h1.2v1.2h-1.2zM459 131h1.2v1.2h-1.2zM462 131h2.2v1.2h-2.2zM466 131h1.2v1.2h-1.2zM494 131h1.2v1.2h-1.2zM71 132h1.2v1.2h-1.2zM73 132h1.2v1.2h-1.2zM76 132h1.2v1.2h-1.2zM78 132h1.2v1.2h-1.2zM80 132h2.2v1.2h-2.2zM83 132h1.2v1.2h-1.2zM88 132h1.2v1.2h-1.2zM96 132h2.2v1.2h-2.2zM109 132h1.2v1.2h-1.2zM112 132h2.2v1.2h-2.2zM115 132h1.2v1.2h-1.2zM242 132h5.2v1.2h-5.2zM248 132h1.2v1.2h-1.2zM250 132h1.2v1.2h-1.2zM252 132h6.2v1.2h-6.2zM298 132h1.2v1.2h-1.2zM327 132h1.2v1.2h-1.2zM413 132h2.2v1.2h-2.2zM417 132h6.2v1.2h-6.2zM427 132h1.2v1.2h-1.2zM432 132h1.2v1.2h-1.2zM436 132h2.2v1.2h-2.2zM452 132h1.2v1.2h-1.2zM460 132h5.2v1.2h-5.2zM469 132h1.2v1.2h-1.2zM474 132h1.2v1.2h-1.2zM502 132h1.2v1.2h-1.2zM73 133h1.2v1.2h-1.2zM75 133h3.2v1.2h-3.2zM81 133h2.2v1.2h-2.2zM86 133h1.2v1.2h-1.2zM107 133h2.2v1.2h-2.2zM112 133h1.2v1.2h-1.2zM116 133h1.2v1.2h-1.2zM118 133h1.2v1.2h-1.2zM243 133h2.2v1.2h-2.2zM246 133h5.2v1.2h-5.2zM253 133h3.2v1.2h-3.2zM259 133h1.2v1.2h-1.2zM263 133h1.2v1.2h-1.2zM267 133h1.2v1.2h-1.2zM270 133h1.2v1.2h-1.2zM272 133h1.2v1.2h-1.2zM294 133h1.2v1.2h-1.2zM412 133h1.2v1.2h-1.2zM416 133h6.2v1.2h-6.2zM430 133h2.2v1.2h-2.2zM439 133h2.2v1.2h-2.2zM444 133h1.2v1.2h-1.2zM451 133h2.2v1.2h-2.2zM456 133h2.2v1.2h-2.2zM460 133h1.2v1.2h-1.2zM464 133h3.2v1.2h-3.2zM468 133h1.2v1.2h-1.2zM470 133h1.2v1.2h-1.2zM474 133h1.2v1.2h-1.2zM476 133h2.2v1.2h-2.2zM481 133h2.2v1.2h-2.2zM495 133h1.2v1.2h-1.2zM69 134h1.2v1.2h-1.2zM71 134h1.2v1.2h-1.2zM73 134h6.2v1.2h-6.2zM80 134h1.2v1.2h-1.2zM83 134h2.2v1.2h-2.2zM110 134h1.2v1.2h-1.2zM142 134h1.2v1.2h-1.2zM144 134h1.2v1.2h-1.2zM148 134h1.2v1.2h-1.2zM157 134h1.2v1.2h-1.2zM243 134h1.2v1.2h-1.2zM245 134h1.2v1.2h-1.2zM249 134h1.2v1.2h-1.2zM253 134h1.2v1.2h-1.2zM255 134h1.2v1.2h-1.2zM257 134h1.2v1.2h-1.2zM259 134h2.2v1.2h-2.2zM267 134h1.2v1.2h-1.2zM271 134h1.2v1.2h-1.2zM273 134h1.2v1.2h-1.2zM278 134h1.2v1.2h-1.2zM282 134h1.2v1.2h-1.2zM287 134h1.2v1.2h-1.2zM324 134h1.2v1.2h-1.2zM412 134h1.2v1.2h-1.2zM414 134h11.2v1.2h-11.2zM426 134h3.2v1.2h-3.2zM446 134h1.2v1.2h-1.2zM452 134h1.2v1.2h-1.2zM457 134h1.2v1.2h-1.2zM459 134h1.2v1.2h-1.2zM463 134h1.2v1.2h-1.2zM465 134h1.2v1.2h-1.2zM468 134h1.2v1.2h-1.2zM472 134h2.2v1.2h-2.2zM479 134h1.2v1.2h-1.2zM484 134h1.2v1.2h-1.2zM69 135h1.2v1.2h-1.2zM71 135h4.2v1.2h-4.2zM76 135h1.2v1.2h-1.2zM79 135h4.2v1.2h-4.2zM84 135h1.2v1.2h-1.2zM100 135h2.2v1.2h-2.2zM109 135h1.2v1.2h-1.2zM242 135h1.2v1.2h-1.2zM244 135h5.2v1.2h-5.2zM251 135h1.2v1.2h-1.2zM255 135h3.2v1.2h-3.2zM259 135h1.2v1.2h-1.2zM266 135h1.2v1.2h-1.2zM271 135h1.2v1.2h-1.2zM284 135h1.2v1.2h-1.2zM287 135h1.2v1.2h-1.2zM290 135h1.2v1.2h-1.2zM293 135h1.2v1.2h-1.2zM324 135h1.2v1.2h-1.2zM412 135h7.2v1.2h-7.2zM420 135h1.2v1.2h-1.2zM424 135h2.2v1.2h-2.2zM427 135h1.2v1.2h-1.2zM434 135h1.2v1.2h-1.2zM441 135h1.2v1.2h-1.2zM443 135h1.2v1.2h-1.2zM448 135h1.2v1.2h-1.2zM459 135h2.2v1.2h-2.2zM466 135h2.2v1.2h-2.2zM499 135h1.2v1.2h-1.2zM505 135h1.2v1.2h-1.2zM71 136h1.2v1.2h-1.2zM74 136h1.2v1.2h-1.2zM76 136h1.2v1.2h-1.2zM79 136h3.2v1.2h-3.2zM85 136h1.2v1.2h-1.2zM97 136h1.2v1.2h-1.2zM143 136h1.2v1.2h-1.2zM245 136h2.2v1.2h-2.2zM248 136h2.2v1.2h-2.2zM252 136h4.2v1.2h-4.2zM259 136h1.2v1.2h-1.2zM270 136h1.2v1.2h-1.2zM273 136h1.2v1.2h-1.2zM276 136h1.2v1.2h-1.2zM278 136h2.2v1.2h-2.2zM284 136h1.2v1.2h-1.2zM315 136h1.2v1.2h-1.2zM417 136h3.2v1.2h-3.2zM421 136h2.2v1.2h-2.2zM424 136h1.2v1.2h-1.2zM433 136h1.2v1.2h-1.2zM447 136h1.2v1.2h-1.2zM462 136h1.2v1.2h-1.2zM464 136h1.2v1.2h-1.2zM69 137h1.2v1.2h-1.2zM72 137h3.2v1.2h-3.2zM78 137h3.2v1.2h-3.2zM82 137h3.2v1.2h-3.2zM87 137h1.2v1.2h-1.2zM90 137h1.2v1.2h-1.2zM108 137h2.2v1.2h-2.2zM143 137h1.2v1.2h-1.2zM242 137h6.2v1.2h-6.2zM251 137h3.2v1.2h-3.2zM259 137h1.2v1.2h-1.2zM264 137h1.2v1.2h-1.2zM266 137h1.2v1.2h-1.2zM270 137h1.2v1.2h-1.2zM276 137h2.2v1.2h-2.2zM288 137h1.2v1.2h-1.2zM299 137h1.2v1.2h-1.2zM301 137h1.2v1.2h-1.2zM412 137h1.2v1.2h-1.2zM414 137h1.2v1.2h-1.2zM418 137h3.2v1.2h-3.2zM423 137h1.2v1.2h-1.2zM425 137h1.2v1.2h-1.2zM434 137h1.2v1.2h-1.2zM439 137h1.2v1.2h-1.2zM441 137h1.2v1.2h-1.2zM446 137h1.2v1.2h-1.2zM455 137h1.2v1.2h-1.2zM467 137h1.2v1.2h-1.2zM469 137h1.2v1.2h-1.2zM490 137h1.2v1.2h-1.2zM495 137h1.2v1.2h-1.2zM69 138h2.2v1.2h-2.2zM72 138h1.2v1.2h-1.2zM74 138h5.2v1.2h-5.2zM80 138h1.2v1.2h-1.2zM84 138h1.2v1.2h-1.2zM90 138h1.2v1.2h-1.2zM104 138h1.2v1.2h-1.2zM108 138h1.2v1.2h-1.2zM110 138h1.2v1.2h-1.2zM126 138h1.2v1.2h-1.2zM242 138h1.2v1.2h-1.2zM245 138h3.2v1.2h-3.2zM249 138h5.2v1.2h-5.2zM255 138h1.2v1.2h-1.2zM258 138h1.2v1.2h-1.2zM261 138h2.2v1.2h-2.2zM281 138h1.2v1.2h-1.2zM292 138h1.2v1.2h-1.2zM330 138h1.2v1.2h-1.2zM413 138h2.2v1.2h-2.2zM416 138h8.2v1.2h-8.2zM426 138h1.2v1.2h-1.2zM436 138h1.2v1.2h-1.2zM439 138h1.2v1.2h-1.2zM449 138h1.2v1.2h-1.2zM452 138h1.2v1.2h-1.2zM466 138h2.2v1.2h-2.2zM70 139h1.2v1.2h-1.2zM72 139h3.2v1.2h-3.2zM77 139h1.2v1.2h-1.2zM79 139h2.2v1.2h-2.2zM82 139h1.2v1.2h-1.2zM106 139h2.2v1.2h-2.2zM109 139h1.2v1.2h-1.2zM115 139h1.2v1.2h-1.2zM138 139h1.2v1.2h-1.2zM154 139h1.2v1.2h-1.2zM246 139h5.2v1.2h-5.2zM252 139h5.2v1.2h-5.2zM270 139h1.2v1.2h-1.2zM274 139h1.2v1.2h-1.2zM286 139h1.2v1.2h-1.2zM414 139h4.2v1.2h-4.2zM419 139h1.2v1.2h-1.2zM422 139h2.2v1.2h-2.2zM426 139h1.2v1.2h-1.2zM430 139h2.2v1.2h-2.2zM444 139h1.2v1.2h-1.2zM456 139h1.2v1.2h-1.2zM462 139h2.2v1.2h-2.2zM476 139h1.2v1.2h-1.2zM478 139h1.2v1.2h-1.2zM70 140h2.2v1.2h-2.2zM73 140h2.2v1.2h-2.2zM76 140h2.2v1.2h-2.2zM80 140h2.2v1.2h-2.2zM87 140h1.2v1.2h-1.2zM102 140h1.2v1.2h-1.2zM107 140h1.2v1.2h-1.2zM114 140h1.2v1.2h-1.2zM123 140h1.2v1.2h-1.2zM139 140h1.2v1.2h-1.2zM150 140h1.2v1.2h-1.2zM243 140h1.2v1.2h-1.2zM247 140h1.2v1.2h-1.2zM249 140h1.2v1.2h-1.2zM251 140h1.2v1.2h-1.2zM253 140h4.2v1.2h-4.2zM259 140h3.2v1.2h-3.2zM267 140h1.2v1.2h-1.2zM270 140h1.2v1.2h-1.2zM272 140h1.2v1.2h-1.2zM279 140h1.2v1.2h-1.2zM292 140h2.2v1.2h-2.2zM307 140h1.2v1.2h-1.2zM320 140h1.2v1.2h-1.2zM412 140h1.2v1.2h-1.2zM414 140h1.2v1.2h-1.2zM416 140h1.2v1.2h-1.2zM418 140h1.2v1.2h-1.2zM423 140h2.2v1.2h-2.2zM426 140h1.2v1.2h-1.2zM428 140h1.2v1.2h-1.2zM433 140h1.2v1.2h-1.2zM446 140h1.2v1.2h-1.2zM462 140h1.2v1.2h-1.2zM471 140h1.2v1.2h-1.2zM475 140h2.2v1.2h-2.2zM478 140h1.2v1.2h-1.2zM493 140h1.2v1.2h-1.2zM70 141h1.2v1.2h-1.2zM72 141h1.2v1.2h-1.2zM75 141h2.2v1.2h-2.2zM78 141h3.2v1.2h-3.2zM82 141h1.2v1.2h-1.2zM119 141h1.2v1.2h-1.2zM131 141h1.2v1.2h-1.2zM150 141h1.2v1.2h-1.2zM242 141h1.2v1.2h-1.2zM244 141h1.2v1.2h-1.2zM246 141h2.2v1.2h-2.2zM250 141h4.2v1.2h-4.2zM262 141h1.2v1.2h-1.2zM264 141h1.2v1.2h-1.2zM270 141h1.2v1.2h-1.2zM273 141h1.2v1.2h-1.2zM280 141h1.2v1.2h-1.2zM282 141h1.2v1.2h-1.2zM287 141h1.2v1.2h-1.2zM290 141h1.2v1.2h-1.2zM292 141h1.2v1.2h-1.2zM294 141h1.2v1.2h-1.2zM300 141h1.2v1.2h-1.2zM302 141h1.2v1.2h-1.2zM321 141h1.2v1.2h-1.2zM415 141h2.2v1.2h-2.2zM418 141h4.2v1.2h-4.2zM424 141h1.2v1.2h-1.2zM426 141h1.2v1.2h-1.2zM433 141h1.2v1.2h-1.2zM437 141h1.2v1.2h-1.2zM439 141h1.2v1.2h-1.2zM441 141h1.2v1.2h-1.2zM445 141h1.2v1.2h-1.2zM456 141h2.2v1.2h-2.2zM463 141h1.2v1.2h-1.2zM466 141h1.2v1.2h-1.2zM477 141h1.2v1.2h-1.2zM69 142h3.2v1.2h-3.2zM73 142h1.2v1.2h-1.2zM76 142h2.2v1.2h-2.2zM79 142h1.2v1.2h-1.2zM81 142h1.2v1.2h-1.2zM86 142h1.2v1.2h-1.2zM88 142h1.2v1.2h-1.2zM110 142h1.2v1.2h-1.2zM113 142h1.2v1.2h-1.2zM116 142h1.2v1.2h-1.2zM130 142h1.2v1.2h-1.2zM149 142h1.2v1.2h-1.2zM158 142h2.2v1.2h-2.2zM242 142h1.2v1.2h-1.2zM244 142h2.2v1.2h-2.2zM247 142h1.2v1.2h-1.2zM249 142h4.2v1.2h-4.2zM254 142h2.2v1.2h-2.2zM261 142h2.2v1.2h-2.2zM287 142h1.2v1.2h-1.2zM312 142h1.2v1.2h-1.2zM413 142h1.2v1.2h-1.2zM415 142h7.2v1.2h-7.2zM423 142h1.2v1.2h-1.2zM439 142h1.2v1.2h-1.2zM442 142h1.2v1.2h-1.2zM453 142h2.2v1.2h-2.2zM483 142h1.2v1.2h-1.2zM485 142h1.2v1.2h-1.2zM505 142h1.2v1.2h-1.2zM69 143h3.2v1.2h-3.2zM73 143h2.2v1.2h-2.2zM76 143h1.2v1.2h-1.2zM78 143h1.2v1.2h-1.2zM81 143h3.2v1.2h-3.2zM86 143h1.2v1.2h-1.2zM89 143h2.2v1.2h-2.2zM118 143h1.2v1.2h-1.2zM149 143h3.2v1.2h-3.2zM242 143h2.2v1.2h-2.2zM246 143h4.2v1.2h-4.2zM251 143h1.2v1.2h-1.2zM253 143h1.2v1.2h-1.2zM270 143h1.2v1.2h-1.2zM273 143h1.2v1.2h-1.2zM276 143h1.2v1.2h-1.2zM279 143h2.2v1.2h-2.2zM282 143h1.2v1.2h-1.2zM284 143h1.2v1.2h-1.2zM286 143h2.2v1.2h-2.2zM292 143h3.2v1.2h-3.2zM298 143h1.2v1.2h-1.2zM413 143h2.2v1.2h-2.2zM416 143h3.2v1.2h-3.2zM421 143h2.2v1.2h-2.2zM430 143h3.2v1.2h-3.2zM434 143h2.2v1.2h-2.2zM437 143h1.2v1.2h-1.2zM442 143h1.2v1.2h-1.2zM446 143h1.2v1.2h-1.2zM460 143h1.2v1.2h-1.2zM473 143h1.2v1.2h-1.2zM488 143h1.2v1.2h-1.2zM71 144h1.2v1.2h-1.2zM73 144h4.2v1.2h-4.2zM78 144h2.2v1.2h-2.2zM81 144h1.2v1.2h-1.2zM88 144h1.2v1.2h-1.2zM100 144h1.2v1.2h-1.2zM110 144h1.2v1.2h-1.2zM112 144h1.2v1.2h-1.2zM121 144h1.2v1.2h-1.2zM123 144h1.2v1.2h-1.2zM132 144h1.2v1.2h-1.2zM161 144h1.2v1.2h-1.2zM245 144h1.2v1.2h-1.2zM248 144h1.2v1.2h-1.2zM253 144h3.2v1.2h-3.2zM262 144h1.2v1.2h-1.2zM264 144h2.2v1.2h-2.2zM267 144h1.2v1.2h-1.2zM269 144h3.2v1.2h-3.2zM279 144h1.2v1.2h-1.2zM290 144h1.2v1.2h-1.2zM299 144h1.2v1.2h-1.2zM303 144h1.2v1.2h-1.2zM414 144h2.2v1.2h-2.2zM418 144h1.2v1.2h-1.2zM421 144h3.2v1.2h-3.2zM425 144h1.2v1.2h-1.2zM427 144h1.2v1.2h-1.2zM452 144h2.2v1.2h-2.2zM461 144h1.2v1.2h-1.2zM464 144h1.2v1.2h-1.2zM467 144h1.2v1.2h-1.2zM470 144h1.2v1.2h-1.2zM473 144h1.2v1.2h-1.2zM488 144h1.2v1.2h-1.2zM509 144h1.2v1.2h-1.2zM70 145h2.2v1.2h-2.2zM73 145h1.2v1.2h-1.2zM75 145h2.2v1.2h-2.2zM78 145h2.2v1.2h-2.2zM83 145h1.2v1.2h-1.2zM85 145h2.2v1.2h-2.2zM96 145h1.2v1.2h-1.2zM98 145h1.2v1.2h-1.2zM107 145h2.2v1.2h-2.2zM110 145h1.2v1.2h-1.2zM129 145h1.2v1.2h-1.2zM137 145h1.2v1.2h-1.2zM151 145h1.2v1.2h-1.2zM158 145h2.2v1.2h-2.2zM243 145h1.2v1.2h-1.2zM245 145h5.2v1.2h-5.2zM251 145h4.2v1.2h-4.2zM257 145h2.2v1.2h-2.2zM261 145h1.2v1.2h-1.2zM263 145h1.2v1.2h-1.2zM280 145h2.2v1.2h-2.2zM288 145h1.2v1.2h-1.2zM298 145h1.2v1.2h-1.2zM413 145h2.2v1.2h-2.2zM416 145h7.2v1.2h-7.2zM428 145h1.2v1.2h-1.2zM433 145h1.2v1.2h-1.2zM437 145h1.2v1.2h-1.2zM440 145h1.2v1.2h-1.2zM443 145h1.2v1.2h-1.2zM445 145h1.2v1.2h-1.2zM469 145h1.2v1.2h-1.2zM474 145h1.2v1.2h-1.2zM477 145h1.2v1.2h-1.2zM481 145h1.2v1.2h-1.2zM497 145h1.2v1.2h-1.2zM503 145h1.2v1.2h-1.2zM70 146h1.2v1.2h-1.2zM72 146h3.2v1.2h-3.2zM76 146h1.2v1.2h-1.2zM78 146h1.2v1.2h-1.2zM101 146h1.2v1.2h-1.2zM109 146h1.2v1.2h-1.2zM114 146h1.2v1.2h-1.2zM126 146h1.2v1.2h-1.2zM244 146h1.2v1.2h-1.2zM246 146h1.2v1.2h-1.2zM248 146h2.2v1.2h-2.2zM251 146h1.2v1.2h-1.2zM254 146h1.2v1.2h-1.2zM265 146h1.2v1.2h-1.2zM273 146h1.2v1.2h-1.2zM290 146h1.2v1.2h-1.2zM292 146h1.2v1.2h-1.2zM296 146h1.2v1.2h-1.2zM326 146h1.2v1.2h-1.2zM412 146h1.2v1.2h-1.2zM414 146h8.2v1.2h-8.2zM425 146h1.2v1.2h-1.2zM436 146h1.2v1.2h-1.2zM440 146h1.2v1.2h-1.2zM452 146h1.2v1.2h-1.2zM463 146h1.2v1.2h-1.2zM465 146h1.2v1.2h-1.2zM468 146h1.2v1.2h-1.2zM470 146h1.2v1.2h-1.2zM478 146h1.2v1.2h-1.2zM72 147h2.2v1.2h-2.2zM76 147h5.2v1.2h-5.2zM84 147h1.2v1.2h-1.2zM86 147h1.2v1.2h-1.2zM103 147h2.2v1.2h-2.2zM106 147h1.2v1.2h-1.2zM117 147h1.2v1.2h-1.2zM119 147h1.2v1.2h-1.2zM135 147h1.2v1.2h-1.2zM156 147h1.2v1.2h-1.2zM242 147h1.2v1.2h-1.2zM244 147h3.2v1.2h-3.2zM248 147h4.2v1.2h-4.2zM253 147h2.2v1.2h-2.2zM260 147h2.2v1.2h-2.2zM274 147h1.2v1.2h-1.2zM279 147h2.2v1.2h-2.2zM297 147h1.2v1.2h-1.2zM300 147h1.2v1.2h-1.2zM413 147h3.2v1.2h-3.2zM417 147h6.2v1.2h-6.2zM428 147h1.2v1.2h-1.2zM430 147h1.2v1.2h-1.2zM435 147h2.2v1.2h-2.2zM444 147h1.2v1.2h-1.2zM446 147h1.2v1.2h-1.2zM454 147h1.2v1.2h-1.2zM467 147h1.2v1.2h-1.2zM72 148h2.2v1.2h-2.2zM75 148h3.2v1.2h-3.2zM79 148h1.2v1.2h-1.2zM81 148h2.2v1.2h-2.2zM88 148h1.2v1.2h-1.2zM96 148h1.2v1.2h-1.2zM117 148h2.2v1.2h-2.2zM141 148h1.2v1.2h-1.2zM243 148h2.2v1.2h-2.2zM246 148h5.2v1.2h-5.2zM252 148h1.2v1.2h-1.2zM257 148h1.2v1.2h-1.2zM269 148h1.2v1.2h-1.2zM281 148h1.2v1.2h-1.2zM305 148h1.2v1.2h-1.2zM413 148h5.2v1.2h-5.2zM421 148h2.2v1.2h-2.2zM424 148h1.2v1.2h-1.2zM427 148h1.2v1.2h-1.2zM430 148h1.2v1.2h-1.2zM446 148h1.2v1.2h-1.2zM453 148h1.2v1.2h-1.2zM461 148h2.2v1.2h-2.2zM470 148h1.2v1.2h-1.2zM479 148h1.2v1.2h-1.2zM69 149h1.2v1.2h-1.2zM71 149h1.2v1.2h-1.2zM74 149h3.2v1.2h-3.2zM80 149h1.2v1.2h-1.2zM91 149h1.2v1.2h-1.2zM93 149h1.2v1.2h-1.2zM101 149h1.2v1.2h-1.2zM110 149h1.2v1.2h-1.2zM118 149h1.2v1.2h-1.2zM148 149h1.2v1.2h-1.2zM158 149h1.2v1.2h-1.2zM243 149h6.2v1.2h-6.2zM250 149h2.2v1.2h-2.2zM253 149h1.2v1.2h-1.2zM268 149h1.2v1.2h-1.2zM275 149h1.2v1.2h-1.2zM277 149h1.2v1.2h-1.2zM280 149h2.2v1.2h-2.2zM295 149h3.2v1.2h-3.2zM413 149h3.2v1.2h-3.2zM417 149h2.2v1.2h-2.2zM420 149h3.2v1.2h-3.2zM438 149h1.2v1.2h-1.2zM450 149h2.2v1.2h-2.2zM459 149h1.2v1.2h-1.2zM473 149h1.2v1.2h-1.2zM500 149h1.2v1.2h-1.2zM393 247h1.2v1.2h-1.2zM397 247h1.2v1.2h-1.2zM399 247h1.2v1.2h-1.2zM406 249h2.2v1.2h-2.2zM388 250h1.2v1.2h-1.2zM393 250h1.2v1.2h-1.2zM409 250h1.2v1.2h-1.2zM389 251h1.2v1.2h-1.2zM395 251h1.2v1.2h-1.2zM398 252h1.2v1.2h-1.2zM415 252h2.2v1.2h-2.2zM233 253h1.2v1.2h-1.2zM391 253h1.2v1.2h-1.2zM403 253h1.2v1.2h-1.2zM406 253h1.2v1.2h-1.2zM412 253h1.2v1.2h-1.2zM416 253h1.2v1.2h-1.2zM229 254h1.2v1.2h-1.2zM240 254h1.2v1.2h-1.2zM388 254h1.2v1.2h-1.2zM393 254h1.2v1.2h-1.2zM399 254h1.2v1.2h-1.2zM401 254h1.2v1.2h-1.2zM408 254h1.2v1.2h-1.2zM220 255h1.2v1.2h-1.2zM386 255h1.2v1.2h-1.2zM388 255h1.2v1.2h-1.2zM395 255h1.2v1.2h-1.2zM397 255h1.2v1.2h-1.2zM410 255h1.2v1.2h-1.2zM415 255h1.2v1.2h-1.2zM232 256h1.2v1.2h-1.2zM236 256h1.2v1.2h-1.2zM242 256h1.2v1.2h-1.2zM244 256h1.2v1.2h-1.2zM386 256h1.2v1.2h-1.2zM392 256h1.2v1.2h-1.2zM407 256h1.2v1.2h-1.2zM417 256h1.2v1.2h-1.2zM223 257h1.2v1.2h-1.2zM230 257h1.2v1.2h-1.2zM235 257h1.2v1.2h-1.2zM239 257h1.2v1.2h-1.2zM241 257h1.2v1.2h-1.2zM243 257h2.2v1.2h-2.2zM247 257h1.2v1.2h-1.2zM387 257h1.2v1.2h-1.2zM390 257h1.2v1.2h-1.2zM392 257h1.2v1.2h-1.2zM394 257h2.2v1.2h-2.2zM399 257h1.2v1.2h-1.2zM405 257h1.2v1.2h-1.2zM408 257h2.2v1.2h-2.2zM414 257h1.2v1.2h-1.2zM424 257h1.2v1.2h-1.2zM225 258h1.2v1.2h-1.2zM230 258h1.2v1.2h-1.2zM234 258h1.2v1.2h-1.2zM241 258h1.2v1.2h-1.2zM243 258h2.2v1.2h-2.2zM397 258h1.2v1.2h-1.2zM401 258h1.2v1.2h-1.2zM403 258h2.2v1.2h-2.2zM409 258h1.2v1.2h-1.2zM417 258h1.2v1.2h-1.2zM420 258h1.2v1.2h-1.2zM221 259h1.2v1.2h-1.2zM230 259h4.2v1.2h-4.2zM241 259h1.2v1.2h-1.2zM244 259h1.2v1.2h-1.2zM387 259h1.2v1.2h-1.2zM394 259h1.2v1.2h-1.2zM402 259h2.2v1.2h-2.2zM409 259h2.2v1.2h-2.2zM415 259h1.2v1.2h-1.2zM418 259h1.2v1.2h-1.2zM227 260h1.2v1.2h-1.2zM237 260h2.2v1.2h-2.2zM241 260h1.2v1.2h-1.2zM244 260h1.2v1.2h-1.2zM387 260h1.2v1.2h-1.2zM389 260h1.2v1.2h-1.2zM393 260h3.2v1.2h-3.2zM411 260h1.2v1.2h-1.2zM414 260h1.2v1.2h-1.2zM416 260h2.2v1.2h-2.2zM424 260h1.2v1.2h-1.2zM220 261h1.2v1.2h-1.2zM222 261h1.2v1.2h-1.2zM225 261h1.2v1.2h-1.2zM232 261h2.2v1.2h-2.2zM235 261h1.2v1.2h-1.2zM239 261h1.2v1.2h-1.2zM241 261h1.2v1.2h-1.2zM243 261h1.2v1.2h-1.2zM245 261h1.2v1.2h-1.2zM247 261h1.2v1.2h-1.2zM386 261h1.2v1.2h-1.2zM390 261h1.2v1.2h-1.2zM401 261h1.2v1.2h-1.2zM404 261h1.2v1.2h-1.2zM407 261h5.2v1.2h-5.2zM414 261h1.2v1.2h-1.2zM422 261h1.2v1.2h-1.2zM425 261h1.2v1.2h-1.2zM444 261h1.2v1.2h-1.2zM447 261h1.2v1.2h-1.2zM227 262h1.2v1.2h-1.2zM231 262h1.2v1.2h-1.2zM235 262h1.2v1.2h-1.2zM237 262h1.2v1.2h-1.2zM240 262h1.2v1.2h-1.2zM242 262h2.2v1.2h-2.2zM246 262h1.2v1.2h-1.2zM249 262h1.2v1.2h-1.2zM254 262h1.2v1.2h-1.2zM387 262h1.2v1.2h-1.2zM389 262h3.2v1.2h-3.2zM395 262h1.2v1.2h-1.2zM418 262h1.2v1.2h-1.2zM425 262h1.2v1.2h-1.2zM219 263h1.2v1.2h-1.2zM223 263h1.2v1.2h-1.2zM226 263h1.2v1.2h-1.2zM229 263h1.2v1.2h-1.2zM236 263h1.2v1.2h-1.2zM240 263h1.2v1.2h-1.2zM242 263h2.2v1.2h-2.2zM250 263h1.2v1.2h-1.2zM255 263h1.2v1.2h-1.2zM257 263h1.2v1.2h-1.2zM388 263h2.2v1.2h-2.2zM392 263h1.2v1.2h-1.2zM400 263h1.2v1.2h-1.2zM404 263h2.2v1.2h-2.2zM408 263h1.2v1.2h-1.2zM410 263h2.2v1.2h-2.2zM413 263h1.2v1.2h-1.2zM426 263h1.2v1.2h-1.2zM429 263h1.2v1.2h-1.2zM455 263h1.2v1.2h-1.2zM220 264h1.2v1.2h-1.2zM222 264h2.2v1.2h-2.2zM227 264h1.2v1.2h-1.2zM229 264h3.2v1.2h-3.2zM234 264h2.2v1.2h-2.2zM238 264h4.2v1.2h-4.2zM243 264h1.2v1.2h-1.2zM252 264h1.2v1.2h-1.2zM386 264h1.2v1.2h-1.2zM388 264h1.2v1.2h-1.2zM391 264h2.2v1.2h-2.2zM398 264h1.2v1.2h-1.2zM401 264h2.2v1.2h-2.2zM405 264h1.2v1.2h-1.2zM407 264h1.2v1.2h-1.2zM409 264h3.2v1.2h-3.2zM413 264h1.2v1.2h-1.2zM417 264h1.2v1.2h-1.2zM422 264h1.2v1.2h-1.2zM113 265h1.2v1.2h-1.2zM221 265h1.2v1.2h-1.2zM223 265h2.2v1.2h-2.2zM226 265h1.2v1.2h-1.2zM230 265h1.2v1.2h-1.2zM233 265h1.2v1.2h-1.2zM235 265h1.2v1.2h-1.2zM241 265h2.2v1.2h-2.2zM244 265h1.2v1.2h-1.2zM246 265h1.2v1.2h-1.2zM249 265h1.2v1.2h-1.2zM389 265h1.2v1.2h-1.2zM394 265h1.2v1.2h-1.2zM397 265h1.2v1.2h-1.2zM400 265h1.2v1.2h-1.2zM408 265h1.2v1.2h-1.2zM410 265h2.2v1.2h-2.2zM415 265h1.2v1.2h-1.2zM423 265h1.2v1.2h-1.2zM425 265h1.2v1.2h-1.2zM446 265h1.2v1.2h-1.2zM111 266h1.2v1.2h-1.2zM220 266h1.2v1.2h-1.2zM222 266h2.2v1.2h-2.2zM225 266h5.2v1.2h-5.2zM234 266h2.2v1.2h-2.2zM237 266h1.2v1.2h-1.2zM239 266h1.2v1.2h-1.2zM245 266h1.2v1.2h-1.2zM247 266h3.2v1.2h-3.2zM251 266h1.2v1.2h-1.2zM254 266h2.2v1.2h-2.2zM257 266h2.2v1.2h-2.2zM260 266h1.2v1.2h-1.2zM263 266h1.2v1.2h-1.2zM389 266h2.2v1.2h-2.2zM392 266h3.2v1.2h-3.2zM396 266h3.2v1.2h-3.2zM400 266h1.2v1.2h-1.2zM402 266h2.2v1.2h-2.2zM409 266h2.2v1.2h-2.2zM416 266h1.2v1.2h-1.2zM433 266h1.2v1.2h-1.2zM440 266h1.2v1.2h-1.2zM444 266h1.2v1.2h-1.2zM221 267h3.2v1.2h-3.2zM236 267h1.2v1.2h-1.2zM241 267h2.2v1.2h-2.2zM244 267h1.2v1.2h-1.2zM247 267h1.2v1.2h-1.2zM249 267h1.2v1.2h-1.2zM252 267h1.2v1.2h-1.2zM257 267h1.2v1.2h-1.2zM388 267h1.2v1.2h-1.2zM390 267h2.2v1.2h-2.2zM395 267h1.2v1.2h-1.2zM399 267h2.2v1.2h-2.2zM403 267h1.2v1.2h-1.2zM405 267h1.2v1.2h-1.2zM408 267h1.2v1.2h-1.2zM412 267h2.2v1.2h-2.2zM420 267h1.2v1.2h-1.2zM424 267h1.2v1.2h-1.2zM437 267h1.2v1.2h-1.2zM441 267h1.2v1.2h-1.2zM109 268h1.2v1.2h-1.2zM221 268h2.2v1.2h-2.2zM229 268h1.2v1.2h-1.2zM233 268h3.2v1.2h-3.2zM237 268h2.2v1.2h-2.2zM242 268h2.2v1.2h-2.2zM247 268h3.2v1.2h-3.2zM251 268h1.2v1.2h-1.2zM256 268h1.2v1.2h-1.2zM386 268h1.2v1.2h-1.2zM388 268h1.2v1.2h-1.2zM390 268h2.2v1.2h-2.2zM394 268h1.2v1.2h-1.2zM397 268h1.2v1.2h-1.2zM403 268h1.2v1.2h-1.2zM405 268h1.2v1.2h-1.2zM413 268h1.2v1.2h-1.2zM421 268h1.2v1.2h-1.2zM425 268h2.2v1.2h-2.2zM438 268h1.2v1.2h-1.2zM441 268h1.2v1.2h-1.2zM444 268h2.2v1.2h-2.2zM113 269h2.2v1.2h-2.2zM219 269h1.2v1.2h-1.2zM221 269h2.2v1.2h-2.2zM226 269h1.2v1.2h-1.2zM229 269h1.2v1.2h-1.2zM231 269h1.2v1.2h-1.2zM234 269h2.2v1.2h-2.2zM239 269h1.2v1.2h-1.2zM241 269h2.2v1.2h-2.2zM245 269h1.2v1.2h-1.2zM250 269h2.2v1.2h-2.2zM253 269h1.2v1.2h-1.2zM391 269h1.2v1.2h-1.2zM400 269h1.2v1.2h-1.2zM402 269h1.2v1.2h-1.2zM407 269h1.2v1.2h-1.2zM411 269h2.2v1.2h-2.2zM417 269h1.2v1.2h-1.2zM419 269h1.2v1.2h-1.2zM421 269h1.2v1.2h-1.2zM425 269h2.2v1.2h-2.2zM430 269h1.2v1.2h-1.2zM437 269h2.2v1.2h-2.2zM445 269h1.2v1.2h-1.2zM109 270h2.2v1.2h-2.2zM150 270h1.2v1.2h-1.2zM222 270h1.2v1.2h-1.2zM224 270h1.2v1.2h-1.2zM227 270h1.2v1.2h-1.2zM231 270h1.2v1.2h-1.2zM238 270h1.2v1.2h-1.2zM240 270h3.2v1.2h-3.2zM244 270h1.2v1.2h-1.2zM249 270h1.2v1.2h-1.2zM253 270h1.2v1.2h-1.2zM390 270h1.2v1.2h-1.2zM393 270h1.2v1.2h-1.2zM395 270h1.2v1.2h-1.2zM398 270h1.2v1.2h-1.2zM400 270h1.2v1.2h-1.2zM403 270h2.2v1.2h-2.2zM406 270h2.2v1.2h-2.2zM412 270h2.2v1.2h-2.2zM416 270h1.2v1.2h-1.2zM419 270h2.2v1.2h-2.2zM423 270h2.2v1.2h-2.2zM427 270h1.2v1.2h-1.2zM441 270h2.2v1.2h-2.2zM444 270h1.2v1.2h-1.2zM480 270h1.2v1.2h-1.2zM222 271h3.2v1.2h-3.2zM227 271h3.2v1.2h-3.2zM233 271h1.2v1.2h-1.2zM239 271h1.2v1.2h-1.2zM241 271h1.2v1.2h-1.2zM243 271h1.2v1.2h-1.2zM247 271h1.2v1.2h-1.2zM251 271h2.2v1.2h-2.2zM255 271h1.2v1.2h-1.2zM261 271h1.2v1.2h-1.2zM386 271h2.2v1.2h-2.2zM389 271h1.2v1.2h-1.2zM395 271h2.2v1.2h-2.2zM399 271h1.2v1.2h-1.2zM407 271h1.2v1.2h-1.2zM409 271h1.2v1.2h-1.2zM413 271h1.2v1.2h-1.2zM417 271h1.2v1.2h-1.2zM422 271h1.2v1.2h-1.2zM436 271h1.2v1.2h-1.2zM442 271h1.2v1.2h-1.2zM444 271h2.2v1.2h-2.2zM219 272h3.2v1.2h-3.2zM223 272h3.2v1.2h-3.2zM230 272h1.2v1.2h-1.2zM237 272h2.2v1.2h-2.2zM242 272h2.2v1.2h-2.2zM247 272h3.2v1.2h-3.2zM252 272h1.2v1.2h-1.2zM254 272h1.2v1.2h-1.2zM260 272h1.2v1.2h-1.2zM266 272h1.2v1.2h-1.2zM391 272h1.2v1.2h-1.2zM395 272h1.2v1.2h-1.2zM397 272h1.2v1.2h-1.2zM405 272h2.2v1.2h-2.2zM414 272h1.2v1.2h-1.2zM419 272h1.2v1.2h-1.2zM425 272h2.2v1.2h-2.2zM432 272h2.2v1.2h-2.2zM435 272h1.2v1.2h-1.2zM442 272h1.2v1.2h-1.2zM446 272h1.2v1.2h-1.2zM107 273h1.2v1.2h-1.2zM114 273h1.2v1.2h-1.2zM220 273h1.2v1.2h-1.2zM224 273h1.2v1.2h-1.2zM231 273h2.2v1.2h-2.2zM235 273h1.2v1.2h-1.2zM237 273h2.2v1.2h-2.2zM242 273h2.2v1.2h-2.2zM250 273h2.2v1.2h-2.2zM255 273h2.2v1.2h-2.2zM258 273h1.2v1.2h-1.2zM260 273h2.2v1.2h-2.2zM387 273h1.2v1.2h-1.2zM390 273h2.2v1.2h-2.2zM394 273h1.2v1.2h-1.2zM397 273h2.2v1.2h-2.2zM402 273h1.2v1.2h-1.2zM404 273h1.2v1.2h-1.2zM406 273h3.2v1.2h-3.2zM413 273h1.2v1.2h-1.2zM416 273h2.2v1.2h-2.2zM419 273h1.2v1.2h-1.2zM424 273h1.2v1.2h-1.2zM435 273h1.2v1.2h-1.2zM102 274h1.2v1.2h-1.2zM109 274h2.2v1.2h-2.2zM221 274h4.2v1.2h-4.2zM228 274h1.2v1.2h-1.2zM231 274h1.2v1.2h-1.2zM239 274h2.2v1.2h-2.2zM244 274h2.2v1.2h-2.2zM248 274h2.2v1.2h-2.2zM253 274h1.2v1.2h-1.2zM266 274h1.2v1.2h-1.2zM392 274h1.2v1.2h-1.2zM394 274h1.2v1.2h-1.2zM396 274h2.2v1.2h-2.2zM400 274h1.2v1.2h-1.2zM402 274h1.2v1.2h-1.2zM407 274h4.2v1.2h-4.2zM413 274h1.2v1.2h-1.2zM418 274h3.2v1.2h-3.2zM430 274h1.2v1.2h-1.2zM432 274h1.2v1.2h-1.2zM98 275h1.2v1.2h-1.2zM101 275h1.2v1.2h-1.2zM160 275h1.2v1.2h-1.2zM219 275h1.2v1.2h-1.2zM222 275h4.2v1.2h-4.2zM228 275h3.2v1.2h-3.2zM232 275h3.2v1.2h-3.2zM240 275h1.2v1.2h-1.2zM242 275h2.2v1.2h-2.2zM245 275h1.2v1.2h-1.2zM248 275h1.2v1.2h-1.2zM250 275h1.2v1.2h-1.2zM259 275h1.2v1.2h-1.2zM263 275h1.2v1.2h-1.2zM265 275h1.2v1.2h-1.2zM387 275h1.2v1.2h-1.2zM390 275h1.2v1.2h-1.2zM392 275h1.2v1.2h-1.2zM394 275h1.2v1.2h-1.2zM396 275h3.2v1.2h-3.2zM404 275h1.2v1.2h-1.2zM407 275h1.2v1.2h-1.2zM409 275h1.2v1.2h-1.2zM411 275h1.2v1.2h-1.2zM423 275h1.2v1.2h-1.2zM429 275h1.2v1.2h-1.2zM431 275h1.2v1.2h-1.2zM437 275h1.2v1.2h-1.2zM100 276h1.2v1.2h-1.2zM219 276h3.2v1.2h-3.2zM224 276h3.2v1.2h-3.2zM228 276h2.2v1.2h-2.2zM231 276h4.2v1.2h-4.2zM237 276h2.2v1.2h-2.2zM242 276h3.2v1.2h-3.2zM246 276h1.2v1.2h-1.2zM248 276h2.2v1.2h-2.2zM252 276h2.2v1.2h-2.2zM257 276h1.2v1.2h-1.2zM261 276h1.2v1.2h-1.2zM287 276h1.2v1.2h-1.2zM388 276h3.2v1.2h-3.2zM393 276h1.2v1.2h-1.2zM395 276h2.2v1.2h-2.2zM398 276h3.2v1.2h-3.2zM402 276h1.2v1.2h-1.2zM405 276h1.2v1.2h-1.2zM407 276h9.2v1.2h-9.2zM418 276h1.2v1.2h-1.2zM420 276h1.2v1.2h-1.2zM434 276h1.2v1.2h-1.2zM101 277h2.2v1.2h-2.2zM104 277h1.2v1.2h-1.2zM106 277h1.2v1.2h-1.2zM219 277h1.2v1.2h-1.2zM221 277h1.2v1.2h-1.2zM224 277h4.2v1.2h-4.2zM229 277h2.2v1.2h-2.2zM232 277h2.2v1.2h-2.2zM235 277h3.2v1.2h-3.2zM240 277h1.2v1.2h-1.2zM242 277h3.2v1.2h-3.2zM246 277h1.2v1.2h-1.2zM255 277h2.2v1.2h-2.2zM259 277h1.2v1.2h-1.2zM263 277h2.2v1.2h-2.2zM387 277h4.2v1.2h-4.2zM392 277h4.2v1.2h-4.2zM397 277h4.2v1.2h-4.2zM404 277h6.2v1.2h-6.2zM411 277h2.2v1.2h-2.2zM414 277h5.2v1.2h-5.2zM420 277h5.2v1.2h-5.2zM426 277h1.2v1.2h-1.2zM439 277h1.2v1.2h-1.2zM95 278h1.2v1.2h-1.2zM98 278h1.2v1.2h-1.2zM104 278h1.2v1.2h-1.2zM108 278h1.2v1.2h-1.2zM221 278h4.2v1.2h-4.2zM226 278h5.2v1.2h-5.2zM232 278h14.2v1.2h-14.2zM247 278h2.2v1.2h-2.2zM251 278h1.2v1.2h-1.2zM253 278h1.2v1.2h-1.2zM259 278h1.2v1.2h-1.2zM261 278h1.2v1.2h-1.2zM266 278h1.2v1.2h-1.2zM387 278h1.2v1.2h-1.2zM389 278h1.2v1.2h-1.2zM391 278h2.2v1.2h-2.2zM394 278h1.2v1.2h-1.2zM398 278h3.2v1.2h-3.2zM404 278h2.2v1.2h-2.2zM407 278h2.2v1.2h-2.2zM410 278h9.2v1.2h-9.2zM424 278h1.2v1.2h-1.2zM426 278h1.2v1.2h-1.2zM428 278h1.2v1.2h-1.2zM431 278h1.2v1.2h-1.2zM434 278h1.2v1.2h-1.2zM436 278h1.2v1.2h-1.2zM439 278h1.2v1.2h-1.2zM443 278h1.2v1.2h-1.2zM94 279h1.2v1.2h-1.2zM96 279h1.2v1.2h-1.2zM101 279h1.2v1.2h-1.2zM105 279h1.2v1.2h-1.2zM114 279h1.2v1.2h-1.2zM220 279h5.2v1.2h-5.2zM226 279h3.2v1.2h-3.2zM230 279h3.2v1.2h-3.2zM234 279h13.2v1.2h-13.2zM248 279h1.2v1.2h-1.2zM251 279h1.2v1.2h-1.2zM258 279h1.2v1.2h-1.2zM260 279h1.2v1.2h-1.2zM262 279h1.2v1.2h-1.2zM265 279h1.2v1.2h-1.2zM269 279h1.2v1.2h-1.2zM387 279h1.2v1.2h-1.2zM389 279h10.2v1.2h-10.2zM400 279h5.2v1.2h-5.2zM406 279h3.2v1.2h-3.2zM410 279h2.2v1.2h-2.2zM413 279h1.2v1.2h-1.2zM415 279h3.2v1.2h-3.2zM420 279h2.2v1.2h-2.2zM428 279h2.2v1.2h-2.2zM434 279h1.2v1.2h-1.2zM437 279h1.2v1.2h-1.2zM441 279h1.2v1.2h-1.2zM92 280h1.2v1.2h-1.2zM94 280h2.2v1.2h-2.2zM98 280h2.2v1.2h-2.2zM101 280h1.2v1.2h-1.2zM104 280h3.2v1.2h-3.2zM109 280h2.2v1.2h-2.2zM220 280h4.2v1.2h-4.2zM225 280h4.2v1.2h-4.2zM230 280h3.2v1.2h-3.2zM234 280h3.2v1.2h-3.2zM238 280h9.2v1.2h-9.2zM250 280h2.2v1.2h-2.2zM255 280h1.2v1.2h-1.2zM261 280h2.2v1.2h-2.2zM264 280h1.2v1.2h-1.2zM268 280h2.2v1.2h-2.2zM271 280h1.2v1.2h-1.2zM387 280h1.2v1.2h-1.2zM389 280h8.2v1.2h-8.2zM399 280h2.2v1.2h-2.2zM404 280h5.2v1.2h-5.2zM410 280h1.2v1.2h-1.2zM412 280h7.2v1.2h-7.2zM420 280h2.2v1.2h-2.2zM426 280h1.2v1.2h-1.2zM429 280h1.2v1.2h-1.2zM431 280h2.2v1.2h-2.2zM437 280h2.2v1.2h-2.2zM442 280h1.2v1.2h-1.2zM89 281h1.2v1.2h-1.2zM93 281h1.2v1.2h-1.2zM95 281h2.2v1.2h-2.2zM98 281h2.2v1.2h-2.2zM103 281h2.2v1.2h-2.2zM120 281h1.2v1.2h-1.2zM221 281h21.2v1.2h-21.2zM243 281h2.2v1.2h-2.2zM246 281h2.2v1.2h-2.2zM250 281h1.2v1.2h-1.2zM257 281h1.2v1.2h-1.2zM259 281h1.2v1.2h-1.2zM261 281h1.2v1.2h-1.2zM265 281h1.2v1.2h-1.2zM267 281h1.2v1.2h-1.2zM329 281h1.2v1.2h-1.2zM387 281h4.2v1.2h-4.2zM392 281h1.2v1.2h-1.2zM394 281h2.2v1.2h-2.2zM397 281h1.2v1.2h-1.2zM399 281h4.2v1.2h-4.2zM404 281h1.2v1.2h-1.2zM406 281h1.2v1.2h-1.2zM409 281h1.2v1.2h-1.2zM411 281h3.2v1.2h-3.2zM417 281h4.2v1.2h-4.2zM424 281h1.2v1.2h-1.2zM429 281h3.2v1.2h-3.2zM434 281h2.2v1.2h-2.2zM437 281h1.2v1.2h-1.2zM91 282h1.2v1.2h-1.2zM94 282h2.2v1.2h-2.2zM98 282h1.2v1.2h-1.2zM100 282h1.2v1.2h-1.2zM103 282h1.2v1.2h-1.2zM105 282h1.2v1.2h-1.2zM219 282h6.2v1.2h-6.2zM227 282h1.2v1.2h-1.2zM229 282h1.2v1.2h-1.2zM231 282h3.2v1.2h-3.2zM235 282h3.2v1.2h-3.2zM239 282h8.2v1.2h-8.2zM252 282h1.2v1.2h-1.2zM255 282h1.2v1.2h-1.2zM258 282h1.2v1.2h-1.2zM261 282h3.2v1.2h-3.2zM265 282h2.2v1.2h-2.2zM269 282h1.2v1.2h-1.2zM386 282h1.2v1.2h-1.2zM390 282h5.2v1.2h-5.2zM396 282h2.2v1.2h-2.2zM400 282h1.2v1.2h-1.2zM403 282h1.2v1.2h-1.2zM407 282h5.2v1.2h-5.2zM413 282h3.2v1.2h-3.2zM418 282h2.2v1.2h-2.2zM421 282h1.2v1.2h-1.2zM430 282h1.2v1.2h-1.2zM87 283h4.2v1.2h-4.2zM92 283h2.2v1.2h-2.2zM95 283h1.2v1.2h-1.2zM99 283h3.2v1.2h-3.2zM104 283h1.2v1.2h-1.2zM219 283h4.2v1.2h-4.2zM225 283h1.2v1.2h-1.2zM227 283h6.2v1.2h-6.2zM234 283h1.2v1.2h-1.2zM236 283h11.2v1.2h-11.2zM250 283h2.2v1.2h-2.2zM253 283h1.2v1.2h-1.2zM255 283h1.2v1.2h-1.2zM265 283h1.2v1.2h-1.2zM268 283h1.2v1.2h-1.2zM308 283h1.2v1.2h-1.2zM310 283h1.2v1.2h-1.2zM387 283h5.2v1.2h-5.2zM393 283h2.2v1.2h-2.2zM396 283h5.2v1.2h-5.2zM402 283h7.2v1.2h-7.2zM410 283h1.2v1.2h-1.2zM414 283h4.2v1.2h-4.2zM419 283h1.2v1.2h-1.2zM421 283h1.2v1.2h-1.2zM424 283h1.2v1.2h-1.2zM426 283h1.2v1.2h-1.2zM437 283h1.2v1.2h-1.2zM440 283h1.2v1.2h-1.2zM80 284h1.2v1.2h-1.2zM82 284h1.2v1.2h-1.2zM85 284h1.2v1.2h-1.2zM88 284h2.2v1.2h-2.2zM93 284h1.2v1.2h-1.2zM95 284h1.2v1.2h-1.2zM97 284h1.2v1.2h-1.2zM99 284h1.2v1.2h-1.2zM102 284h1.2v1.2h-1.2zM106 284h1.2v1.2h-1.2zM220 284h1.2v1.2h-1.2zM222 284h8.2v1.2h-8.2zM231 284h12.2v1.2h-12.2zM244 284h1.2v1.2h-1.2zM248 284h2.2v1.2h-2.2zM256 284h1.2v1.2h-1.2zM258 284h4.2v1.2h-4.2zM389 284h1.2v1.2h-1.2zM391 284h7.2v1.2h-7.2zM400 284h3.2v1.2h-3.2zM406 284h4.2v1.2h-4.2zM411 284h2.2v1.2h-2.2zM416 284h2.2v1.2h-2.2zM419 284h3.2v1.2h-3.2zM423 284h1.2v1.2h-1.2zM425 284h1.2v1.2h-1.2zM434 284h1.2v1.2h-1.2zM442 284h1.2v1.2h-1.2zM81 285h1.2v1.2h-1.2zM88 285h2.2v1.2h-2.2zM93 285h1.2v1.2h-1.2zM100 285h2.2v1.2h-2.2zM219 285h3.2v1.2h-3.2zM223 285h15.2v1.2h-15.2zM239 285h11.2v1.2h-11.2zM251 285h3.2v1.2h-3.2zM258 285h1.2v1.2h-1.2zM265 285h1.2v1.2h-1.2zM267 285h2.2v1.2h-2.2zM387 285h1.2v1.2h-1.2zM389 285h2.2v1.2h-2.2zM393 285h6.2v1.2h-6.2zM400 285h5.2v1.2h-5.2zM406 285h5.2v1.2h-5.2zM412 285h11.2v1.2h-11.2zM428 285h2.2v1.2h-2.2zM431 285h1.2v1.2h-1.2zM437 285h2.2v1.2h-2.2zM59 286h1.2v1.2h-1.2zM79 286h1.2v1.2h-1.2zM82 286h1.2v1.2h-1.2zM85 286h1.2v1.2h-1.2zM87 286h2.2v1.2h-2.2zM90 286h7.2v1.2h-7.2zM102 286h1.2v1.2h-1.2zM131 286h1.2v1.2h-1.2zM220 286h1.2v1.2h-1.2zM222 286h9.2v1.2h-9.2zM232 286h1.2v1.2h-1.2zM234 286h1.2v1.2h-1.2zM236 286h3.2v1.2h-3.2zM240 286h2.2v1.2h-2.2zM243 286h6.2v1.2h-6.2zM256 286h2.2v1.2h-2.2zM261 286h1.2v1.2h-1.2zM263 286h1.2v1.2h-1.2zM310 286h1.2v1.2h-1.2zM386 286h3.2v1.2h-3.2zM392 286h1.2v1.2h-1.2zM394 286h4.2v1.2h-4.2zM400 286h1.2v1.2h-1.2zM402 286h2.2v1.2h-2.2zM405 286h3.2v1.2h-3.2zM409 286h11.2v1.2h-11.2zM421 286h2.2v1.2h-2.2zM424 286h1.2v1.2h-1.2zM429 286h1.2v1.2h-1.2zM431 286h1.2v1.2h-1.2zM434 286h2.2v1.2h-2.2zM437 286h1.2v1.2h-1.2zM442 286h1.2v1.2h-1.2zM53 287h1.2v1.2h-1.2zM66 287h1.2v1.2h-1.2zM79 287h2.2v1.2h-2.2zM83 287h2.2v1.2h-2.2zM86 287h2.2v1.2h-2.2zM90 287h1.2v1.2h-1.2zM92 287h3.2v1.2h-3.2zM97 287h4.2v1.2h-4.2zM220 287h1.2v1.2h-1.2zM222 287h1.2v1.2h-1.2zM224 287h4.2v1.2h-4.2zM229 287h11.2v1.2h-11.2zM241 287h7.2v1.2h-7.2zM250 287h1.2v1.2h-1.2zM255 287h2.2v1.2h-2.2zM265 287h2.2v1.2h-2.2zM268 287h1.2v1.2h-1.2zM386 287h1.2v1.2h-1.2zM389 287h2.2v1.2h-2.2zM392 287h5.2v1.2h-5.2zM398 287h6.2v1.2h-6.2zM405 287h5.2v1.2h-5.2zM412 287h3.2v1.2h-3.2zM416 287h6.2v1.2h-6.2zM424 287h1.2v1.2h-1.2zM426 287h1.2v1.2h-1.2zM429 287h1.2v1.2h-1.2zM432 287h1.2v1.2h-1.2zM435 287h1.2v1.2h-1.2zM461 287h1.2v1.2h-1.2zM464 287h1.2v1.2h-1.2zM53 288h1.2v1.2h-1.2zM57 288h1.2v1.2h-1.2zM63 288h1.2v1.2h-1.2zM71 288h1.2v1.2h-1.2zM79 288h4.2v1.2h-4.2zM85 288h3.2v1.2h-3.2zM89 288h4.2v1.2h-4.2zM94 288h2.2v1.2h-2.2zM98 288h2.2v1.2h-2.2zM220 288h1.2v1.2h-1.2zM222 288h1.2v1.2h-1.2zM225 288h2.2v1.2h-2.2zM228 288h15.2v1.2h-15.2zM244 288h2.2v1.2h-2.2zM247 288h1.2v1.2h-1.2zM249 288h3.2v1.2h-3.2zM258 288h2.2v1.2h-2.2zM261 288h1.2v1.2h-1.2zM264 288h1.2v1.2h-1.2zM266 288h2.2v1.2h-2.2zM270 288h1.2v1.2h-1.2zM272 288h1.2v1.2h-1.2zM388 288h3.2v1.2h-3.2zM392 288h1.2v1.2h-1.2zM394 288h3.2v1.2h-3.2zM398 288h3.2v1.2h-3.2zM403 288h1.2v1.2h-1.2zM405 288h2.2v1.2h-2.2zM408 288h6.2v1.2h-6.2zM416 288h1.2v1.2h-1.2zM420 288h2.2v1.2h-2.2zM431 288h3.2v1.2h-3.2zM436 288h1.2v1.2h-1.2zM458 288h1.2v1.2h-1.2zM461 288h1.2v1.2h-1.2zM475 288h1.2v1.2h-1.2zM478 288h1.2v1.2h-1.2zM49 289h1.2v1.2h-1.2zM79 289h3.2v1.2h-3.2zM84 289h1.2v1.2h-1.2zM86 289h4.2v1.2h-4.2zM91 289h1.2v1.2h-1.2zM93 289h2.2v1.2h-2.2zM96 289h2.2v1.2h-2.2zM99 289h1.2v1.2h-1.2zM219 289h2.2v1.2h-2.2zM222 289h5.2v1.2h-5.2zM228 289h11.2v1.2h-11.2zM240 289h11.2v1.2h-11.2zM253 289h1.2v1.2h-1.2zM256 289h1.2v1.2h-1.2zM260 289h2.2v1.2h-2.2zM268 289h1.2v1.2h-1.2zM271 289h1.2v1.2h-1.2zM313 289h1.2v1.2h-1.2zM386 289h1.2v1.2h-1.2zM389 289h3.2v1.2h-3.2zM395 289h2.2v1.2h-2.2zM398 289h5.2v1.2h-5.2zM404 289h3.2v1.2h-3.2zM408 289h1.2v1.2h-1.2zM410 289h2.2v1.2h-2.2zM413 289h4.2v1.2h-4.2zM418 289h3.2v1.2h-3.2zM422 289h1.2v1.2h-1.2zM424 289h1.2v1.2h-1.2zM430 289h1.2v1.2h-1.2zM432 289h1.2v1.2h-1.2zM438 289h1.2v1.2h-1.2zM48 290h1.2v1.2h-1.2zM61 290h4.2v1.2h-4.2zM68 290h1.2v1.2h-1.2zM72 290h1.2v1.2h-1.2zM76 290h3.2v1.2h-3.2zM81 290h5.2v1.2h-5.2zM87 290h1.2v1.2h-1.2zM89 290h2.2v1.2h-2.2zM92 290h2.2v1.2h-2.2zM95 290h1.2v1.2h-1.2zM219 290h1.2v1.2h-1.2zM221 290h5.2v1.2h-5.2zM227 290h2.2v1.2h-2.2zM230 290h3.2v1.2h-3.2zM234 290h7.2v1.2h-7.2zM242 290h6.2v1.2h-6.2zM252 290h1.2v1.2h-1.2zM254 290h2.2v1.2h-2.2zM260 290h1.2v1.2h-1.2zM269 290h2.2v1.2h-2.2zM272 290h1.2v1.2h-1.2zM304 290h1.2v1.2h-1.2zM388 290h2.2v1.2h-2.2zM391 290h1.2v1.2h-1.2zM395 290h1.2v1.2h-1.2zM397 290h8.2v1.2h-8.2zM406 290h3.2v1.2h-3.2zM411 290h4.2v1.2h-4.2zM418 290h1.2v1.2h-1.2zM421 290h2.2v1.2h-2.2zM428 290h3.2v1.2h-3.2zM432 290h1.2v1.2h-1.2zM436 290h1.2v1.2h-1.2zM439 290h1.2v1.2h-1.2zM66 291h1.2v1.2h-1.2zM74 291h1.2v1.2h-1.2zM76 291h1.2v1.2h-1.2zM78 291h1.2v1.2h-1.2zM80 291h4.2v1.2h-4.2zM85 291h6.2v1.2h-6.2zM92 291h1.2v1.2h-1.2zM94 291h1.2v1.2h-1.2zM219 291h3.2v1.2h-3.2zM223 291h1.2v1.2h-1.2zM225 291h10.2v1.2h-10.2zM236 291h1.2v1.2h-1.2zM239 291h2.2v1.2h-2.2zM242 291h4.2v1.2h-4.2zM247 291h1.2v1.2h-1.2zM249 291h2.2v1.2h-2.2zM254 291h1.2v1.2h-1.2zM258 291h1.2v1.2h-1.2zM260 291h1.2v1.2h-1.2zM266 291h2.2v1.2h-2.2zM269 291h1.2v1.2h-1.2zM288 291h1.2v1.2h-1.2zM307 291h1.2v1.2h-1.2zM317 291h1.2v1.2h-1.2zM386 291h6.2v1.2h-6.2zM393 291h7.2v1.2h-7.2zM401 291h8.2v1.2h-8.2zM410 291h6.2v1.2h-6.2zM417 291h2.2v1.2h-2.2zM420 291h1.2v1.2h-1.2zM422 291h1.2v1.2h-1.2zM430 291h1.2v1.2h-1.2zM432 291h1.2v1.2h-1.2zM435 291h1.2v1.2h-1.2zM438 291h1.2v1.2h-1.2zM478 291h1.2v1.2h-1.2zM57 292h1.2v1.2h-1.2zM69 292h1.2v1.2h-1.2zM75 292h2.2v1.2h-2.2zM78 292h4.2v1.2h-4.2zM84 292h9.2v1.2h-9.2zM96 292h1.2v1.2h-1.2zM219 292h1.2v1.2h-1.2zM222 292h3.2v1.2h-3.2zM226 292h21.2v1.2h-21.2zM251 292h1.2v1.2h-1.2zM254 292h1.2v1.2h-1.2zM256 292h2.2v1.2h-2.2zM261 292h1.2v1.2h-1.2zM265 292h1.2v1.2h-1.2zM267 292h1.2v1.2h-1.2zM388 292h2.2v1.2h-2.2zM391 292h1.2v1.2h-1.2zM393 292h2.2v1.2h-2.2zM396 292h4.2v1.2h-4.2zM401 292h3.2v1.2h-3.2zM405 292h2.2v1.2h-2.2zM408 292h2.2v1.2h-2.2zM416 292h4.2v1.2h-4.2zM423 292h1.2v1.2h-1.2zM427 292h2.2v1.2h-2.2zM430 292h1.2v1.2h-1.2zM50 293h1.2v1.2h-1.2zM52 293h1.2v1.2h-1.2zM54 293h1.2v1.2h-1.2zM56 293h1.2v1.2h-1.2zM63 293h1.2v1.2h-1.2zM68 293h1.2v1.2h-1.2zM71 293h3.2v1.2h-3.2zM75 293h1.2v1.2h-1.2zM78 293h5.2v1.2h-5.2zM85 293h4.2v1.2h-4.2zM91 293h2.2v1.2h-2.2zM221 293h6.2v1.2h-6.2zM228 293h5.2v1.2h-5.2zM234 293h16.2v1.2h-16.2zM251 293h2.2v1.2h-2.2zM258 293h1.2v1.2h-1.2zM260 293h1.2v1.2h-1.2zM265 293h2.2v1.2h-2.2zM300 293h1.2v1.2h-1.2zM386 293h1.2v1.2h-1.2zM388 293h4.2v1.2h-4.2zM395 293h2.2v1.2h-2.2zM400 293h1.2v1.2h-1.2zM404 293h1.2v1.2h-1.2zM406 293h1.2v1.2h-1.2zM408 293h2.2v1.2h-2.2zM413 293h2.2v1.2h-2.2zM417 293h1.2v1.2h-1.2zM419 293h2.2v1.2h-2.2zM423 293h1.2v1.2h-1.2zM425 293h1.2v1.2h-1.2zM427 293h1.2v1.2h-1.2zM437 293h4.2v1.2h-4.2zM443 293h1.2v1.2h-1.2zM49 294h1.2v1.2h-1.2zM53 294h1.2v1.2h-1.2zM56 294h1.2v1.2h-1.2zM58 294h1.2v1.2h-1.2zM68 294h1.2v1.2h-1.2zM71 294h1.2v1.2h-1.2zM74 294h2.2v1.2h-2.2zM77 294h1.2v1.2h-1.2zM79 294h13.2v1.2h-13.2zM94 294h1.2v1.2h-1.2zM220 294h13.2v1.2h-13.2zM235 294h11.2v1.2h-11.2zM247 294h1.2v1.2h-1.2zM249 294h2.2v1.2h-2.2zM252 294h1.2v1.2h-1.2zM254 294h2.2v1.2h-2.2zM257 294h1.2v1.2h-1.2zM260 294h1.2v1.2h-1.2zM263 294h1.2v1.2h-1.2zM391 294h1.2v1.2h-1.2zM394 294h1.2v1.2h-1.2zM396 294h1.2v1.2h-1.2zM398 294h5.2v1.2h-5.2zM404 294h1.2v1.2h-1.2zM408 294h2.2v1.2h-2.2zM411 294h1.2v1.2h-1.2zM413 294h2.2v1.2h-2.2zM419 294h1.2v1.2h-1.2zM422 294h1.2v1.2h-1.2zM424 294h2.2v1.2h-2.2zM431 294h1.2v1.2h-1.2zM438 294h1.2v1.2h-1.2zM440 294h2.2v1.2h-2.2zM51 295h1.2v1.2h-1.2zM53 295h1.2v1.2h-1.2zM58 295h1.2v1.2h-1.2zM64 295h1.2v1.2h-1.2zM66 295h1.2v1.2h-1.2zM68 295h1.2v1.2h-1.2zM70 295h1.2v1.2h-1.2zM72 295h2.2v1.2h-2.2zM75 295h10.2v1.2h-10.2zM86 295h6.2v1.2h-6.2zM93 295h1.2v1.2h-1.2zM95 295h1.2v1.2h-1.2zM220 295h14.2v1.2h-14.2zM235 295h14.2v1.2h-14.2zM250 295h2.2v1.2h-2.2zM254 295h2.2v1.2h-2.2zM257 295h2.2v1.2h-2.2zM261 295h1.2v1.2h-1.2zM264 295h1.2v1.2h-1.2zM268 295h1.2v1.2h-1.2zM287 295h1.2v1.2h-1.2zM323 295h1.2v1.2h-1.2zM387 295h7.2v1.2h-7.2zM395 295h1.2v1.2h-1.2zM397 295h3.2v1.2h-3.2zM401 295h3.2v1.2h-3.2zM405 295h6.2v1.2h-6.2zM414 295h2.2v1.2h-2.2zM417 295h1.2v1.2h-1.2zM420 295h3.2v1.2h-3.2zM426 295h1.2v1.2h-1.2zM431 295h1.2v1.2h-1.2zM434 295h1.2v1.2h-1.2zM439 295h1.2v1.2h-1.2zM55 296h1.2v1.2h-1.2zM58 296h1.2v1.2h-1.2zM61 296h2.2v1.2h-2.2zM64 296h5.2v1.2h-5.2zM71 296h3.2v1.2h-3.2zM76 296h6.2v1.2h-6.2zM84 296h1.2v1.2h-1.2zM86 296h4.2v1.2h-4.2zM91 296h2.2v1.2h-2.2zM219 296h7.2v1.2h-7.2zM227 296h2.2v1.2h-2.2zM230 296h1.2v1.2h-1.2zM232 296h1.2v1.2h-1.2zM234 296h8.2v1.2h-8.2zM243 296h9.2v1.2h-9.2zM255 296h1.2v1.2h-1.2zM257 296h2.2v1.2h-2.2zM262 296h2.2v1.2h-2.2zM267 296h1.2v1.2h-1.2zM269 296h3.2v1.2h-3.2zM289 296h1.2v1.2h-1.2zM386 296h1.2v1.2h-1.2zM392 296h2.2v1.2h-2.2zM395 296h1.2v1.2h-1.2zM398 296h1.2v1.2h-1.2zM401 296h1.2v1.2h-1.2zM405 296h1.2v1.2h-1.2zM408 296h2.2v1.2h-2.2zM412 296h2.2v1.2h-2.2zM416 296h4.2v1.2h-4.2zM421 296h3.2v1.2h-3.2zM425 296h2.2v1.2h-2.2zM436 296h1.2v1.2h-1.2zM438 296h1.2v1.2h-1.2zM440 296h2.2v1.2h-2.2zM45 297h1.2v1.2h-1.2zM50 297h1.2v1.2h-1.2zM54 297h3.2v1.2h-3.2zM60 297h3.2v1.2h-3.2zM64 297h2.2v1.2h-2.2zM67 297h2.2v1.2h-2.2zM70 297h1.2v1.2h-1.2zM72 297h9.2v1.2h-9.2zM83 297h8.2v1.2h-8.2zM221 297h8.2v1.2h-8.2zM231 297h19.2v1.2h-19.2zM253 297h1.2v1.2h-1.2zM255 297h1.2v1.2h-1.2zM257 297h1.2v1.2h-1.2zM260 297h1.2v1.2h-1.2zM262 297h1.2v1.2h-1.2zM388 297h2.2v1.2h-2.2zM391 297h6.2v1.2h-6.2zM398 297h1.2v1.2h-1.2zM400 297h5.2v1.2h-5.2zM406 297h4.2v1.2h-4.2zM412 297h5.2v1.2h-5.2zM418 297h3.2v1.2h-3.2zM422 297h2.2v1.2h-2.2zM453 297h1.2v1.2h-1.2zM483 297h1.2v1.2h-1.2zM46 298h1.2v1.2h-1.2zM50 298h1.2v1.2h-1.2zM56 298h1.2v1.2h-1.2zM58 298h7.2v1.2h-7.2zM66 298h9.2v1.2h-9.2zM76 298h11.2v1.2h-11.2zM88 298h1.2v1.2h-1.2zM90 298h3.2v1.2h-3.2zM98 298h1.2v1.2h-1.2zM219 298h1.2v1.2h-1.2zM221 298h3.2v1.2h-3.2zM225 298h6.2v1.2h-6.2zM232 298h2.2v1.2h-2.2zM235 298h7.2v1.2h-7.2zM243 298h4.2v1.2h-4.2zM248 298h6.2v1.2h-6.2zM255 298h2.2v1.2h-2.2zM258 298h2.2v1.2h-2.2zM270 298h1.2v1.2h-1.2zM276 298h1.2v1.2h-1.2zM306 298h1.2v1.2h-1.2zM315 298h1.2v1.2h-1.2zM386 298h1.2v1.2h-1.2zM388 298h1.2v1.2h-1.2zM390 298h6.2v1.2h-6.2zM399 298h2.2v1.2h-2.2zM402 298h4.2v1.2h-4.2zM408 298h6.2v1.2h-6.2zM416 298h2.2v1.2h-2.2zM419 298h4.2v1.2h-4.2zM424 298h1.2v1.2h-1.2zM427 298h2.2v1.2h-2.2zM436 298h1.2v1.2h-1.2zM443 298h1.2v1.2h-1.2zM445 298h1.2v1.2h-1.2zM478 298h1.2v1.2h-1.2zM45 299h1.2v1.2h-1.2zM47 299h1.2v1.2h-1.2zM49 299h3.2v1.2h-3.2zM53 299h9.2v1.2h-9.2zM64 299h9.2v1.2h-9.2zM74 299h4.2v1.2h-4.2zM79 299h5.2v1.2h-5.2zM85 299h1.2v1.2h-1.2zM87 299h1.2v1.2h-1.2zM89 299h1.2v1.2h-1.2zM93 299h1.2v1.2h-1.2zM220 299h1.2v1.2h-1.2zM222 299h3.2v1.2h-3.2zM227 299h4.2v1.2h-4.2zM232 299h2.2v1.2h-2.2zM235 299h3.2v1.2h-3.2zM239 299h1.2v1.2h-1.2zM241 299h1.2v1.2h-1.2zM243 299h1.2v1.2h-1.2zM245 299h2.2v1.2h-2.2zM248 299h1.2v1.2h-1.2zM250 299h3.2v1.2h-3.2zM254 299h1.2v1.2h-1.2zM257 299h2.2v1.2h-2.2zM261 299h2.2v1.2h-2.2zM265 299h1.2v1.2h-1.2zM271 299h1.2v1.2h-1.2zM298 299h1.2v1.2h-1.2zM324 299h1.2v1.2h-1.2zM386 299h2.2v1.2h-2.2zM389 299h5.2v1.2h-5.2zM396 299h1.2v1.2h-1.2zM398 299h13.2v1.2h-13.2zM412 299h2.2v1.2h-2.2zM415 299h7.2v1.2h-7.2zM423 299h2.2v1.2h-2.2zM426 299h1.2v1.2h-1.2zM439 299h1.2v1.2h-1.2zM44 300h1.2v1.2h-1.2zM46 300h1.2v1.2h-1.2zM48 300h1.2v1.2h-1.2zM55 300h1.2v1.2h-1.2zM57 300h4.2v1.2h-4.2zM63 300h5.2v1.2h-5.2zM69 300h2.2v1.2h-2.2zM72 300h2.2v1.2h-2.2zM75 300h2.2v1.2h-2.2zM79 300h3.2v1.2h-3.2zM83 300h2.2v1.2h-2.2zM87 300h7.2v1.2h-7.2zM219 300h1.2v1.2h-1.2zM221 300h4.2v1.2h-4.2zM226 300h1.2v1.2h-1.2zM228 300h1.2v1.2h-1.2zM235 300h2.2v1.2h-2.2zM240 300h4.2v1.2h-4.2zM245 300h1.2v1.2h-1.2zM250 300h2.2v1.2h-2.2zM253 300h1.2v1.2h-1.2zM256 300h1.2v1.2h-1.2zM265 300h1.2v1.2h-1.2zM268 300h2.2v1.2h-2.2zM274 300h1.2v1.2h-1.2zM393 300h1.2v1.2h-1.2zM395 300h2.2v1.2h-2.2zM399 300h1.2v1.2h-1.2zM401 300h1.2v1.2h-1.2zM403 300h8.2v1.2h-8.2zM412 300h1.2v1.2h-1.2zM414 300h5.2v1.2h-5.2zM421 300h1.2v1.2h-1.2zM423 300h1.2v1.2h-1.2zM425 300h1.2v1.2h-1.2zM427 300h1.2v1.2h-1.2zM429 300h2.2v1.2h-2.2zM434 300h1.2v1.2h-1.2zM44 301h2.2v1.2h-2.2zM47 301h1.2v1.2h-1.2zM49 301h2.2v1.2h-2.2zM52 301h1.2v1.2h-1.2zM54 301h2.2v1.2h-2.2zM57 301h1.2v1.2h-1.2zM61 301h1.2v1.2h-1.2zM63 301h1.2v1.2h-1.2zM66 301h9.2v1.2h-9.2zM76 301h12.2v1.2h-12.2zM89 301h1.2v1.2h-1.2zM119 301h1.2v1.2h-1.2zM219 301h4.2v1.2h-4.2zM224 301h1.2v1.2h-1.2zM226 301h1.2v1.2h-1.2zM228 301h2.2v1.2h-2.2zM231 301h4.2v1.2h-4.2zM237 301h2.2v1.2h-2.2zM244 301h2.2v1.2h-2.2zM247 301h2.2v1.2h-2.2zM253 301h1.2v1.2h-1.2zM255 301h1.2v1.2h-1.2zM268 301h2.2v1.2h-2.2zM275 301h1.2v1.2h-1.2zM291 301h1.2v1.2h-1.2zM390 301h3.2v1.2h-3.2zM397 301h1.2v1.2h-1.2zM399 301h1.2v1.2h-1.2zM403 301h1.2v1.2h-1.2zM405 301h6.2v1.2h-6.2zM412 301h3.2v1.2h-3.2zM416 301h8.2v1.2h-8.2zM426 301h3.2v1.2h-3.2zM437 301h1.2v1.2h-1.2zM442 301h1.2v1.2h-1.2zM46 302h1.2v1.2h-1.2zM48 302h2.2v1.2h-2.2zM51 302h1.2v1.2h-1.2zM55 302h1.2v1.2h-1.2zM57 302h7.2v1.2h-7.2zM65 302h2.2v1.2h-2.2zM69 302h5.2v1.2h-5.2zM75 302h8.2v1.2h-8.2zM85 302h1.2v1.2h-1.2zM88 302h1.2v1.2h-1.2zM220 302h2.2v1.2h-2.2zM225 302h1.2v1.2h-1.2zM227 302h3.2v1.2h-3.2zM232 302h1.2v1.2h-1.2zM235 302h1.2v1.2h-1.2zM238 302h1.2v1.2h-1.2zM241 302h1.2v1.2h-1.2zM243 302h5.2v1.2h-5.2zM249 302h1.2v1.2h-1.2zM251 302h3.2v1.2h-3.2zM262 302h2.2v1.2h-2.2zM266 302h1.2v1.2h-1.2zM268 302h1.2v1.2h-1.2zM271 302h1.2v1.2h-1.2zM386 302h1.2v1.2h-1.2zM388 302h2.2v1.2h-2.2zM392 302h1.2v1.2h-1.2zM394 302h3.2v1.2h-3.2zM398 302h2.2v1.2h-2.2zM406 302h2.2v1.2h-2.2zM409 302h1.2v1.2h-1.2zM412 302h1.2v1.2h-1.2zM414 302h9.2v1.2h-9.2zM424 302h1.2v1.2h-1.2zM429 302h1.2v1.2h-1.2zM434 302h1.2v1.2h-1.2zM436 302h1.2v1.2h-1.2zM445 302h1.2v1.2h-1.2zM45 303h1.2v1.2h-1.2zM47 303h1.2v1.2h-1.2zM49 303h1.2v1.2h-1.2zM51 303h2.2v1.2h-2.2zM54 303h1.2v1.2h-1.2zM61 303h2.2v1.2h-2.2zM64 303h1.2v1.2h-1.2zM67 303h1.2v1.2h-1.2zM69 303h5.2v1.2h-5.2zM75 303h2.2v1.2h-2.2zM79 303h11.2v1.2h-11.2zM91 303h1.2v1.2h-1.2zM221 303h2.2v1.2h-2.2zM225 303h2.2v1.2h-2.2zM231 303h1.2v1.2h-1.2zM233 303h2.2v1.2h-2.2zM236 303h3.2v1.2h-3.2zM240 303h1.2v1.2h-1.2zM243 303h1.2v1.2h-1.2zM246 303h2.2v1.2h-2.2zM252 303h1.2v1.2h-1.2zM254 303h2.2v1.2h-2.2zM260 303h1.2v1.2h-1.2zM262 303h2.2v1.2h-2.2zM265 303h1.2v1.2h-1.2zM268 303h2.2v1.2h-2.2zM272 303h1.2v1.2h-1.2zM389 303h1.2v1.2h-1.2zM391 303h2.2v1.2h-2.2zM397 303h3.2v1.2h-3.2zM402 303h2.2v1.2h-2.2zM408 303h1.2v1.2h-1.2zM410 303h3.2v1.2h-3.2zM414 303h2.2v1.2h-2.2zM417 303h5.2v1.2h-5.2zM423 303h1.2v1.2h-1.2zM426 303h1.2v1.2h-1.2zM437 303h2.2v1.2h-2.2zM440 303h1.2v1.2h-1.2zM442 303h1.2v1.2h-1.2zM470 303h1.2v1.2h-1.2zM494 303h1.2v1.2h-1.2zM45 304h1.2v1.2h-1.2zM49 304h3.2v1.2h-3.2zM55 304h8.2v1.2h-8.2zM65 304h2.2v1.2h-2.2zM69 304h5.2v1.2h-5.2zM76 304h3.2v1.2h-3.2zM80 304h6.2v1.2h-6.2zM87 304h1.2v1.2h-1.2zM89 304h2.2v1.2h-2.2zM230 304h1.2v1.2h-1.2zM232 304h1.2v1.2h-1.2zM236 304h4.2v1.2h-4.2zM241 304h2.2v1.2h-2.2zM244 304h3.2v1.2h-3.2zM250 304h1.2v1.2h-1.2zM253 304h1.2v1.2h-1.2zM256 304h1.2v1.2h-1.2zM261 304h1.2v1.2h-1.2zM267 304h1.2v1.2h-1.2zM271 304h1.2v1.2h-1.2zM274 304h1.2v1.2h-1.2zM276 304h1.2v1.2h-1.2zM299 304h1.2v1.2h-1.2zM387 304h2.2v1.2h-2.2zM390 304h1.2v1.2h-1.2zM393 304h3.2v1.2h-3.2zM399 304h3.2v1.2h-3.2zM403 304h2.2v1.2h-2.2zM407 304h2.2v1.2h-2.2zM410 304h12.2v1.2h-12.2zM423 304h1.2v1.2h-1.2zM426 304h1.2v1.2h-1.2zM428 304h1.2v1.2h-1.2zM432 304h2.2v1.2h-2.2zM44 305h1.2v1.2h-1.2zM50 305h2.2v1.2h-2.2zM53 305h1.2v1.2h-1.2zM55 305h1.2v1.2h-1.2zM57 305h2.2v1.2h-2.2zM60 305h1.2v1.2h-1.2zM62 305h3.2v1.2h-3.2zM67 305h3.2v1.2h-3.2zM71 305h3.2v1.2h-3.2zM75 305h15.2v1.2h-15.2zM220 305h1.2v1.2h-1.2zM222 305h1.2v1.2h-1.2zM224 305h1.2v1.2h-1.2zM226 305h1.2v1.2h-1.2zM228 305h3.2v1.2h-3.2zM235 305h1.2v1.2h-1.2zM239 305h6.2v1.2h-6.2zM249 305h2.2v1.2h-2.2zM254 305h1.2v1.2h-1.2zM256 305h2.2v1.2h-2.2zM261 305h1.2v1.2h-1.2zM263 305h2.2v1.2h-2.2zM270 305h1.2v1.2h-1.2zM387 305h1.2v1.2h-1.2zM389 305h1.2v1.2h-1.2zM391 305h1.2v1.2h-1.2zM396 305h1.2v1.2h-1.2zM398 305h2.2v1.2h-2.2zM402 305h4.2v1.2h-4.2zM409 305h9.2v1.2h-9.2zM419 305h3.2v1.2h-3.2zM423 305h1.2v1.2h-1.2zM433 305h1.2v1.2h-1.2zM435 305h1.2v1.2h-1.2zM445 305h1.2v1.2h-1.2zM463 305h1.2v1.2h-1.2zM46 306h3.2v1.2h-3.2zM50 306h2.2v1.2h-2.2zM53 306h1.2v1.2h-1.2zM57 306h10.2v1.2h-10.2zM68 306h3.2v1.2h-3.2zM72 306h13.2v1.2h-13.2zM86 306h3.2v1.2h-3.2zM90 306h1.2v1.2h-1.2zM92 306h1.2v1.2h-1.2zM220 306h2.2v1.2h-2.2zM223 306h1.2v1.2h-1.2zM227 306h1.2v1.2h-1.2zM229 306h3.2v1.2h-3.2zM235 306h1.2v1.2h-1.2zM238 306h2.2v1.2h-2.2zM242 306h4.2v1.2h-4.2zM247 306h2.2v1.2h-2.2zM250 306h1.2v1.2h-1.2zM253 306h1.2v1.2h-1.2zM256 306h2.2v1.2h-2.2zM265 306h2.2v1.2h-2.2zM268 306h1.2v1.2h-1.2zM271 306h1.2v1.2h-1.2zM283 306h1.2v1.2h-1.2zM387 306h5.2v1.2h-5.2zM395 306h1.2v1.2h-1.2zM397 306h19.2v1.2h-19.2zM417 306h2.2v1.2h-2.2zM421 306h2.2v1.2h-2.2zM426 306h2.2v1.2h-2.2zM433 306h1.2v1.2h-1.2zM440 306h1.2v1.2h-1.2zM445 306h1.2v1.2h-1.2zM44 307h1.2v1.2h-1.2zM46 307h1.2v1.2h-1.2zM49 307h2.2v1.2h-2.2zM54 307h3.2v1.2h-3.2zM59 307h3.2v1.2h-3.2zM64 307h5.2v1.2h-5.2zM70 307h1.2v1.2h-1.2zM72 307h4.2v1.2h-4.2zM77 307h2.2v1.2h-2.2zM80 307h9.2v1.2h-9.2zM220 307h1.2v1.2h-1.2zM222 307h3.2v1.2h-3.2zM229 307h1.2v1.2h-1.2zM232 307h1.2v1.2h-1.2zM234 307h1.2v1.2h-1.2zM236 307h1.2v1.2h-1.2zM239 307h2.2v1.2h-2.2zM247 307h1.2v1.2h-1.2zM250 307h1.2v1.2h-1.2zM254 307h1.2v1.2h-1.2zM259 307h2.2v1.2h-2.2zM262 307h1.2v1.2h-1.2zM264 307h1.2v1.2h-1.2zM267 307h3.2v1.2h-3.2zM273 307h1.2v1.2h-1.2zM275 307h1.2v1.2h-1.2zM280 307h1.2v1.2h-1.2zM300 307h1.2v1.2h-1.2zM326 307h1.2v1.2h-1.2zM386 307h2.2v1.2h-2.2zM389 307h2.2v1.2h-2.2zM394 307h5.2v1.2h-5.2zM400 307h2.2v1.2h-2.2zM403 307h1.2v1.2h-1.2zM405 307h6.2v1.2h-6.2zM413 307h2.2v1.2h-2.2zM416 307h5.2v1.2h-5.2zM425 307h1.2v1.2h-1.2zM428 307h2.2v1.2h-2.2zM46 308h2.2v1.2h-2.2zM51 308h1.2v1.2h-1.2zM54 308h1.2v1.2h-1.2zM56 308h2.2v1.2h-2.2zM60 308h1.2v1.2h-1.2zM62 308h5.2v1.2h-5.2zM68 308h2.2v1.2h-2.2zM71 308h8.2v1.2h-8.2zM80 308h8.2v1.2h-8.2zM89 308h1.2v1.2h-1.2zM222 308h1.2v1.2h-1.2zM226 308h1.2v1.2h-1.2zM229 308h2.2v1.2h-2.2zM232 308h2.2v1.2h-2.2zM237 308h1.2v1.2h-1.2zM240 308h1.2v1.2h-1.2zM242 308h2.2v1.2h-2.2zM245 308h2.2v1.2h-2.2zM249 308h2.2v1.2h-2.2zM253 308h1.2v1.2h-1.2zM259 308h1.2v1.2h-1.2zM264 308h2.2v1.2h-2.2zM269 308h2.2v1.2h-2.2zM272 308h1.2v1.2h-1.2zM276 308h1.2v1.2h-1.2zM293 308h1.2v1.2h-1.2zM387 308h3.2v1.2h-3.2zM392 308h2.2v1.2h-2.2zM396 308h2.2v1.2h-2.2zM399 308h1.2v1.2h-1.2zM401 308h1.2v1.2h-1.2zM403 308h2.2v1.2h-2.2zM406 308h8.2v1.2h-8.2zM415 308h2.2v1.2h-2.2zM418 308h1.2v1.2h-1.2zM421 308h1.2v1.2h-1.2zM424 308h2.2v1.2h-2.2zM427 308h1.2v1.2h-1.2zM438 308h1.2v1.2h-1.2zM441 308h1.2v1.2h-1.2zM52 309h1.2v1.2h-1.2zM54 309h1.2v1.2h-1.2zM57 309h7.2v1.2h-7.2zM65 309h6.2v1.2h-6.2zM72 309h8.2v1.2h-8.2zM81 309h1.2v1.2h-1.2zM83 309h4.2v1.2h-4.2zM88 309h2.2v1.2h-2.2zM219 309h2.2v1.2h-2.2zM222 309h1.2v1.2h-1.2zM224 309h1.2v1.2h-1.2zM228 309h2.2v1.2h-2.2zM234 309h2.2v1.2h-2.2zM239 309h1.2v1.2h-1.2zM241 309h1.2v1.2h-1.2zM244 309h1.2v1.2h-1.2zM246 309h4.2v1.2h-4.2zM251 309h1.2v1.2h-1.2zM253 309h2.2v1.2h-2.2zM256 309h1.2v1.2h-1.2zM266 309h1.2v1.2h-1.2zM387 309h3.2v1.2h-3.2zM391 309h2.2v1.2h-2.2zM395 309h4.2v1.2h-4.2zM400 309h1.2v1.2h-1.2zM402 309h2.2v1.2h-2.2zM405 309h1.2v1.2h-1.2zM407 309h8.2v1.2h-8.2zM416 309h2.2v1.2h-2.2zM420 309h2.2v1.2h-2.2zM433 309h1.2v1.2h-1.2zM436 309h1.2v1.2h-1.2zM456 309h1.2v1.2h-1.2zM48 310h1.2v1.2h-1.2zM56 310h1.2v1.2h-1.2zM59 310h1.2v1.2h-1.2zM61 310h4.2v1.2h-4.2zM66 310h2.2v1.2h-2.2zM70 310h10.2v1.2h-10.2zM81 310h4.2v1.2h-4.2zM86 310h2.2v1.2h-2.2zM222 310h1.2v1.2h-1.2zM224 310h1.2v1.2h-1.2zM226 310h2.2v1.2h-2.2zM231 310h1.2v1.2h-1.2zM238 310h1.2v1.2h-1.2zM240 310h1.2v1.2h-1.2zM242 310h7.2v1.2h-7.2zM252 310h2.2v1.2h-2.2zM258 310h1.2v1.2h-1.2zM264 310h1.2v1.2h-1.2zM266 310h1.2v1.2h-1.2zM269 310h1.2v1.2h-1.2zM272 310h1.2v1.2h-1.2zM387 310h2.2v1.2h-2.2zM390 310h1.2v1.2h-1.2zM393 310h2.2v1.2h-2.2zM398 310h3.2v1.2h-3.2zM402 310h3.2v1.2h-3.2zM409 310h2.2v1.2h-2.2zM412 310h1.2v1.2h-1.2zM415 310h8.2v1.2h-8.2zM425 310h2.2v1.2h-2.2zM428 310h1.2v1.2h-1.2zM432 310h1.2v1.2h-1.2zM448 310h1.2v1.2h-1.2zM457 310h1.2v1.2h-1.2zM45 311h1.2v1.2h-1.2zM47 311h1.2v1.2h-1.2zM50 311h1.2v1.2h-1.2zM52 311h1.2v1.2h-1.2zM54 311h1.2v1.2h-1.2zM60 311h1.2v1.2h-1.2zM62 311h3.2v1.2h-3.2zM66 311h8.2v1.2h-8.2zM75 311h7.2v1.2h-7.2zM83 311h3.2v1.2h-3.2zM87 311h1.2v1.2h-1.2zM220 311h3.2v1.2h-3.2zM226 311h1.2v1.2h-1.2zM228 311h1.2v1.2h-1.2zM230 311h2.2v1.2h-2.2zM239 311h1.2v1.2h-1.2zM241 311h1.2v1.2h-1.2zM244 311h1.2v1.2h-1.2zM246 311h2.2v1.2h-2.2zM250 311h2.2v1.2h-2.2zM253 311h1.2v1.2h-1.2zM257 311h3.2v1.2h-3.2zM261 311h1.2v1.2h-1.2zM264 311h1.2v1.2h-1.2zM274 311h1.2v1.2h-1.2zM295 311h1.2v1.2h-1.2zM300 311h2.2v1.2h-2.2zM319 311h1.2v1.2h-1.2zM386 311h2.2v1.2h-2.2zM389 311h2.2v1.2h-2.2zM392 311h1.2v1.2h-1.2zM395 311h4.2v1.2h-4.2zM400 311h4.2v1.2h-4.2zM405 311h1.2v1.2h-1.2zM409 311h4.2v1.2h-4.2zM414 311h8.2v1.2h-8.2zM425 311h1.2v1.2h-1.2zM427 311h1.2v1.2h-1.2zM432 311h1.2v1.2h-1.2zM464 311h1.2v1.2h-1.2zM477 311h1.2v1.2h-1.2zM44 312h1.2v1.2h-1.2zM47 312h3.2v1.2h-3.2zM51 312h1.2v1.2h-1.2zM53 312h14.2v1.2h-14.2zM68 312h1.2v1.2h-1.2zM70 312h3.2v1.2h-3.2zM74 312h4.2v1.2h-4.2zM80 312h6.2v1.2h-6.2zM87 312h2.2v1.2h-2.2zM91 312h1.2v1.2h-1.2zM219 312h1.2v1.2h-1.2zM221 312h2.2v1.2h-2.2zM224 312h1.2v1.2h-1.2zM228 312h5.2v1.2h-5.2zM236 312h6.2v1.2h-6.2zM243 312h2.2v1.2h-2.2zM247 312h4.2v1.2h-4.2zM252 312h1.2v1.2h-1.2zM254 312h1.2v1.2h-1.2zM258 312h1.2v1.2h-1.2zM263 312h2.2v1.2h-2.2zM267 312h1.2v1.2h-1.2zM269 312h1.2v1.2h-1.2zM271 312h1.2v1.2h-1.2zM389 312h3.2v1.2h-3.2zM394 312h8.2v1.2h-8.2zM403 312h1.2v1.2h-1.2zM405 312h3.2v1.2h-3.2zM409 312h5.2v1.2h-5.2zM416 312h4.2v1.2h-4.2zM422 312h1.2v1.2h-1.2zM427 312h1.2v1.2h-1.2zM432 312h1.2v1.2h-1.2zM435 312h1.2v1.2h-1.2zM440 312h1.2v1.2h-1.2zM45 313h1.2v1.2h-1.2zM47 313h2.2v1.2h-2.2zM50 313h1.2v1.2h-1.2zM53 313h1.2v1.2h-1.2zM56 313h2.2v1.2h-2.2zM59 313h2.2v1.2h-2.2zM62 313h11.2v1.2h-11.2zM74 313h8.2v1.2h-8.2zM83 313h2.2v1.2h-2.2zM86 313h3.2v1.2h-3.2zM219 313h2.2v1.2h-2.2zM222 313h2.2v1.2h-2.2zM227 313h1.2v1.2h-1.2zM230 313h3.2v1.2h-3.2zM234 313h8.2v1.2h-8.2zM243 313h2.2v1.2h-2.2zM246 313h4.2v1.2h-4.2zM251 313h3.2v1.2h-3.2zM261 313h1.2v1.2h-1.2zM267 313h1.2v1.2h-1.2zM272 313h1.2v1.2h-1.2zM274 313h1.2v1.2h-1.2zM299 313h1.2v1.2h-1.2zM303 313h1.2v1.2h-1.2zM386 313h4.2v1.2h-4.2zM391 313h2.2v1.2h-2.2zM394 313h2.2v1.2h-2.2zM398 313h10.2v1.2h-10.2zM412 313h1.2v1.2h-1.2zM414 313h1.2v1.2h-1.2zM418 313h2.2v1.2h-2.2zM423 313h1.2v1.2h-1.2zM426 313h1.2v1.2h-1.2zM431 313h2.2v1.2h-2.2zM438 313h1.2v1.2h-1.2zM440 313h3.2v1.2h-3.2zM451 313h1.2v1.2h-1.2zM461 313h1.2v1.2h-1.2zM470 313h1.2v1.2h-1.2zM44 314h2.2v1.2h-2.2zM51 314h2.2v1.2h-2.2zM55 314h1.2v1.2h-1.2zM57 314h1.2v1.2h-1.2zM59 314h1.2v1.2h-1.2zM61 314h1.2v1.2h-1.2zM63 314h5.2v1.2h-5.2zM69 314h9.2v1.2h-9.2zM79 314h4.2v1.2h-4.2zM84 314h4.2v1.2h-4.2zM219 314h5.2v1.2h-5.2zM225 314h12.2v1.2h-12.2zM238 314h8.2v1.2h-8.2zM247 314h3.2v1.2h-3.2zM262 314h1.2v1.2h-1.2zM265 314h2.2v1.2h-2.2zM268 314h1.2v1.2h-1.2zM272 314h2.2v1.2h-2.2zM387 314h7.2v1.2h-7.2zM395 314h5.2v1.2h-5.2zM401 314h6.2v1.2h-6.2zM408 314h2.2v1.2h-2.2zM412 314h4.2v1.2h-4.2zM418 314h2.2v1.2h-2.2zM421 314h2.2v1.2h-2.2zM427 314h3.2v1.2h-3.2zM439 314h2.2v1.2h-2.2zM477 314h1.2v1.2h-1.2zM48 315h1.2v1.2h-1.2zM51 315h1.2v1.2h-1.2zM54 315h1.2v1.2h-1.2zM58 315h2.2v1.2h-2.2zM61 315h3.2v1.2h-3.2zM65 315h8.2v1.2h-8.2zM74 315h2.2v1.2h-2.2zM77 315h8.2v1.2h-8.2zM219 315h3.2v1.2h-3.2zM223 315h4.2v1.2h-4.2zM228 315h5.2v1.2h-5.2zM234 315h9.2v1.2h-9.2zM244 315h3.2v1.2h-3.2zM248 315h2.2v1.2h-2.2zM251 315h2.2v1.2h-2.2zM260 315h1.2v1.2h-1.2zM262 315h2.2v1.2h-2.2zM272 315h1.2v1.2h-1.2zM276 315h1.2v1.2h-1.2zM304 315h1.2v1.2h-1.2zM309 315h1.2v1.2h-1.2zM319 315h1.2v1.2h-1.2zM387 315h3.2v1.2h-3.2zM391 315h1.2v1.2h-1.2zM394 315h2.2v1.2h-2.2zM397 315h2.2v1.2h-2.2zM400 315h1.2v1.2h-1.2zM402 315h8.2v1.2h-8.2zM411 315h2.2v1.2h-2.2zM414 315h1.2v1.2h-1.2zM416 315h1.2v1.2h-1.2zM420 315h1.2v1.2h-1.2zM422 315h1.2v1.2h-1.2zM424 315h2.2v1.2h-2.2zM427 315h1.2v1.2h-1.2zM432 315h1.2v1.2h-1.2zM486 315h1.2v1.2h-1.2zM489 315h1.2v1.2h-1.2zM46 316h1.2v1.2h-1.2zM48 316h3.2v1.2h-3.2zM52 316h1.2v1.2h-1.2zM54 316h2.2v1.2h-2.2zM58 316h3.2v1.2h-3.2zM63 316h1.2v1.2h-1.2zM65 316h4.2v1.2h-4.2zM70 316h1.2v1.2h-1.2zM73 316h5.2v1.2h-5.2zM80 316h5.2v1.2h-5.2zM87 316h1.2v1.2h-1.2zM219 316h1.2v1.2h-1.2zM221 316h8.2v1.2h-8.2zM230 316h3.2v1.2h-3.2zM234 316h5.2v1.2h-5.2zM240 316h8.2v1.2h-8.2zM251 316h6.2v1.2h-6.2zM266 316h1.2v1.2h-1.2zM285 316h1.2v1.2h-1.2zM293 316h1.2v1.2h-1.2zM302 316h1.2v1.2h-1.2zM311 316h1.2v1.2h-1.2zM315 316h1.2v1.2h-1.2zM319 316h1.2v1.2h-1.2zM387 316h2.2v1.2h-2.2zM391 316h24.2v1.2h-24.2zM416 316h3.2v1.2h-3.2zM420 316h1.2v1.2h-1.2zM425 316h1.2v1.2h-1.2zM430 316h2.2v1.2h-2.2zM435 316h2.2v1.2h-2.2zM444 316h1.2v1.2h-1.2zM475 316h1.2v1.2h-1.2zM497 316h1.2v1.2h-1.2zM44 317h1.2v1.2h-1.2zM49 317h1.2v1.2h-1.2zM51 317h1.2v1.2h-1.2zM53 317h1.2v1.2h-1.2zM55 317h2.2v1.2h-2.2zM58 317h2.2v1.2h-2.2zM62 317h8.2v1.2h-8.2zM71 317h4.2v1.2h-4.2zM76 317h9.2v1.2h-9.2zM219 317h3.2v1.2h-3.2zM223 317h8.2v1.2h-8.2zM233 317h3.2v1.2h-3.2zM238 317h2.2v1.2h-2.2zM241 317h1.2v1.2h-1.2zM243 317h1.2v1.2h-1.2zM245 317h4.2v1.2h-4.2zM250 317h3.2v1.2h-3.2zM255 317h1.2v1.2h-1.2zM258 317h2.2v1.2h-2.2zM261 317h1.2v1.2h-1.2zM265 317h2.2v1.2h-2.2zM301 317h2.2v1.2h-2.2zM386 317h2.2v1.2h-2.2zM389 317h3.2v1.2h-3.2zM393 317h13.2v1.2h-13.2zM407 317h1.2v1.2h-1.2zM409 317h6.2v1.2h-6.2zM416 317h2.2v1.2h-2.2zM419 317h1.2v1.2h-1.2zM425 317h1.2v1.2h-1.2zM427 317h1.2v1.2h-1.2zM434 317h5.2v1.2h-5.2zM443 317h1.2v1.2h-1.2zM480 317h1.2v1.2h-1.2zM45 318h1.2v1.2h-1.2zM47 318h1.2v1.2h-1.2zM49 318h1.2v1.2h-1.2zM54 318h1.2v1.2h-1.2zM59 318h2.2v1.2h-2.2zM62 318h2.2v1.2h-2.2zM65 318h3.2v1.2h-3.2zM69 318h1.2v1.2h-1.2zM71 318h2.2v1.2h-2.2zM76 318h7.2v1.2h-7.2zM85 318h2.2v1.2h-2.2zM220 318h1.2v1.2h-1.2zM223 318h3.2v1.2h-3.2zM227 318h10.2v1.2h-10.2zM238 318h5.2v1.2h-5.2zM244 318h6.2v1.2h-6.2zM251 318h5.2v1.2h-5.2zM258 318h1.2v1.2h-1.2zM260 318h2.2v1.2h-2.2zM265 318h1.2v1.2h-1.2zM276 318h1.2v1.2h-1.2zM319 318h1.2v1.2h-1.2zM322 318h1.2v1.2h-1.2zM388 318h3.2v1.2h-3.2zM392 318h15.2v1.2h-15.2zM408 318h10.2v1.2h-10.2zM420 318h1.2v1.2h-1.2zM425 318h2.2v1.2h-2.2zM430 318h1.2v1.2h-1.2zM435 318h1.2v1.2h-1.2zM457 318h1.2v1.2h-1.2zM464 318h1.2v1.2h-1.2zM466 318h1.2v1.2h-1.2zM476 318h1.2v1.2h-1.2zM44 319h1.2v1.2h-1.2zM51 319h1.2v1.2h-1.2zM54 319h8.2v1.2h-8.2zM64 319h15.2v1.2h-15.2zM80 319h2.2v1.2h-2.2zM83 319h1.2v1.2h-1.2zM85 319h1.2v1.2h-1.2zM220 319h1.2v1.2h-1.2zM222 319h6.2v1.2h-6.2zM229 319h9.2v1.2h-9.2zM239 319h12.2v1.2h-12.2zM252 319h4.2v1.2h-4.2zM259 319h1.2v1.2h-1.2zM261 319h1.2v1.2h-1.2zM263 319h3.2v1.2h-3.2zM270 319h1.2v1.2h-1.2zM287 319h3.2v1.2h-3.2zM295 319h1.2v1.2h-1.2zM387 319h6.2v1.2h-6.2zM394 319h3.2v1.2h-3.2zM398 319h3.2v1.2h-3.2zM402 319h14.2v1.2h-14.2zM418 319h1.2v1.2h-1.2zM421 319h2.2v1.2h-2.2zM435 319h1.2v1.2h-1.2zM437 319h1.2v1.2h-1.2zM464 319h1.2v1.2h-1.2zM466 319h1.2v1.2h-1.2zM472 319h1.2v1.2h-1.2zM45 320h3.2v1.2h-3.2zM51 320h2.2v1.2h-2.2zM56 320h3.2v1.2h-3.2zM61 320h1.2v1.2h-1.2zM63 320h13.2v1.2h-13.2zM77 320h5.2v1.2h-5.2zM83 320h1.2v1.2h-1.2zM85 320h1.2v1.2h-1.2zM220 320h17.2v1.2h-17.2zM238 320h8.2v1.2h-8.2zM247 320h4.2v1.2h-4.2zM253 320h3.2v1.2h-3.2zM260 320h1.2v1.2h-1.2zM262 320h1.2v1.2h-1.2zM264 320h1.2v1.2h-1.2zM275 320h1.2v1.2h-1.2zM278 320h1.2v1.2h-1.2zM288 320h1.2v1.2h-1.2zM291 320h1.2v1.2h-1.2zM309 320h1.2v1.2h-1.2zM311 320h1.2v1.2h-1.2zM314 320h1.2v1.2h-1.2zM388 320h2.2v1.2h-2.2zM391 320h8.2v1.2h-8.2zM400 320h3.2v1.2h-3.2zM405 320h5.2v1.2h-5.2zM411 320h4.2v1.2h-4.2zM416 320h3.2v1.2h-3.2zM420 320h1.2v1.2h-1.2zM434 320h1.2v1.2h-1.2zM439 320h1.2v1.2h-1.2zM459 320h1.2v1.2h-1.2zM46 321h2.2v1.2h-2.2zM49 321h2.2v1.2h-2.2zM53 321h1.2v1.2h-1.2zM56 321h2.2v1.2h-2.2zM63 321h1.2v1.2h-1.2zM66 321h1.2v1.2h-1.2zM68 321h3.2v1.2h-3.2zM72 321h2.2v1.2h-2.2zM75 321h1.2v1.2h-1.2zM77 321h3.2v1.2h-3.2zM81 321h3.2v1.2h-3.2zM219 321h2.2v1.2h-2.2zM222 321h1.2v1.2h-1.2zM224 321h1.2v1.2h-1.2zM226 321h1.2v1.2h-1.2zM228 321h6.2v1.2h-6.2zM235 321h8.2v1.2h-8.2zM244 321h6.2v1.2h-6.2zM251 321h3.2v1.2h-3.2zM257 321h1.2v1.2h-1.2zM259 321h2.2v1.2h-2.2zM262 321h1.2v1.2h-1.2zM264 321h1.2v1.2h-1.2zM274 321h1.2v1.2h-1.2zM277 321h1.2v1.2h-1.2zM291 321h1.2v1.2h-1.2zM300 321h1.2v1.2h-1.2zM306 321h1.2v1.2h-1.2zM318 321h1.2v1.2h-1.2zM389 321h1.2v1.2h-1.2zM391 321h14.2v1.2h-14.2zM406 321h1.2v1.2h-1.2zM408 321h8.2v1.2h-8.2zM417 321h1.2v1.2h-1.2zM419 321h1.2v1.2h-1.2zM427 321h1.2v1.2h-1.2zM429 321h1.2v1.2h-1.2zM434 321h1.2v1.2h-1.2zM436 321h1.2v1.2h-1.2zM438 321h1.2v1.2h-1.2zM441 321h1.2v1.2h-1.2zM461 321h1.2v1.2h-1.2zM465 321h1.2v1.2h-1.2zM474 321h1.2v1.2h-1.2zM45 322h1.2v1.2h-1.2zM49 322h1.2v1.2h-1.2zM51 322h2.2v1.2h-2.2zM54 322h1.2v1.2h-1.2zM57 322h4.2v1.2h-4.2zM62 322h14.2v1.2h-14.2zM77 322h1.2v1.2h-1.2zM80 322h5.2v1.2h-5.2zM219 322h13.2v1.2h-13.2zM233 322h12.2v1.2h-12.2zM246 322h3.2v1.2h-3.2zM250 322h5.2v1.2h-5.2zM259 322h1.2v1.2h-1.2zM261 322h1.2v1.2h-1.2zM264 322h1.2v1.2h-1.2zM301 322h1.2v1.2h-1.2zM313 322h1.2v1.2h-1.2zM316 322h1.2v1.2h-1.2zM386 322h1.2v1.2h-1.2zM388 322h1.2v1.2h-1.2zM390 322h6.2v1.2h-6.2zM397 322h10.2v1.2h-10.2zM408 322h7.2v1.2h-7.2zM416 322h2.2v1.2h-2.2zM423 322h1.2v1.2h-1.2zM425 322h2.2v1.2h-2.2zM430 322h1.2v1.2h-1.2zM436 322h1.2v1.2h-1.2zM438 322h1.2v1.2h-1.2zM445 322h1.2v1.2h-1.2zM453 322h1.2v1.2h-1.2zM467 322h1.2v1.2h-1.2zM45 323h1.2v1.2h-1.2zM51 323h1.2v1.2h-1.2zM54 323h1.2v1.2h-1.2zM56 323h16.2v1.2h-16.2zM74 323h2.2v1.2h-2.2zM77 323h1.2v1.2h-1.2zM79 323h2.2v1.2h-2.2zM83 323h1.2v1.2h-1.2zM221 323h14.2v1.2h-14.2zM236 323h14.2v1.2h-14.2zM251 323h1.2v1.2h-1.2zM253 323h1.2v1.2h-1.2zM256 323h2.2v1.2h-2.2zM265 323h1.2v1.2h-1.2zM275 323h1.2v1.2h-1.2zM289 323h1.2v1.2h-1.2zM294 323h1.2v1.2h-1.2zM388 323h9.2v1.2h-9.2zM398 323h20.2v1.2h-20.2zM419 323h1.2v1.2h-1.2zM422 323h1.2v1.2h-1.2zM424 323h1.2v1.2h-1.2zM431 323h1.2v1.2h-1.2zM438 323h1.2v1.2h-1.2zM479 323h1.2v1.2h-1.2zM48 324h2.2v1.2h-2.2zM53 324h1.2v1.2h-1.2zM59 324h2.2v1.2h-2.2zM62 324h2.2v1.2h-2.2zM66 324h1.2v1.2h-1.2zM68 324h2.2v1.2h-2.2zM71 324h3.2v1.2h-3.2zM76 324h2.2v1.2h-2.2zM79 324h2.2v1.2h-2.2zM84 324h1.2v1.2h-1.2zM221 324h7.2v1.2h-7.2zM229 324h8.2v1.2h-8.2zM238 324h2.2v1.2h-2.2zM241 324h9.2v1.2h-9.2zM255 324h2.2v1.2h-2.2zM258 324h1.2v1.2h-1.2zM260 324h1.2v1.2h-1.2zM265 324h1.2v1.2h-1.2zM282 324h1.2v1.2h-1.2zM304 324h1.2v1.2h-1.2zM314 324h1.2v1.2h-1.2zM316 324h1.2v1.2h-1.2zM386 324h1.2v1.2h-1.2zM389 324h17.2v1.2h-17.2zM407 324h7.2v1.2h-7.2zM415 324h1.2v1.2h-1.2zM423 324h2.2v1.2h-2.2zM430 324h1.2v1.2h-1.2zM432 324h1.2v1.2h-1.2zM436 324h1.2v1.2h-1.2zM455 324h1.2v1.2h-1.2zM492 324h1.2v1.2h-1.2zM44 325h2.2v1.2h-2.2zM49 325h1.2v1.2h-1.2zM51 325h2.2v1.2h-2.2zM59 325h1.2v1.2h-1.2zM61 325h2.2v1.2h-2.2zM64 325h3.2v1.2h-3.2zM68 325h5.2v1.2h-5.2zM74 325h1.2v1.2h-1.2zM76 325h3.2v1.2h-3.2zM80 325h1.2v1.2h-1.2zM219 325h4.2v1.2h-4.2zM224 325h1.2v1.2h-1.2zM227 325h26.2v1.2h-26.2zM262 325h1.2v1.2h-1.2zM270 325h1.2v1.2h-1.2zM291 325h1.2v1.2h-1.2zM303 325h1.2v1.2h-1.2zM312 325h1.2v1.2h-1.2zM318 325h1.2v1.2h-1.2zM386 325h8.2v1.2h-8.2zM395 325h2.2v1.2h-2.2zM398 325h2.2v1.2h-2.2zM401 325h11.2v1.2h-11.2zM414 325h1.2v1.2h-1.2zM416 325h1.2v1.2h-1.2zM418 325h2.2v1.2h-2.2zM424 325h1.2v1.2h-1.2zM429 325h1.2v1.2h-1.2zM432 325h1.2v1.2h-1.2zM483 325h1.2v1.2h-1.2zM489 325h1.2v1.2h-1.2zM47 326h1.2v1.2h-1.2zM52 326h2.2v1.2h-2.2zM57 326h1.2v1.2h-1.2zM59 326h2.2v1.2h-2.2zM64 326h2.2v1.2h-2.2zM68 326h4.2v1.2h-4.2zM73 326h1.2v1.2h-1.2zM75 326h1.2v1.2h-1.2zM77 326h1.2v1.2h-1.2zM219 326h1.2v1.2h-1.2zM222 326h5.2v1.2h-5.2zM228 326h2.2v1.2h-2.2zM231 326h10.2v1.2h-10.2zM243 326h7.2v1.2h-7.2zM251 326h1.2v1.2h-1.2zM253 326h2.2v1.2h-2.2zM256 326h2.2v1.2h-2.2zM263 326h1.2v1.2h-1.2zM274 326h1.2v1.2h-1.2zM302 326h2.2v1.2h-2.2zM306 326h1.2v1.2h-1.2zM310 326h1.2v1.2h-1.2zM317 326h1.2v1.2h-1.2zM386 326h1.2v1.2h-1.2zM390 326h3.2v1.2h-3.2zM394 326h2.2v1.2h-2.2zM397 326h20.2v1.2h-20.2zM420 326h1.2v1.2h-1.2zM437 326h1.2v1.2h-1.2zM441 326h2.2v1.2h-2.2zM459 326h1.2v1.2h-1.2zM468 326h1.2v1.2h-1.2zM473 326h1.2v1.2h-1.2zM55 327h2.2v1.2h-2.2zM59 327h7.2v1.2h-7.2zM67 327h2.2v1.2h-2.2zM71 327h1.2v1.2h-1.2zM73 327h2.2v1.2h-2.2zM77 327h4.2v1.2h-4.2zM219 327h1.2v1.2h-1.2zM221 327h5.2v1.2h-5.2zM227 327h2.2v1.2h-2.2zM230 327h8.2v1.2h-8.2zM239 327h13.2v1.2h-13.2zM253 327h1.2v1.2h-1.2zM258 327h1.2v1.2h-1.2zM260 327h1.2v1.2h-1.2zM262 327h1.2v1.2h-1.2zM272 327h2.2v1.2h-2.2zM283 327h1.2v1.2h-1.2zM312 327h1.2v1.2h-1.2zM319 327h1.2v1.2h-1.2zM386 327h1.2v1.2h-1.2zM388 327h5.2v1.2h-5.2zM394 327h12.2v1.2h-12.2zM407 327h1.2v1.2h-1.2zM409 327h7.2v1.2h-7.2zM417 327h2.2v1.2h-2.2zM420 327h1.2v1.2h-1.2zM425 327h1.2v1.2h-1.2zM432 327h2.2v1.2h-2.2zM457 327h1.2v1.2h-1.2zM486 327h1.2v1.2h-1.2zM44 328h1.2v1.2h-1.2zM46 328h2.2v1.2h-2.2zM50 328h1.2v1.2h-1.2zM53 328h5.2v1.2h-5.2zM59 328h1.2v1.2h-1.2zM61 328h2.2v1.2h-2.2zM64 328h3.2v1.2h-3.2zM68 328h5.2v1.2h-5.2zM77 328h2.2v1.2h-2.2zM85 328h1.2v1.2h-1.2zM220 328h1.2v1.2h-1.2zM222 328h10.2v1.2h-10.2zM233 328h12.2v1.2h-12.2zM246 328h1.2v1.2h-1.2zM248 328h3.2v1.2h-3.2zM253 328h1.2v1.2h-1.2zM256 328h1.2v1.2h-1.2zM261 328h2.2v1.2h-2.2zM270 328h1.2v1.2h-1.2zM272 328h1.2v1.2h-1.2zM274 328h1.2v1.2h-1.2zM278 328h2.2v1.2h-2.2zM293 328h1.2v1.2h-1.2zM306 328h1.2v1.2h-1.2zM318 328h1.2v1.2h-1.2zM386 328h3.2v1.2h-3.2zM391 328h12.2v1.2h-12.2zM404 328h1.2v1.2h-1.2zM406 328h9.2v1.2h-9.2zM416 328h1.2v1.2h-1.2zM418 328h2.2v1.2h-2.2zM425 328h1.2v1.2h-1.2zM486 328h1.2v1.2h-1.2zM488 328h1.2v1.2h-1.2zM44 329h5.2v1.2h-5.2zM50 329h2.2v1.2h-2.2zM54 329h2.2v1.2h-2.2zM59 329h2.2v1.2h-2.2zM63 329h5.2v1.2h-5.2zM69 329h8.2v1.2h-8.2zM79 329h2.2v1.2h-2.2zM98 329h1.2v1.2h-1.2zM219 329h1.2v1.2h-1.2zM223 329h2.2v1.2h-2.2zM226 329h3.2v1.2h-3.2zM230 329h13.2v1.2h-13.2zM244 329h9.2v1.2h-9.2zM257 329h1.2v1.2h-1.2zM262 329h1.2v1.2h-1.2zM265 329h2.2v1.2h-2.2zM281 329h1.2v1.2h-1.2zM294 329h1.2v1.2h-1.2zM298 329h1.2v1.2h-1.2zM316 329h1.2v1.2h-1.2zM320 329h1.2v1.2h-1.2zM386 329h1.2v1.2h-1.2zM390 329h6.2v1.2h-6.2zM397 329h14.2v1.2h-14.2zM412 329h3.2v1.2h-3.2zM416 329h3.2v1.2h-3.2zM424 329h1.2v1.2h-1.2zM431 329h1.2v1.2h-1.2zM464 329h1.2v1.2h-1.2zM45 330h3.2v1.2h-3.2zM50 330h1.2v1.2h-1.2zM53 330h2.2v1.2h-2.2zM58 330h3.2v1.2h-3.2zM62 330h4.2v1.2h-4.2zM67 330h1.2v1.2h-1.2zM69 330h1.2v1.2h-1.2zM71 330h1.2v1.2h-1.2zM74 330h1.2v1.2h-1.2zM77 330h1.2v1.2h-1.2zM81 330h1.2v1.2h-1.2zM219 330h3.2v1.2h-3.2zM223 330h16.2v1.2h-16.2zM240 330h3.2v1.2h-3.2zM244 330h9.2v1.2h-9.2zM255 330h1.2v1.2h-1.2zM258 330h1.2v1.2h-1.2zM261 330h1.2v1.2h-1.2zM265 330h1.2v1.2h-1.2zM267 330h1.2v1.2h-1.2zM275 330h1.2v1.2h-1.2zM301 330h1.2v1.2h-1.2zM304 330h1.2v1.2h-1.2zM309 330h1.2v1.2h-1.2zM320 330h1.2v1.2h-1.2zM386 330h2.2v1.2h-2.2zM390 330h10.2v1.2h-10.2zM401 330h3.2v1.2h-3.2zM405 330h10.2v1.2h-10.2zM416 330h2.2v1.2h-2.2zM423 330h1.2v1.2h-1.2zM425 330h1.2v1.2h-1.2zM435 330h1.2v1.2h-1.2zM47 331h1.2v1.2h-1.2zM52 331h1.2v1.2h-1.2zM54 331h4.2v1.2h-4.2zM59 331h2.2v1.2h-2.2zM63 331h3.2v1.2h-3.2zM68 331h2.2v1.2h-2.2zM72 331h2.2v1.2h-2.2zM76 331h1.2v1.2h-1.2zM104 331h1.2v1.2h-1.2zM219 331h9.2v1.2h-9.2zM229 331h10.2v1.2h-10.2zM240 331h12.2v1.2h-12.2zM263 331h1.2v1.2h-1.2zM293 331h1.2v1.2h-1.2zM314 331h1.2v1.2h-1.2zM386 331h1.2v1.2h-1.2zM388 331h2.2v1.2h-2.2zM393 331h4.2v1.2h-4.2zM398 331h11.2v1.2h-11.2zM412 331h5.2v1.2h-5.2zM425 331h1.2v1.2h-1.2zM432 331h1.2v1.2h-1.2zM436 331h1.2v1.2h-1.2zM460 331h1.2v1.2h-1.2zM466 331h1.2v1.2h-1.2zM44 332h1.2v1.2h-1.2zM46 332h2.2v1.2h-2.2zM49 332h1.2v1.2h-1.2zM53 332h1.2v1.2h-1.2zM59 332h5.2v1.2h-5.2zM69 332h1.2v1.2h-1.2zM71 332h4.2v1.2h-4.2zM78 332h1.2v1.2h-1.2zM80 332h1.2v1.2h-1.2zM82 332h1.2v1.2h-1.2zM221 332h1.2v1.2h-1.2zM223 332h5.2v1.2h-5.2zM229 332h3.2v1.2h-3.2zM233 332h12.2v1.2h-12.2zM247 332h4.2v1.2h-4.2zM252 332h2.2v1.2h-2.2zM257 332h1.2v1.2h-1.2zM262 332h1.2v1.2h-1.2zM270 332h1.2v1.2h-1.2zM275 332h1.2v1.2h-1.2zM388 332h1.2v1.2h-1.2zM390 332h11.2v1.2h-11.2zM402 332h14.2v1.2h-14.2zM417 332h1.2v1.2h-1.2zM419 332h1.2v1.2h-1.2zM429 332h1.2v1.2h-1.2zM431 332h1.2v1.2h-1.2zM452 332h1.2v1.2h-1.2zM461 332h1.2v1.2h-1.2zM479 332h1.2v1.2h-1.2zM44 333h3.2v1.2h-3.2zM51 333h4.2v1.2h-4.2zM58 333h1.2v1.2h-1.2zM60 333h3.2v1.2h-3.2zM66 333h3.2v1.2h-3.2zM72 333h3.2v1.2h-3.2zM77 333h1.2v1.2h-1.2zM79 333h1.2v1.2h-1.2zM221 333h13.2v1.2h-13.2zM236 333h4.2v1.2h-4.2zM241 333h12.2v1.2h-12.2zM258 333h1.2v1.2h-1.2zM303 333h1.2v1.2h-1.2zM313 333h1.2v1.2h-1.2zM389 333h16.2v1.2h-16.2zM406 333h6.2v1.2h-6.2zM413 333h2.2v1.2h-2.2zM416 333h1.2v1.2h-1.2zM418 333h2.2v1.2h-2.2zM422 333h2.2v1.2h-2.2zM434 333h1.2v1.2h-1.2zM436 333h1.2v1.2h-1.2zM440 333h1.2v1.2h-1.2zM453 333h1.2v1.2h-1.2zM474 333h1.2v1.2h-1.2zM485 333h2.2v1.2h-2.2zM47 334h1.2v1.2h-1.2zM50 334h1.2v1.2h-1.2zM52 334h1.2v1.2h-1.2zM54 334h1.2v1.2h-1.2zM57 334h1.2v1.2h-1.2zM60 334h3.2v1.2h-3.2zM65 334h2.2v1.2h-2.2zM71 334h5.2v1.2h-5.2zM78 334h1.2v1.2h-1.2zM131 334h1.2v1.2h-1.2zM219 334h1.2v1.2h-1.2zM222 334h1.2v1.2h-1.2zM224 334h2.2v1.2h-2.2zM228 334h2.2v1.2h-2.2zM231 334h1.2v1.2h-1.2zM233 334h1.2v1.2h-1.2zM237 334h4.2v1.2h-4.2zM242 334h1.2v1.2h-1.2zM244 334h10.2v1.2h-10.2zM255 334h1.2v1.2h-1.2zM257 334h2.2v1.2h-2.2zM260 334h1.2v1.2h-1.2zM293 334h1.2v1.2h-1.2zM299 334h1.2v1.2h-1.2zM309 334h1.2v1.2h-1.2zM315 334h1.2v1.2h-1.2zM386 334h6.2v1.2h-6.2zM393 334h5.2v1.2h-5.2zM399 334h2.2v1.2h-2.2zM402 334h1.2v1.2h-1.2zM404 334h5.2v1.2h-5.2zM410 334h1.2v1.2h-1.2zM412 334h1.2v1.2h-1.2zM414 334h1.2v1.2h-1.2zM416 334h2.2v1.2h-2.2zM424 334h1.2v1.2h-1.2zM427 334h2.2v1.2h-2.2zM440 334h1.2v1.2h-1.2zM49 335h3.2v1.2h-3.2zM53 335h4.2v1.2h-4.2zM58 335h1.2v1.2h-1.2zM61 335h1.2v1.2h-1.2zM64 335h1.2v1.2h-1.2zM66 335h2.2v1.2h-2.2zM70 335h2.2v1.2h-2.2zM75 335h1.2v1.2h-1.2zM221 335h12.2v1.2h-12.2zM234 335h3.2v1.2h-3.2zM239 335h2.2v1.2h-2.2zM243 335h3.2v1.2h-3.2zM247 335h7.2v1.2h-7.2zM263 335h2.2v1.2h-2.2zM268 335h2.2v1.2h-2.2zM273 335h1.2v1.2h-1.2zM299 335h2.2v1.2h-2.2zM306 335h1.2v1.2h-1.2zM308 335h1.2v1.2h-1.2zM390 335h9.2v1.2h-9.2zM400 335h12.2v1.2h-12.2zM413 335h2.2v1.2h-2.2zM416 335h1.2v1.2h-1.2zM421 335h1.2v1.2h-1.2zM423 335h1.2v1.2h-1.2zM425 335h1.2v1.2h-1.2zM428 335h1.2v1.2h-1.2zM434 335h2.2v1.2h-2.2zM437 335h2.2v1.2h-2.2zM464 335h1.2v1.2h-1.2zM482 335h1.2v1.2h-1.2zM47 336h3.2v1.2h-3.2zM52 336h1.2v1.2h-1.2zM54 336h2.2v1.2h-2.2zM58 336h7.2v1.2h-7.2zM68 336h4.2v1.2h-4.2zM74 336h1.2v1.2h-1.2zM80 336h1.2v1.2h-1.2zM220 336h2.2v1.2h-2.2zM223 336h1.2v1.2h-1.2zM226 336h5.2v1.2h-5.2zM232 336h2.2v1.2h-2.2zM235 336h1.2v1.2h-1.2zM237 336h1.2v1.2h-1.2zM240 336h3.2v1.2h-3.2zM245 336h5.2v1.2h-5.2zM252 336h1.2v1.2h-1.2zM254 336h2.2v1.2h-2.2zM260 336h2.2v1.2h-2.2zM264 336h1.2v1.2h-1.2zM307 336h1.2v1.2h-1.2zM309 336h1.2v1.2h-1.2zM311 336h1.2v1.2h-1.2zM388 336h1.2v1.2h-1.2zM390 336h1.2v1.2h-1.2zM392 336h1.2v1.2h-1.2zM394 336h2.2v1.2h-2.2zM397 336h5.2v1.2h-5.2zM403 336h1.2v1.2h-1.2zM407 336h2.2v1.2h-2.2zM410 336h6.2v1.2h-6.2zM418 336h1.2v1.2h-1.2zM428 336h2.2v1.2h-2.2zM432 336h1.2v1.2h-1.2zM434 336h1.2v1.2h-1.2zM455 336h2.2v1.2h-2.2zM475 336h1.2v1.2h-1.2zM487 336h1.2v1.2h-1.2zM44 337h1.2v1.2h-1.2zM49 337h1.2v1.2h-1.2zM53 337h6.2v1.2h-6.2zM60 337h1.2v1.2h-1.2zM62 337h1.2v1.2h-1.2zM65 337h1.2v1.2h-1.2zM69 337h3.2v1.2h-3.2zM73 337h2.2v1.2h-2.2zM223 337h1.2v1.2h-1.2zM225 337h1.2v1.2h-1.2zM227 337h1.2v1.2h-1.2zM229 337h2.2v1.2h-2.2zM233 337h1.2v1.2h-1.2zM235 337h3.2v1.2h-3.2zM239 337h4.2v1.2h-4.2zM244 337h1.2v1.2h-1.2zM246 337h1.2v1.2h-1.2zM249 337h1.2v1.2h-1.2zM252 337h1.2v1.2h-1.2zM255 337h1.2v1.2h-1.2zM260 337h2.2v1.2h-2.2zM263 337h1.2v1.2h-1.2zM265 337h1.2v1.2h-1.2zM299 337h1.2v1.2h-1.2zM306 337h1.2v1.2h-1.2zM386 337h2.2v1.2h-2.2zM390 337h3.2v1.2h-3.2zM394 337h1.2v1.2h-1.2zM396 337h1.2v1.2h-1.2zM398 337h1.2v1.2h-1.2zM400 337h3.2v1.2h-3.2zM404 337h1.2v1.2h-1.2zM406 337h3.2v1.2h-3.2zM411 337h2.2v1.2h-2.2zM414 337h2.2v1.2h-2.2zM417 337h2.2v1.2h-2.2zM428 337h1.2v1.2h-1.2zM438 337h1.2v1.2h-1.2zM461 337h1.2v1.2h-1.2zM390 338h1.2v1.2h-1.2zM394 338h2.2v1.2h-2.2zM397 338h2.2v1.2h-2.2zM400 338h2.2v1.2h-2.2zM403 338h3.2v1.2h-3.2zM407 338h1.2v1.2h-1.2zM410 338h3.2v1.2h-3.2zM417 338h1.2v1.2h-1.2zM426 338h2.2v1.2h-2.2zM429 338h1.2v1.2h-1.2zM435 338h1.2v1.2h-1.2zM471 338h1.2v1.2h-1.2z" fill="#000"/><path d="M43.1 151.4V20.8H164.2V151.4H43.1" fill="none" stroke="#2a2a2a" stroke-width="1.2"/><path d="M216.8 151.5V29.2H331.9V151.5H216.8" fill="none" stroke="#2a2a2a" stroke-width="1.2"/><path d="M385.3 151.8V24.2H512.7V151.8H385.3" fill="none" stroke="#2a2a2a" stroke-width="1.2"/><path d="M43.1 339.2V213.8H167.3V339.2H43.1" fill="none" stroke="#2a2a2a" stroke-width="1.2"/><path d="M218.2 339.2V218.7H338.6V339.2H218.2" fill="none" stroke="#2a2a2a" stroke-width="1.2"/><path d="M386.1 339.8V211.9H505V339.8H386.1" fill="none" stroke="#2a2a2a" stroke-width="1.2"/><path d="M39.300000000000004 20.8H43.1M39.300000000000004 53H43.1M39.300000000000004 85.5H43.1M39.300000000000004 118.4H43.1M39.300000000000004 151H43.1M43.8 151.4V155.0M67.6 151.4V155.0M90.6 151.4V155.0M113.7 151.4V155.0M136.8 151.4V155.0M160.8 151.4V155.0M213.0 29.2H216.8M213.0 59.7H216.8M213.0 90.4H216.8M213.0 120.3H216.8M213.0 151.3H216.8M217.8 151.5V155.1M240.4 151.5V155.1M262.6 151.5V155.1M284.6 151.5V155.1M306.6 151.5V155.1M328.6 151.5V155.1M381.5 24.4H385.3M381.5 55.5H385.3M381.5 87.2H385.3M381.5 119.7H385.3M381.5 151.5H385.3M385.3 151.8V155.4M410.5 151.8V155.4M435.3 151.8V155.4M459.9 151.8V155.4M484.4 151.8V155.4M509.3 151.8V155.4M39.300000000000004 214H43.1M39.300000000000004 245.2H43.1M39.300000000000004 276.9H43.1M39.300000000000004 307.7H43.1M39.300000000000004 338.9H43.1M43.8 339.2V342.59999999999997M75.2 339.2V342.59999999999997M106.1 339.2V342.59999999999997M136.4 339.2V342.59999999999997M166.4 339.2V342.59999999999997M214.39999999999998 219H218.2M214.39999999999998 249.2H218.2M214.39999999999998 278.9H218.2M214.39999999999998 308H218.2M214.39999999999998 339H218.2M218.5 339.2V342.59999999999997M249.3 339.2V342.59999999999997M278.5 339.2V342.59999999999997M308.5 339.2V342.59999999999997M338.1 339.2V342.59999999999997M382.3 212H386.1M382.3 243.4H386.1M382.3 275.2H386.1M382.3 307.7H386.1M382.3 339.5H386.1M385.9 339.8V343.2M416.1 339.8V343.2M445.9 339.8V343.2M476.1 339.8V343.2M504.5 339.8V343.2" stroke="#2a2a2a" stroke-width="1.2" fill="none"/><path d="M68.1 20.8V72.4H164.2M240.6 29.2V76.8H331.9M411.5 24.2V74H512.7" fill="none" stroke="#2a2a2a" stroke-width="1.25"/><defs><clipPath id="c4"><rect x="43.1" y="213.8" width="124.2" height="125.4"/></clipPath><clipPath id="c5"><rect x="218.1" y="218.7" width="120.5" height="120.5"/></clipPath><clipPath id="c6"><rect x="385.8" y="211.9" width="119.2" height="127.9"/></clipPath></defs><ellipse cx="59.5" cy="267.2" rx="27.5" ry="28.7" fill="none" stroke="#111" stroke-width="1.35" clip-path="url(#c4)"/><ellipse cx="304.5" cy="317" rx="26" ry="35.5" fill="none" stroke="#111" stroke-width="1.35" clip-path="url(#c5)"/><ellipse cx="470.7" cy="315.5" rx="25.8" ry="37" fill="none" stroke="#111" stroke-width="1.35" clip-path="url(#c6)"/><path d="M218.1 248.5C222 245 228 243 235 243C249 243 260.1 255 260.1 270C260.1 284 251 295 237 296C229 296.5 222 294.5 218.1 291.5M386.1 243.4C389 240 395 238.4 401.5 238.4C416 238.4 427.6 252 427.6 267C427.6 282 417 294 403 296C395 297 389 295 386.1 292" fill="none" stroke="#111" stroke-width="1.35"/><g stroke="#111" stroke-width="0.2"><text x="37.9" y="24.6" font-size="9.9" font-weight="bold" text-anchor="end" stroke-width="0">10<tspan font-size="7.3" dy="-3.4">4</tspan></text><text x="37.9" y="56.8" font-size="9.9" font-weight="bold" text-anchor="end" stroke-width="0">10<tspan font-size="7.3" dy="-3.4">3</tspan></text><text x="37.9" y="89.3" font-size="9.9" font-weight="bold" text-anchor="end" stroke-width="0">10<tspan font-size="7.3" dy="-3.4">2</tspan></text><text x="37.9" y="122.2" font-size="9.9" font-weight="bold" text-anchor="end" stroke-width="0">10<tspan font-size="7.3" dy="-3.4">1</tspan></text><text x="37.9" y="154.8" font-size="9.9" font-weight="bold" text-anchor="end" stroke-width="0">10<tspan font-size="7.3" dy="-3.4">0</tspan></text><text x="43.8" y="162.7" font-size="8.2" font-weight="bold" text-anchor="middle" stroke="#111" stroke-width="0.15">0</text><text x="67.6" y="162.7" font-size="8.2" font-weight="bold" text-anchor="middle" stroke="#111" stroke-width="0.15">200</text><text x="90.6" y="162.7" font-size="8.2" font-weight="bold" text-anchor="middle" stroke="#111" stroke-width="0.15">400</text><text x="113.7" y="162.7" font-size="8.2" font-weight="bold" text-anchor="middle" stroke="#111" stroke-width="0.15">600</text><text x="136.8" y="162.7" font-size="8.2" font-weight="bold" text-anchor="middle" stroke="#111" stroke-width="0.15">800</text><text x="160.8" y="162.7" font-size="8.2" font-weight="bold" text-anchor="middle" stroke="#111" stroke-width="0.15">1000</text><text x="211.60000000000002" y="33.0" font-size="9.9" font-weight="bold" text-anchor="end" stroke-width="0">10<tspan font-size="7.3" dy="-3.4">4</tspan></text><text x="211.60000000000002" y="63.5" font-size="9.9" font-weight="bold" text-anchor="end" stroke-width="0">10<tspan font-size="7.3" dy="-3.4">3</tspan></text><text x="211.60000000000002" y="94.2" font-size="9.9" font-weight="bold" text-anchor="end" stroke-width="0">10<tspan font-size="7.3" dy="-3.4">2</tspan></text><text x="211.60000000000002" y="124.1" font-size="9.9" font-weight="bold" text-anchor="end" stroke-width="0">10<tspan font-size="7.3" dy="-3.4">1</tspan></text><text x="211.60000000000002" y="155.1" font-size="9.9" font-weight="bold" text-anchor="end" stroke-width="0">10<tspan font-size="7.3" dy="-3.4">0</tspan></text><text x="217.8" y="162.8" font-size="8.2" font-weight="bold" text-anchor="middle" stroke="#111" stroke-width="0.15">0</text><text x="240.4" y="162.8" font-size="8.2" font-weight="bold" text-anchor="middle" stroke="#111" stroke-width="0.15">200</text><text x="262.6" y="162.8" font-size="8.2" font-weight="bold" text-anchor="middle" stroke="#111" stroke-width="0.15">400</text><text x="284.6" y="162.8" font-size="8.2" font-weight="bold" text-anchor="middle" stroke="#111" stroke-width="0.15">600</text><text x="306.6" y="162.8" font-size="8.2" font-weight="bold" text-anchor="middle" stroke="#111" stroke-width="0.15">800</text><text x="328.6" y="162.8" font-size="8.2" font-weight="bold" text-anchor="middle" stroke="#111" stroke-width="0.15">1000</text><text x="380.1" y="28.2" font-size="9.9" font-weight="bold" text-anchor="end" stroke-width="0">10<tspan font-size="7.3" dy="-3.4">4</tspan></text><text x="380.1" y="59.3" font-size="9.9" font-weight="bold" text-anchor="end" stroke-width="0">10<tspan font-size="7.3" dy="-3.4">3</tspan></text><text x="380.1" y="91.0" font-size="9.9" font-weight="bold" text-anchor="end" stroke-width="0">10<tspan font-size="7.3" dy="-3.4">2</tspan></text><text x="380.1" y="123.5" font-size="9.9" font-weight="bold" text-anchor="end" stroke-width="0">10<tspan font-size="7.3" dy="-3.4">1</tspan></text><text x="380.1" y="155.3" font-size="9.9" font-weight="bold" text-anchor="end" stroke-width="0">10<tspan font-size="7.3" dy="-3.4">0</tspan></text><text x="385.3" y="163.1" font-size="8.2" font-weight="bold" text-anchor="middle" stroke="#111" stroke-width="0.15">0</text><text x="410.5" y="163.1" font-size="8.2" font-weight="bold" text-anchor="middle" stroke="#111" stroke-width="0.15">200</text><text x="435.3" y="163.1" font-size="8.2" font-weight="bold" text-anchor="middle" stroke="#111" stroke-width="0.15">400</text><text x="459.9" y="163.1" font-size="8.2" font-weight="bold" text-anchor="middle" stroke="#111" stroke-width="0.15">600</text><text x="484.4" y="163.1" font-size="8.2" font-weight="bold" text-anchor="middle" stroke="#111" stroke-width="0.15">800</text><text x="509.3" y="163.1" font-size="8.2" font-weight="bold" text-anchor="middle" stroke="#111" stroke-width="0.15">1000</text><text x="37.9" y="217.8" font-size="9.9" font-weight="bold" text-anchor="end" stroke-width="0">10<tspan font-size="7.3" dy="-3.4">4</tspan></text><text x="37.9" y="249.0" font-size="9.9" font-weight="bold" text-anchor="end" stroke-width="0">10<tspan font-size="7.3" dy="-3.4">3</tspan></text><text x="37.9" y="280.7" font-size="9.9" font-weight="bold" text-anchor="end" stroke-width="0">10<tspan font-size="7.3" dy="-3.4">2</tspan></text><text x="37.9" y="311.5" font-size="9.9" font-weight="bold" text-anchor="end" stroke-width="0">10<tspan font-size="7.3" dy="-3.4">1</tspan></text><text x="37.9" y="342.7" font-size="9.9" font-weight="bold" text-anchor="end" stroke-width="0">10<tspan font-size="7.3" dy="-3.4">0</tspan></text><text x="43.8" y="352.5" font-size="10" font-weight="normal" text-anchor="middle" stroke="#111" stroke-width="0.35">10<tspan font-size="8" dy="-3">0</tspan></text><text x="75.2" y="352.5" font-size="10" font-weight="normal" text-anchor="middle" stroke="#111" stroke-width="0.35">10<tspan font-size="8" dy="-3">1</tspan></text><text x="106.1" y="352.5" font-size="10" font-weight="normal" text-anchor="middle" stroke="#111" stroke-width="0.35">10<tspan font-size="8" dy="-3">2</tspan></text><text x="136.4" y="352.5" font-size="10" font-weight="normal" text-anchor="middle" stroke="#111" stroke-width="0.35">10<tspan font-size="8" dy="-3">3</tspan></text><text x="166.4" y="352.5" font-size="10" font-weight="normal" text-anchor="middle" stroke="#111" stroke-width="0.35">10<tspan font-size="8" dy="-3">4</tspan></text><text x="213.0" y="222.8" font-size="9.9" font-weight="bold" text-anchor="end" stroke-width="0">10<tspan font-size="7.3" dy="-3.4">4</tspan></text><text x="213.0" y="253.0" font-size="9.9" font-weight="bold" text-anchor="end" stroke-width="0">10<tspan font-size="7.3" dy="-3.4">3</tspan></text><text x="213.0" y="282.7" font-size="9.9" font-weight="bold" text-anchor="end" stroke-width="0">10<tspan font-size="7.3" dy="-3.4">2</tspan></text><text x="213.0" y="311.8" font-size="9.9" font-weight="bold" text-anchor="end" stroke-width="0">10<tspan font-size="7.3" dy="-3.4">1</tspan></text><text x="213.0" y="342.8" font-size="9.9" font-weight="bold" text-anchor="end" stroke-width="0">10<tspan font-size="7.3" dy="-3.4">0</tspan></text><text x="218.5" y="352.5" font-size="10" font-weight="normal" text-anchor="middle" stroke="#111" stroke-width="0.35">10<tspan font-size="8" dy="-3">0</tspan></text><text x="249.3" y="352.5" font-size="10" font-weight="normal" text-anchor="middle" stroke="#111" stroke-width="0.35">10<tspan font-size="8" dy="-3">1</tspan></text><text x="278.5" y="352.5" font-size="10" font-weight="normal" text-anchor="middle" stroke="#111" stroke-width="0.35">10<tspan font-size="8" dy="-3">2</tspan></text><text x="308.5" y="352.5" font-size="10" font-weight="normal" text-anchor="middle" stroke="#111" stroke-width="0.35">10<tspan font-size="8" dy="-3">3</tspan></text><text x="338.1" y="352.5" font-size="10" font-weight="normal" text-anchor="middle" stroke="#111" stroke-width="0.35">10<tspan font-size="8" dy="-3">4</tspan></text><text x="380.90000000000003" y="215.8" font-size="9.9" font-weight="bold" text-anchor="end" stroke-width="0">10<tspan font-size="7.3" dy="-3.4">4</tspan></text><text x="380.90000000000003" y="247.2" font-size="9.9" font-weight="bold" text-anchor="end" stroke-width="0">10<tspan font-size="7.3" dy="-3.4">3</tspan></text><text x="380.90000000000003" y="279.0" font-size="9.9" font-weight="bold" text-anchor="end" stroke-width="0">10<tspan font-size="7.3" dy="-3.4">2</tspan></text><text x="380.90000000000003" y="311.5" font-size="9.9" font-weight="bold" text-anchor="end" stroke-width="0">10<tspan font-size="7.3" dy="-3.4">1</tspan></text><text x="380.90000000000003" y="343.3" font-size="9.9" font-weight="bold" text-anchor="end" stroke-width="0">10<tspan font-size="7.3" dy="-3.4">0</tspan></text><text x="385.9" y="353.1" font-size="10" font-weight="normal" text-anchor="middle" stroke="#111" stroke-width="0.35">10<tspan font-size="8" dy="-3">0</tspan></text><text x="416.1" y="353.1" font-size="10" font-weight="normal" text-anchor="middle" stroke="#111" stroke-width="0.35">10<tspan font-size="8" dy="-3">1</tspan></text><text x="445.9" y="353.1" font-size="10" font-weight="normal" text-anchor="middle" stroke="#111" stroke-width="0.35">10<tspan font-size="8" dy="-3">2</tspan></text><text x="476.1" y="353.1" font-size="10" font-weight="normal" text-anchor="middle" stroke="#111" stroke-width="0.35">10<tspan font-size="8" dy="-3">3</tspan></text><text x="504.5" y="353.1" font-size="10" font-weight="normal" text-anchor="middle" stroke="#111" stroke-width="0.35">10<tspan font-size="8" dy="-3">4</tspan></text><text x="104" y="10.2" font-size="11.8" font-weight="bold" text-anchor="middle">Control w/o graft</text><text x="277.6" y="10.4" font-size="11.8" font-weight="bold" text-anchor="middle" word-spacing="0.6">PBC graft mouse 1</text><text x="449.3" y="10.4" font-size="11.9" font-weight="bold" text-anchor="middle" word-spacing="1">PBC graft mouse 2</text><text x="96.4" y="176.4" font-size="9.7" font-weight="bold" text-anchor="middle">FSC</text><text x="278.4" y="176.4" font-size="9.7" font-weight="bold" text-anchor="middle">FSC</text><text x="459.9" y="176.4" font-size="9.7" font-weight="bold" text-anchor="middle">FSC</text><text x="105.8" y="365.6" font-size="10.3" font-weight="bold" text-anchor="middle">CD10</text><text x="279.9" y="365.6" font-size="10.3" font-weight="bold" text-anchor="middle">CD10</text><text x="460.5" y="365.6" font-size="10.3" font-weight="bold" text-anchor="middle">CD10</text><text transform="translate(10.9,84.8) rotate(-90)" font-size="10" font-weight="bold" text-anchor="middle">HLA-ABC</text><text transform="translate(10.8,276.2) rotate(-90)" font-size="9.7" font-weight="bold" text-anchor="middle">CD13</text><text transform="translate(81.3 55.7) scale(0.97 1)" font-size="10.7" font-weight="bold">0,1%</text><text transform="translate(241.6 38.4) scale(0.97 1)" font-size="10.7" font-weight="bold">39,1%</text><text transform="translate(412.4 70.2) scale(0.97 1)" font-size="10.7" font-weight="bold">22,2%</text><text transform="translate(86.7 250.1) scale(0.98 1)" font-size="10.7" font-weight="bold">0.6%</text><text transform="translate(224.0 238.4) scale(0.96 1)" font-size="10.4" font-weight="bold">30.7%</text><text transform="translate(301.4 274) scale(0.97 1)" font-size="10.7" font-weight="bold">2.14%</text><text transform="translate(390.5 235.3) scale(0.96 1)" font-size="10.4" font-weight="bold">16,5%</text><text transform="translate(468.7 267.6) scale(0.98 1)" font-size="10.7" font-weight="bold">1.1%</text></g></svg></body></html>
